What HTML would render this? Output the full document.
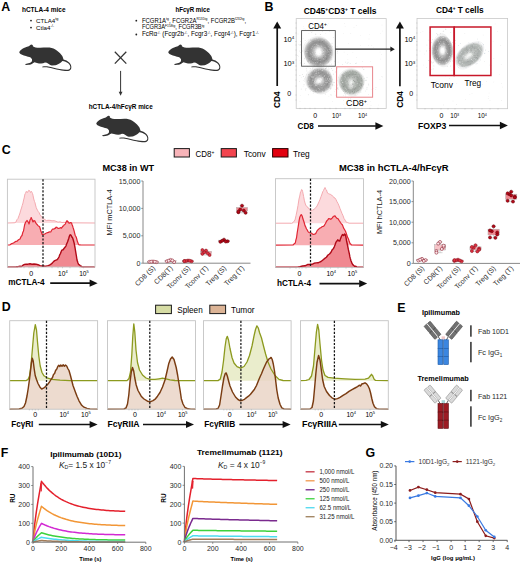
<!DOCTYPE html><html><head><meta charset="utf-8"><style>html,body{margin:0;padding:0;background:#fff;overflow:hidden;}svg{display:block;}text{font-family:"Liberation Sans",sans-serif;}</style></head><body>
<svg width="520" height="563" viewBox="0 0 520 563" font-family="Liberation Sans, sans-serif">
<rect width="520" height="563" fill="#ffffff"/>
<defs><path id="mouse" d="M19.3,52.1 C20.2,50.6 22,49 23.9,48.1 C25.6,47.3 27.2,46.8 28.8,46.3 L31.1,44.5 L32.7,44.9 L32.9,46.3 C34.5,47.5 37,47.9 40.1,47.8 C43,47.6 46.5,47.3 49.6,47.5 C52.3,47.8 54.8,49.1 57.1,50.7 C59.2,52.2 61.2,54.2 62.3,56.1 C62.9,57.2 63.2,58.4 63.5,59.6 C65.5,60 67.6,61.1 69.2,62.5 C70.8,63.9 71.6,65.8 71.3,68 C71,69.8 69.8,70.8 68,71 C65.8,71.2 62.5,70.8 59.4,70.1 C55.5,69.3 51.5,67.9 47.9,67.5 C46,67.3 44,67.3 42.5,67.6 L42.4,66.6 C44.5,66.3 46.5,66.3 48.2,66.5 C51.8,66.9 55.8,68.3 59.6,69.1 C62.6,69.7 65.6,70 67.8,69.8 C69.4,69.6 70.2,68.8 70.3,67.6 C70.4,65.8 69.6,64.3 68.2,63.2 C66.6,62 64.5,61.2 62.4,61 C61.4,62.2 60.4,63 59.4,63.6 C58.2,64.5 56.8,65.1 55.4,65.2 L51.9,65.5 C50.4,65.3 49.2,64.4 48.4,63.7 C47.4,63 46.2,62.6 45,62.5 C43.8,63 42.5,63.4 41.2,63.5 C39.6,63.5 38.2,63.2 37,62.9 L34.4,62.3 C33.6,62.7 32.9,63.2 32.6,63.4 C31.6,64.2 30.1,64.5 28.6,64.7 L26.1,65 C25.2,65 24.9,64.4 25.5,64.1 C26.6,63.7 28.2,63.4 29.4,63.1 C30.6,62.7 31.5,62.2 31.9,61.3 C32.1,60.6 32.1,60 32,59.3 C31.5,58.5 31,58 30.6,57.6 C29.8,57.1 29,56.9 28,56.7 C26.5,56.3 25.2,56 23.9,55.6 C22.6,55.2 21.4,54.7 20.5,54.1 C19.8,53.6 19.2,52.9 19.3,52.1 Z" fill="#333333"/>
<radialGradient id="cg" cx="50%" cy="50%" r="50%"><stop offset="0" stop-color="#ffffff"/><stop offset="0.15" stop-color="#f4f4f4"/><stop offset="0.3" stop-color="#d0d0d0"/><stop offset="0.5" stop-color="#a6a6a6"/><stop offset="0.68" stop-color="#969696"/><stop offset="0.82" stop-color="#b2b2b2"/><stop offset="0.93" stop-color="#d4d4d4"/><stop offset="1" stop-color="#ececec" stop-opacity="0.5"/></radialGradient>
<radialGradient id="cg2" cx="50%" cy="50%" r="50%"><stop offset="0" stop-color="#f8f8f8"/><stop offset="0.18" stop-color="#dcdcdc"/><stop offset="0.45" stop-color="#a8a8a8"/><stop offset="0.7" stop-color="#a0a0a0"/><stop offset="0.88" stop-color="#c4c4c4"/><stop offset="1" stop-color="#e8e8e8" stop-opacity="0.4"/></radialGradient>
<radialGradient id="cg3" cx="50%" cy="50%" r="50%"><stop offset="0" stop-color="#e8ece8"/><stop offset="0.3" stop-color="#c0c4c0"/><stop offset="0.6" stop-color="#a8aca8"/><stop offset="0.85" stop-color="#b8bcb8"/><stop offset="1" stop-color="#e0e0e0" stop-opacity="0.4"/></radialGradient>
<filter id="bl" x="-50%" y="-50%" width="200%" height="200%"><feGaussianBlur stdDeviation="1.2"/></filter>
</defs>
<text x="1.2" y="11.2" font-size="12.4" font-weight="bold" >A</text>
<text x="22" y="12.3" font-size="6.6" font-weight="bold" textLength="43.5" lengthAdjust="spacingAndGlyphs" >hCTLA-4 mice</text>
<circle cx="31" cy="20.6" r="0.9" fill="#222"/>
<circle cx="31" cy="27.6" r="0.9" fill="#222"/>
<text x="36" y="22.6" font-size="6.2">CTLA4<tspan font-size="3.8" dy="-2.4">tg</tspan></text>
<text x="36" y="29.6" font-size="6.2">Ctla4<tspan font-size="3.8" dy="-2.4">-/-</tspan></text>
<text x="175.4" y="11.9" font-size="6.6" font-weight="bold" textLength="34.4" lengthAdjust="spacingAndGlyphs" >hFcγR mice</text>
<circle cx="136.3" cy="20.7" r="0.9" fill="#222"/>
<circle cx="136.3" cy="34.5" r="0.9" fill="#222"/>
<text x="141.9" y="22.7" font-size="6.3" textLength="104.2" lengthAdjust="spacingAndGlyphs">FCGR1A<tspan font-size="3.6" dy="-2.4">tg</tspan><tspan dy="2.4">, FCGR2A</tspan><tspan font-size="3.6" dy="-2.4">R131tg</tspan><tspan dy="2.4">, FCGR2B</tspan><tspan font-size="3.6" dy="-2.4">I232tg</tspan><tspan dy="2.4">,</tspan></text>
<text x="141.9" y="29.4" font-size="6.3" textLength="62.5" lengthAdjust="spacingAndGlyphs">FCGR3A<tspan font-size="3.6" dy="-2.4">F158tg</tspan><tspan dy="2.4">, FCGR3B</tspan><tspan font-size="3.6" dy="-2.4">tg</tspan></text>
<text x="141.9" y="36.3" font-size="6.3" textLength="117" lengthAdjust="spacingAndGlyphs">FcRα<tspan font-size="3.6" dy="-2.4">-/-</tspan><tspan dy="2.4"> (Fcgr2b</tspan><tspan font-size="3.6" dy="-2.4">-/-</tspan><tspan dy="2.4">, Fcgr3</tspan><tspan font-size="3.6" dy="-2.4">-/-</tspan><tspan dy="2.4">, Fcgr4</tspan><tspan font-size="3.6" dy="-2.4">-/-</tspan><tspan dy="2.4">), Fcgr1</tspan><tspan font-size="3.6" dy="-2.4">-/-</tspan></text>
<use href="#mouse" x="0" y="0"/>
<use href="#mouse" x="149" y="0"/>
<use href="#mouse" x="77" y="71.2"/>
<line x1="114.8" y1="51.8" x2="126.3" y2="63.6" stroke="#333" stroke-width="1.25" />
<line x1="126.3" y1="51.8" x2="114.8" y2="63.6" stroke="#333" stroke-width="1.25" />
<line x1="120.6" y1="70.9" x2="120.6" y2="92.5" stroke="#333" stroke-width="1.0" />
<polygon points="120.6,95.8 118.7,91.7 122.5,91.7" fill="#333"/>
<text x="88.7" y="109.4" font-size="6.6" font-weight="bold" textLength="64" lengthAdjust="spacingAndGlyphs" >hCTLA-4/hFcγR mice</text>
<text x="264.6" y="11.0" font-size="12.4" font-weight="bold" >B</text>
<text x="303.7" y="13.5" font-size="8.7" font-weight="bold" textLength="72.8" lengthAdjust="spacingAndGlyphs">CD45<tspan font-size="5" dy="-3">+</tspan><tspan dy="3">CD3</tspan><tspan font-size="5" dy="-3">+</tspan><tspan dy="3"> T cells</tspan></text>
<text x="436" y="12.9" font-size="8.7" font-weight="bold" textLength="47.6" lengthAdjust="spacingAndGlyphs">CD4<tspan font-size="5" dy="-3">+</tspan><tspan dy="3"> T cells</tspan></text>
<rect x="296.2" y="18.6" width="90.0" height="89.8" fill="none" stroke="#c8c8c8" stroke-width="0.8" />
<line x1="295.4" y1="23" x2="296.6" y2="23" stroke="#aaa" stroke-width="0.4" />
<line x1="295.4" y1="28" x2="296.6" y2="28" stroke="#aaa" stroke-width="0.4" />
<line x1="295.4" y1="33" x2="296.6" y2="33" stroke="#aaa" stroke-width="0.4" />
<line x1="295.4" y1="41.5" x2="296.6" y2="41.5" stroke="#aaa" stroke-width="0.4" />
<line x1="295.4" y1="45" x2="296.6" y2="45" stroke="#aaa" stroke-width="0.4" />
<line x1="295.4" y1="50" x2="296.6" y2="50" stroke="#aaa" stroke-width="0.4" />
<line x1="295.4" y1="55" x2="296.6" y2="55" stroke="#aaa" stroke-width="0.4" />
<line x1="295.4" y1="60" x2="296.6" y2="60" stroke="#aaa" stroke-width="0.4" />
<line x1="295.4" y1="66" x2="296.6" y2="66" stroke="#aaa" stroke-width="0.4" />
<line x1="295.4" y1="70" x2="296.6" y2="70" stroke="#aaa" stroke-width="0.4" />
<line x1="295.4" y1="75" x2="296.6" y2="75" stroke="#aaa" stroke-width="0.4" />
<line x1="295.4" y1="80" x2="296.6" y2="80" stroke="#aaa" stroke-width="0.4" />
<line x1="295.4" y1="86" x2="296.6" y2="86" stroke="#aaa" stroke-width="0.4" />
<line x1="295.4" y1="95" x2="296.6" y2="95" stroke="#aaa" stroke-width="0.4" />
<line x1="295.4" y1="100" x2="296.6" y2="100" stroke="#aaa" stroke-width="0.4" />
<line x1="300" y1="107.8" x2="300" y2="109.2" stroke="#aaa" stroke-width="0.4" />
<line x1="305" y1="107.8" x2="305" y2="109.2" stroke="#aaa" stroke-width="0.4" />
<line x1="310" y1="107.8" x2="310" y2="109.2" stroke="#aaa" stroke-width="0.4" />
<line x1="315" y1="107.8" x2="315" y2="109.2" stroke="#aaa" stroke-width="0.4" />
<line x1="325" y1="107.8" x2="325" y2="109.2" stroke="#aaa" stroke-width="0.4" />
<line x1="330" y1="107.8" x2="330" y2="109.2" stroke="#aaa" stroke-width="0.4" />
<line x1="336" y1="107.8" x2="336" y2="109.2" stroke="#aaa" stroke-width="0.4" />
<line x1="345" y1="107.8" x2="345" y2="109.2" stroke="#aaa" stroke-width="0.4" />
<line x1="350" y1="107.8" x2="350" y2="109.2" stroke="#aaa" stroke-width="0.4" />
<line x1="355" y1="107.8" x2="355" y2="109.2" stroke="#aaa" stroke-width="0.4" />
<line x1="362" y1="107.8" x2="362" y2="109.2" stroke="#aaa" stroke-width="0.4" />
<line x1="370" y1="107.8" x2="370" y2="109.2" stroke="#aaa" stroke-width="0.4" />
<line x1="378" y1="107.8" x2="378" y2="109.2" stroke="#aaa" stroke-width="0.4" />
<circle cx="325.8" cy="33.8" r="0.3" fill="#bbb" opacity="0.6"/>
<circle cx="354.0" cy="27.2" r="0.3" fill="#bbb" opacity="0.6"/>
<circle cx="344.1" cy="52.1" r="0.3" fill="#bbb" opacity="0.6"/>
<circle cx="303.0" cy="64.1" r="0.3" fill="#bbb" opacity="0.6"/>
<circle cx="301.2" cy="57.9" r="0.3" fill="#bbb" opacity="0.6"/>
<circle cx="304.0" cy="28.7" r="0.3" fill="#bbb" opacity="0.6"/>
<circle cx="334.5" cy="91.3" r="0.3" fill="#bbb" opacity="0.6"/>
<circle cx="308.6" cy="40.0" r="0.3" fill="#bbb" opacity="0.6"/>
<circle cx="352.0" cy="101.6" r="0.3" fill="#bbb" opacity="0.6"/>
<circle cx="347.6" cy="54.7" r="0.3" fill="#bbb" opacity="0.6"/>
<circle cx="382.0" cy="25.0" r="0.3" fill="#bbb" opacity="0.6"/>
<circle cx="371.8" cy="45.6" r="0.3" fill="#bbb" opacity="0.6"/>
<circle cx="310.4" cy="31.0" r="0.3" fill="#bbb" opacity="0.6"/>
<circle cx="324.5" cy="90.4" r="0.3" fill="#bbb" opacity="0.6"/>
<circle cx="313.5" cy="70.4" r="0.3" fill="#bbb" opacity="0.6"/>
<circle cx="352.9" cy="52.7" r="0.3" fill="#bbb" opacity="0.6"/>
<circle cx="345.1" cy="26.3" r="0.3" fill="#bbb" opacity="0.6"/>
<circle cx="303.1" cy="38.5" r="0.3" fill="#bbb" opacity="0.6"/>
<circle cx="356.5" cy="57.3" r="0.3" fill="#bbb" opacity="0.6"/>
<circle cx="325.0" cy="70.8" r="0.3" fill="#bbb" opacity="0.6"/>
<circle cx="337.0" cy="46.5" r="0.3" fill="#bbb" opacity="0.6"/>
<circle cx="366.3" cy="80.4" r="0.3" fill="#bbb" opacity="0.6"/>
<circle cx="319.0" cy="69.8" r="0.3" fill="#bbb" opacity="0.6"/>
<circle cx="343.2" cy="95.4" r="0.3" fill="#bbb" opacity="0.6"/>
<circle cx="360.7" cy="45.5" r="0.3" fill="#bbb" opacity="0.6"/>
<circle cx="382.3" cy="31.0" r="0.3" fill="#bbb" opacity="0.6"/>
<circle cx="334.0" cy="85.4" r="0.3" fill="#bbb" opacity="0.6"/>
<circle cx="311.1" cy="62.6" r="0.3" fill="#bbb" opacity="0.6"/>
<circle cx="301.4" cy="77.8" r="0.3" fill="#bbb" opacity="0.6"/>
<circle cx="363.8" cy="69.7" r="0.3" fill="#bbb" opacity="0.6"/>
<circle cx="373.3" cy="47.7" r="0.3" fill="#bbb" opacity="0.6"/>
<circle cx="357.8" cy="71.5" r="0.3" fill="#bbb" opacity="0.6"/>
<circle cx="347.9" cy="59.8" r="0.3" fill="#bbb" opacity="0.6"/>
<circle cx="370.2" cy="101.3" r="0.3" fill="#bbb" opacity="0.6"/>
<circle cx="338.8" cy="77.5" r="0.3" fill="#bbb" opacity="0.6"/>
<circle cx="303.2" cy="80.6" r="0.3" fill="#bbb" opacity="0.6"/>
<circle cx="353.7" cy="105.4" r="0.3" fill="#bbb" opacity="0.6"/>
<circle cx="368.7" cy="45.2" r="0.3" fill="#bbb" opacity="0.6"/>
<circle cx="331.2" cy="77.8" r="0.3" fill="#bbb" opacity="0.6"/>
<circle cx="299.9" cy="60.2" r="0.3" fill="#bbb" opacity="0.6"/>
<circle cx="312.5" cy="31.0" r="0.3" fill="#bbb" opacity="0.6"/>
<circle cx="303.1" cy="86.3" r="0.3" fill="#bbb" opacity="0.6"/>
<circle cx="309.1" cy="42.0" r="0.3" fill="#bbb" opacity="0.6"/>
<circle cx="331.6" cy="95.1" r="0.3" fill="#bbb" opacity="0.6"/>
<circle cx="304.9" cy="59.2" r="0.3" fill="#bbb" opacity="0.6"/>
<circle cx="345.3" cy="96.1" r="0.3" fill="#bbb" opacity="0.6"/>
<circle cx="368.5" cy="94.4" r="0.3" fill="#bbb" opacity="0.6"/>
<circle cx="321.9" cy="56.3" r="0.3" fill="#bbb" opacity="0.6"/>
<circle cx="328.9" cy="96.2" r="0.3" fill="#bbb" opacity="0.6"/>
<circle cx="380.4" cy="33.8" r="0.3" fill="#bbb" opacity="0.6"/>
<circle cx="313.2" cy="40.7" r="0.3" fill="#bbb" opacity="0.6"/>
<circle cx="318.1" cy="62.2" r="0.3" fill="#bbb" opacity="0.6"/>
<circle cx="348.7" cy="43.3" r="0.3" fill="#bbb" opacity="0.6"/>
<circle cx="298.4" cy="56.6" r="0.3" fill="#bbb" opacity="0.6"/>
<circle cx="329.8" cy="69.1" r="0.3" fill="#bbb" opacity="0.6"/>
<circle cx="380.0" cy="79.7" r="0.3" fill="#bbb" opacity="0.6"/>
<circle cx="342.3" cy="73.5" r="0.3" fill="#bbb" opacity="0.6"/>
<circle cx="356.2" cy="25.6" r="0.3" fill="#bbb" opacity="0.6"/>
<circle cx="375.4" cy="87.3" r="0.3" fill="#bbb" opacity="0.6"/>
<circle cx="373.2" cy="88.8" r="0.3" fill="#bbb" opacity="0.6"/>
<circle cx="331.7" cy="54.9" r="0.3" fill="#bbb" opacity="0.6"/>
<circle cx="306.9" cy="74.9" r="0.3" fill="#bbb" opacity="0.6"/>
<circle cx="303.4" cy="26.7" r="0.3" fill="#bbb" opacity="0.6"/>
<circle cx="316.0" cy="34.8" r="0.3" fill="#bbb" opacity="0.6"/>
<circle cx="327.2" cy="25.5" r="0.3" fill="#bbb" opacity="0.6"/>
<circle cx="298.0" cy="33.9" r="0.3" fill="#bbb" opacity="0.6"/>
<circle cx="306.7" cy="51.9" r="0.3" fill="#bbb" opacity="0.6"/>
<circle cx="300.2" cy="95.3" r="0.3" fill="#bbb" opacity="0.6"/>
<circle cx="350.8" cy="33.6" r="0.3" fill="#bbb" opacity="0.6"/>
<circle cx="319.7" cy="50.5" r="0.3" fill="#bbb" opacity="0.6"/>
<circle cx="329.3" cy="31.4" r="0.3" fill="#bbb" opacity="0.6"/>
<circle cx="371.0" cy="105.4" r="0.3" fill="#bbb" opacity="0.6"/>
<circle cx="338.1" cy="62.1" r="0.3" fill="#bbb" opacity="0.6"/>
<circle cx="305.4" cy="29.7" r="0.3" fill="#bbb" opacity="0.6"/>
<circle cx="327.5" cy="43.5" r="0.3" fill="#bbb" opacity="0.6"/>
<circle cx="369.3" cy="34.7" r="0.3" fill="#bbb" opacity="0.6"/>
<circle cx="300.0" cy="101.8" r="0.3" fill="#bbb" opacity="0.6"/>
<circle cx="343.4" cy="33.5" r="0.3" fill="#bbb" opacity="0.6"/>
<circle cx="344.7" cy="23.3" r="0.3" fill="#bbb" opacity="0.6"/>
<circle cx="343.4" cy="104.2" r="0.3" fill="#bbb" opacity="0.6"/>
<circle cx="372.2" cy="80.2" r="0.3" fill="#bbb" opacity="0.6"/>
<circle cx="320.5" cy="52.2" r="0.3" fill="#bbb" opacity="0.6"/>
<circle cx="312.4" cy="86.6" r="0.3" fill="#bbb" opacity="0.6"/>
<circle cx="343.8" cy="87.2" r="0.3" fill="#bbb" opacity="0.6"/>
<circle cx="326.4" cy="40.0" r="0.3" fill="#bbb" opacity="0.6"/>
<circle cx="367.8" cy="104.7" r="0.3" fill="#bbb" opacity="0.6"/>
<circle cx="371.3" cy="89.5" r="0.3" fill="#bbb" opacity="0.6"/>
<circle cx="368.4" cy="83.9" r="0.3" fill="#bbb" opacity="0.6"/>
<circle cx="317.5" cy="65.0" r="0.3" fill="#bbb" opacity="0.6"/>
<circle cx="328.6" cy="23.5" r="0.3" fill="#bbb" opacity="0.6"/>
<circle cx="300.4" cy="44.8" r="0.3" fill="#bbb" opacity="0.6"/>
<circle cx="320.3" cy="79.9" r="0.3" fill="#bbb" opacity="0.6"/>
<circle cx="380.3" cy="59.0" r="0.3" fill="#bbb" opacity="0.6"/>
<circle cx="378.6" cy="105.0" r="0.3" fill="#bbb" opacity="0.6"/>
<circle cx="380.1" cy="52.0" r="0.3" fill="#bbb" opacity="0.6"/>
<circle cx="317.0" cy="40.3" r="0.3" fill="#bbb" opacity="0.6"/>
<circle cx="314.9" cy="38.4" r="0.3" fill="#bbb" opacity="0.6"/>
<circle cx="351.7" cy="97.5" r="0.3" fill="#bbb" opacity="0.6"/>
<circle cx="370.3" cy="61.8" r="0.3" fill="#bbb" opacity="0.6"/>
<circle cx="354.2" cy="89.0" r="0.3" fill="#bbb" opacity="0.6"/>
<circle cx="305.3" cy="77.1" r="0.3" fill="#bbb" opacity="0.6"/>
<circle cx="376.2" cy="87.5" r="0.3" fill="#bbb" opacity="0.6"/>
<circle cx="362.5" cy="61.6" r="0.3" fill="#bbb" opacity="0.6"/>
<circle cx="313.4" cy="88.1" r="0.3" fill="#bbb" opacity="0.6"/>
<circle cx="326.6" cy="89.1" r="0.3" fill="#bbb" opacity="0.6"/>
<circle cx="381.6" cy="54.6" r="0.3" fill="#bbb" opacity="0.6"/>
<circle cx="332.5" cy="101.5" r="0.3" fill="#bbb" opacity="0.6"/>
<circle cx="360.3" cy="35.5" r="0.3" fill="#bbb" opacity="0.6"/>
<circle cx="308.9" cy="33.8" r="0.3" fill="#bbb" opacity="0.6"/>
<circle cx="375.8" cy="89.6" r="0.3" fill="#bbb" opacity="0.6"/>
<circle cx="310.6" cy="91.3" r="0.3" fill="#bbb" opacity="0.6"/>
<circle cx="382.3" cy="76.9" r="0.3" fill="#bbb" opacity="0.6"/>
<circle cx="328.1" cy="67.6" r="0.3" fill="#bbb" opacity="0.6"/>
<circle cx="309.3" cy="22.2" r="0.3" fill="#bbb" opacity="0.6"/>
<circle cx="381.5" cy="76.2" r="0.3" fill="#bbb" opacity="0.6"/>
<circle cx="343.3" cy="100.4" r="0.3" fill="#bbb" opacity="0.6"/>
<circle cx="335.3" cy="95.1" r="0.3" fill="#bbb" opacity="0.6"/>
<circle cx="369.0" cy="38.9" r="0.3" fill="#bbb" opacity="0.6"/>
<circle cx="319.7" cy="45.9" r="0.3" fill="#bbb" opacity="0.6"/>
<circle cx="318.7" cy="70.8" r="0.3" fill="#bbb" opacity="0.6"/>
<circle cx="317.0" cy="70.0" r="0.35" fill="#999" opacity="0.7"/>
<circle cx="331.7" cy="68.4" r="0.35" fill="#999" opacity="0.7"/>
<circle cx="307.9" cy="66.7" r="0.35" fill="#999" opacity="0.7"/>
<circle cx="300.6" cy="41.7" r="0.35" fill="#999" opacity="0.7"/>
<circle cx="300.3" cy="62.9" r="0.35" fill="#999" opacity="0.7"/>
<circle cx="300.9" cy="52.3" r="0.35" fill="#999" opacity="0.7"/>
<circle cx="305.0" cy="50.4" r="0.35" fill="#999" opacity="0.7"/>
<circle cx="304.6" cy="58.2" r="0.35" fill="#999" opacity="0.7"/>
<circle cx="337.2" cy="53.0" r="0.35" fill="#999" opacity="0.7"/>
<circle cx="325.8" cy="68.4" r="0.35" fill="#999" opacity="0.7"/>
<circle cx="315.3" cy="34.1" r="0.35" fill="#999" opacity="0.7"/>
<circle cx="310.2" cy="68.8" r="0.35" fill="#999" opacity="0.7"/>
<circle cx="300.0" cy="45.5" r="0.35" fill="#999" opacity="0.7"/>
<circle cx="331.7" cy="64.1" r="0.35" fill="#999" opacity="0.7"/>
<circle cx="318.1" cy="68.8" r="0.35" fill="#999" opacity="0.7"/>
<circle cx="320.4" cy="34.4" r="0.35" fill="#999" opacity="0.7"/>
<circle cx="300.5" cy="44.8" r="0.35" fill="#999" opacity="0.7"/>
<circle cx="332.0" cy="43.2" r="0.35" fill="#999" opacity="0.7"/>
<circle cx="305.1" cy="40.6" r="0.35" fill="#999" opacity="0.7"/>
<circle cx="299.7" cy="51.0" r="0.35" fill="#999" opacity="0.7"/>
<circle cx="301.6" cy="58.0" r="0.35" fill="#999" opacity="0.7"/>
<circle cx="297.8" cy="55.5" r="0.35" fill="#999" opacity="0.7"/>
<circle cx="311.8" cy="32.2" r="0.35" fill="#999" opacity="0.7"/>
<circle cx="332.0" cy="46.7" r="0.35" fill="#999" opacity="0.7"/>
<circle cx="299.0" cy="44.5" r="0.35" fill="#999" opacity="0.7"/>
<circle cx="325.5" cy="39.7" r="0.35" fill="#999" opacity="0.7"/>
<circle cx="329.9" cy="64.8" r="0.35" fill="#999" opacity="0.7"/>
<circle cx="331.4" cy="59.6" r="0.35" fill="#999" opacity="0.7"/>
<circle cx="334.3" cy="61.2" r="0.35" fill="#999" opacity="0.7"/>
<circle cx="322.2" cy="31.5" r="0.35" fill="#999" opacity="0.7"/>
<circle cx="328.5" cy="69.0" r="0.35" fill="#999" opacity="0.7"/>
<circle cx="310.5" cy="39.7" r="0.35" fill="#999" opacity="0.7"/>
<circle cx="333.2" cy="37.6" r="0.35" fill="#999" opacity="0.7"/>
<circle cx="321.9" cy="74.1" r="0.35" fill="#999" opacity="0.7"/>
<circle cx="304.5" cy="63.3" r="0.35" fill="#999" opacity="0.7"/>
<circle cx="337.5" cy="51.2" r="0.35" fill="#999" opacity="0.7"/>
<circle cx="326.6" cy="67.5" r="0.35" fill="#999" opacity="0.7"/>
<circle cx="302.4" cy="50.9" r="0.35" fill="#999" opacity="0.7"/>
<circle cx="323.2" cy="68.2" r="0.35" fill="#999" opacity="0.7"/>
<circle cx="315.7" cy="38.6" r="0.35" fill="#999" opacity="0.7"/>
<circle cx="303.5" cy="76.4" r="0.35" fill="#999" opacity="0.7"/>
<circle cx="334.5" cy="82.5" r="0.35" fill="#999" opacity="0.7"/>
<circle cx="306.9" cy="70.9" r="0.35" fill="#999" opacity="0.7"/>
<circle cx="338.0" cy="87.9" r="0.35" fill="#999" opacity="0.7"/>
<circle cx="323.9" cy="64.1" r="0.35" fill="#999" opacity="0.7"/>
<circle cx="330.9" cy="88.8" r="0.35" fill="#999" opacity="0.7"/>
<circle cx="337.5" cy="85.0" r="0.35" fill="#999" opacity="0.7"/>
<circle cx="317.2" cy="92.8" r="0.35" fill="#999" opacity="0.7"/>
<circle cx="301.2" cy="89.0" r="0.35" fill="#999" opacity="0.7"/>
<circle cx="325.3" cy="69.5" r="0.35" fill="#999" opacity="0.7"/>
<circle cx="330.9" cy="94.8" r="0.35" fill="#999" opacity="0.7"/>
<circle cx="302.3" cy="74.3" r="0.35" fill="#999" opacity="0.7"/>
<circle cx="330.4" cy="87.1" r="0.35" fill="#999" opacity="0.7"/>
<circle cx="312.8" cy="68.2" r="0.35" fill="#999" opacity="0.7"/>
<circle cx="337.3" cy="88.6" r="0.35" fill="#999" opacity="0.7"/>
<circle cx="306.2" cy="68.8" r="0.35" fill="#999" opacity="0.7"/>
<circle cx="336.0" cy="89.4" r="0.35" fill="#999" opacity="0.7"/>
<circle cx="337.0" cy="87.8" r="0.35" fill="#999" opacity="0.7"/>
<circle cx="304.0" cy="84.8" r="0.35" fill="#999" opacity="0.7"/>
<circle cx="299.9" cy="75.4" r="0.35" fill="#999" opacity="0.7"/>
<circle cx="317.4" cy="92.8" r="0.35" fill="#999" opacity="0.7"/>
<circle cx="304.4" cy="78.9" r="0.35" fill="#999" opacity="0.7"/>
<circle cx="330.0" cy="88.7" r="0.35" fill="#999" opacity="0.7"/>
<circle cx="332.8" cy="84.8" r="0.35" fill="#999" opacity="0.7"/>
<circle cx="313.2" cy="93.0" r="0.35" fill="#999" opacity="0.7"/>
<circle cx="319.9" cy="68.1" r="0.35" fill="#999" opacity="0.7"/>
<circle cx="304.6" cy="81.0" r="0.35" fill="#999" opacity="0.7"/>
<circle cx="311.5" cy="90.1" r="0.35" fill="#999" opacity="0.7"/>
<circle cx="319.0" cy="92.1" r="0.35" fill="#999" opacity="0.7"/>
<circle cx="317.2" cy="66.4" r="0.35" fill="#999" opacity="0.7"/>
<circle cx="325.2" cy="94.1" r="0.35" fill="#999" opacity="0.7"/>
<circle cx="331.7" cy="76.3" r="0.35" fill="#999" opacity="0.7"/>
<circle cx="325.9" cy="68.4" r="0.35" fill="#999" opacity="0.7"/>
<circle cx="299.5" cy="81.5" r="0.35" fill="#999" opacity="0.7"/>
<circle cx="305.7" cy="89.9" r="0.35" fill="#999" opacity="0.7"/>
<circle cx="311.1" cy="64.8" r="0.35" fill="#999" opacity="0.7"/>
<circle cx="308.3" cy="94.8" r="0.35" fill="#999" opacity="0.7"/>
<circle cx="314.2" cy="66.4" r="0.35" fill="#999" opacity="0.7"/>
<circle cx="306.0" cy="88.5" r="0.35" fill="#999" opacity="0.7"/>
<circle cx="332.2" cy="85.0" r="0.35" fill="#999" opacity="0.7"/>
<circle cx="367.0" cy="87.5" r="0.35" fill="#9aa" opacity="0.7"/>
<circle cx="349.5" cy="93.2" r="0.35" fill="#9aa" opacity="0.7"/>
<circle cx="366.9" cy="89.1" r="0.35" fill="#9aa" opacity="0.7"/>
<circle cx="362.5" cy="67.8" r="0.35" fill="#9aa" opacity="0.7"/>
<circle cx="347.0" cy="93.5" r="0.35" fill="#9aa" opacity="0.7"/>
<circle cx="345.6" cy="94.8" r="0.35" fill="#9aa" opacity="0.7"/>
<circle cx="359.0" cy="92.7" r="0.35" fill="#9aa" opacity="0.7"/>
<circle cx="348.3" cy="98.9" r="0.35" fill="#9aa" opacity="0.7"/>
<circle cx="367.0" cy="77.3" r="0.35" fill="#9aa" opacity="0.7"/>
<circle cx="350.7" cy="98.9" r="0.35" fill="#9aa" opacity="0.7"/>
<circle cx="344.2" cy="93.6" r="0.35" fill="#9aa" opacity="0.7"/>
<circle cx="366.0" cy="80.1" r="0.35" fill="#9aa" opacity="0.7"/>
<circle cx="333.3" cy="82.5" r="0.35" fill="#9aa" opacity="0.7"/>
<circle cx="355.1" cy="94.9" r="0.35" fill="#9aa" opacity="0.7"/>
<circle cx="365.1" cy="80.4" r="0.35" fill="#9aa" opacity="0.7"/>
<circle cx="363.6" cy="88.0" r="0.35" fill="#9aa" opacity="0.7"/>
<circle cx="362.7" cy="83.1" r="0.35" fill="#9aa" opacity="0.7"/>
<circle cx="345.0" cy="92.9" r="0.35" fill="#9aa" opacity="0.7"/>
<circle cx="335.3" cy="71.9" r="0.35" fill="#9aa" opacity="0.7"/>
<circle cx="350.1" cy="63.3" r="0.35" fill="#9aa" opacity="0.7"/>
<circle cx="345.8" cy="62.1" r="0.35" fill="#9aa" opacity="0.7"/>
<circle cx="338.1" cy="89.2" r="0.35" fill="#9aa" opacity="0.7"/>
<circle cx="364.1" cy="78.7" r="0.35" fill="#9aa" opacity="0.7"/>
<circle cx="347.1" cy="63.6" r="0.35" fill="#9aa" opacity="0.7"/>
<circle cx="368.8" cy="84.9" r="0.35" fill="#9aa" opacity="0.7"/>
<circle cx="363.9" cy="69.6" r="0.35" fill="#9aa" opacity="0.7"/>
<circle cx="348.0" cy="62.2" r="0.35" fill="#9aa" opacity="0.7"/>
<circle cx="360.9" cy="92.1" r="0.35" fill="#9aa" opacity="0.7"/>
<circle cx="330.5" cy="79.5" r="0.35" fill="#9aa" opacity="0.7"/>
<circle cx="356.5" cy="63.1" r="0.35" fill="#9aa" opacity="0.7"/>
<circle cx="332.8" cy="70.7" r="0.35" fill="#9aa" opacity="0.7"/>
<circle cx="342.5" cy="64.5" r="0.35" fill="#9aa" opacity="0.7"/>
<circle cx="351.7" cy="92.1" r="0.35" fill="#9aa" opacity="0.7"/>
<circle cx="360.6" cy="90.8" r="0.35" fill="#9aa" opacity="0.7"/>
<circle cx="365.4" cy="91.0" r="0.35" fill="#9aa" opacity="0.7"/>
<circle cx="333.3" cy="74.1" r="0.35" fill="#9aa" opacity="0.7"/>
<circle cx="337.2" cy="68.0" r="0.35" fill="#9aa" opacity="0.7"/>
<circle cx="337.0" cy="80.8" r="0.35" fill="#9aa" opacity="0.7"/>
<circle cx="355.6" cy="63.4" r="0.35" fill="#9aa" opacity="0.7"/>
<circle cx="332.8" cy="79.7" r="0.35" fill="#9aa" opacity="0.7"/>
<ellipse cx="318.6" cy="52.2" rx="14.8" ry="15.2" fill="url(#cg)"/>
<path d="M321.76,52.20 L321.75,52.63 L321.68,53.05 L321.57,53.46 L321.40,53.86 L321.19,54.24 L320.92,54.58 L320.60,54.88 L320.24,55.12 L319.85,55.30 L319.44,55.41 L319.02,55.46 L318.60,55.47 L318.18,55.46 L317.76,55.42 L317.33,55.35 L316.90,55.22 L316.49,55.02 L316.13,54.74 L315.84,54.38 L315.64,53.95 L315.54,53.50 L315.52,53.05 L315.54,52.61 L315.58,52.20 L315.63,51.80 L315.68,51.40 L315.75,50.99 L315.87,50.58 L316.04,50.18 L316.28,49.82 L316.59,49.51 L316.95,49.26 L317.33,49.06 L317.74,48.92 L318.17,48.82 L318.60,48.77 L319.04,48.77 L319.48,48.84 L319.90,48.99 L320.28,49.20 L320.63,49.48 L320.92,49.81 L321.17,50.17 L321.37,50.56 L321.53,50.95 L321.65,51.36 L321.73,51.78 Z" fill="none" stroke="#6a6a6a" stroke-width="0.35" stroke-opacity="0.28"/>
<path d="M322.81,52.20 L322.80,52.77 L322.71,53.33 L322.56,53.89 L322.34,54.42 L322.05,54.92 L321.69,55.38 L321.27,55.77 L320.78,56.09 L320.26,56.31 L319.71,56.46 L319.16,56.54 L318.60,56.57 L318.04,56.56 L317.47,56.51 L316.90,56.42 L316.33,56.24 L315.79,55.97 L315.32,55.57 L314.95,55.08 L314.70,54.51 L314.58,53.91 L314.55,53.31 L314.57,52.74 L314.61,52.20 L314.65,51.67 L314.70,51.13 L314.79,50.58 L314.93,50.03 L315.17,49.49 L315.50,49.01 L315.91,48.60 L316.39,48.27 L316.91,48.01 L317.46,47.82 L318.02,47.69 L318.60,47.63 L319.19,47.64 L319.76,47.74 L320.32,47.93 L320.83,48.23 L321.29,48.61 L321.67,49.04 L322.00,49.52 L322.27,50.03 L322.48,50.55 L322.65,51.09 L322.76,51.64 Z" fill="none" stroke="#6a6a6a" stroke-width="0.35" stroke-opacity="0.28"/>
<path d="M323.86,52.20 L323.85,52.91 L323.75,53.62 L323.56,54.31 L323.29,54.98 L322.92,55.61 L322.47,56.17 L321.93,56.66 L321.33,57.05 L320.67,57.33 L319.99,57.52 L319.29,57.62 L318.60,57.67 L317.90,57.67 L317.19,57.62 L316.46,57.50 L315.75,57.27 L315.08,56.91 L314.51,56.40 L314.08,55.77 L313.79,55.05 L313.65,54.31 L313.60,53.57 L313.62,52.87 L313.64,52.20 L313.67,51.53 L313.71,50.85 L313.80,50.16 L313.98,49.46 L314.28,48.80 L314.70,48.20 L315.23,47.69 L315.83,47.28 L316.49,46.96 L317.17,46.72 L317.88,46.56 L318.60,46.48 L319.33,46.50 L320.05,46.63 L320.74,46.89 L321.37,47.27 L321.93,47.74 L322.41,48.29 L322.82,48.88 L323.15,49.50 L323.43,50.15 L323.65,50.81 L323.79,51.50 Z" fill="none" stroke="#6a6a6a" stroke-width="0.35" stroke-opacity="0.28"/>
<path d="M324.92,52.20 L324.91,53.05 L324.80,53.91 L324.57,54.74 L324.24,55.54 L323.80,56.30 L323.25,56.97 L322.60,57.55 L321.87,58.01 L321.08,58.35 L320.26,58.57 L319.43,58.71 L318.60,58.78 L317.76,58.79 L316.89,58.74 L316.02,58.59 L315.17,58.30 L314.39,57.84 L313.72,57.21 L313.22,56.44 L312.90,55.58 L312.74,54.69 L312.68,53.83 L312.67,53.00 L312.67,52.20 L312.66,51.40 L312.69,50.57 L312.79,49.73 L313.01,48.89 L313.38,48.09 L313.90,47.37 L314.54,46.77 L315.27,46.28 L316.06,45.90 L316.88,45.62 L317.73,45.43 L318.60,45.33 L319.48,45.37 L320.34,45.54 L321.16,45.86 L321.91,46.32 L322.57,46.89 L323.14,47.54 L323.63,48.24 L324.04,48.98 L324.38,49.74 L324.65,50.54 L324.83,51.36 Z" fill="none" stroke="#6a6a6a" stroke-width="0.35" stroke-opacity="0.28"/>
<path d="M325.99,52.20 L325.99,53.20 L325.85,54.20 L325.59,55.17 L325.20,56.11 L324.67,56.99 L324.02,57.77 L323.26,58.44 L322.41,58.97 L321.49,59.36 L320.54,59.63 L319.57,59.80 L318.60,59.89 L317.61,59.92 L316.60,59.86 L315.58,59.68 L314.60,59.32 L313.70,58.76 L312.95,58.00 L312.39,57.09 L312.04,56.09 L311.85,55.07 L311.77,54.08 L311.72,53.13 L311.68,52.20 L311.64,51.26 L311.65,50.29 L311.76,49.29 L312.02,48.30 L312.47,47.37 L313.09,46.54 L313.85,45.85 L314.71,45.29 L315.64,44.85 L316.60,44.52 L317.59,44.29 L318.60,44.19 L319.62,44.24 L320.62,44.45 L321.57,44.84 L322.43,45.38 L323.20,46.05 L323.86,46.80 L324.43,47.60 L324.92,48.45 L325.33,49.34 L325.65,50.26 L325.88,51.22 Z" fill="none" stroke="#6a6a6a" stroke-width="0.35" stroke-opacity="0.44"/>
<path d="M327.07,52.20 L327.07,53.34 L326.91,54.49 L326.61,55.61 L326.16,56.68 L325.55,57.68 L324.80,58.57 L323.92,59.33 L322.94,59.93 L321.90,60.37 L320.81,60.69 L319.71,60.89 L318.60,61.02 L317.46,61.06 L316.30,61.00 L315.14,60.78 L314.02,60.34 L313.02,59.67 L312.19,58.78 L311.59,57.73 L311.20,56.59 L310.98,55.44 L310.86,54.33 L310.77,53.26 L310.68,52.20 L310.60,51.12 L310.58,49.99 L310.70,48.84 L311.02,47.70 L311.55,46.64 L312.28,45.71 L313.17,44.93 L314.16,44.29 L315.21,43.80 L316.31,43.42 L317.44,43.17 L318.60,43.06 L319.76,43.12 L320.90,43.38 L321.97,43.83 L322.95,44.46 L323.82,45.22 L324.57,46.06 L325.23,46.97 L325.80,47.93 L326.28,48.93 L326.66,49.98 L326.93,51.07 Z" fill="none" stroke="#6a6a6a" stroke-width="0.35" stroke-opacity="0.44"/>
<path d="M328.16,52.20 L328.16,53.49 L327.99,54.78 L327.64,56.05 L327.12,57.25 L326.43,58.37 L325.58,59.37 L324.58,60.21 L323.48,60.88 L322.30,61.38 L321.09,61.75 L319.86,61.99 L318.60,62.15 L317.32,62.22 L316.01,62.14 L314.70,61.87 L313.46,61.35 L312.35,60.57 L311.45,59.54 L310.80,58.34 L310.38,57.07 L310.13,55.80 L309.96,54.58 L309.81,53.39 L309.66,52.20 L309.52,50.97 L309.49,49.69 L309.63,48.38 L310.00,47.10 L310.62,45.91 L311.47,44.87 L312.48,44.01 L313.60,43.30 L314.79,42.75 L316.02,42.32 L317.30,42.04 L318.60,41.93 L319.91,42.01 L321.18,42.32 L322.37,42.84 L323.46,43.55 L324.43,44.40 L325.28,45.34 L326.03,46.35 L326.68,47.41 L327.24,48.52 L327.69,49.70 L328.00,50.93 Z" fill="none" stroke="#6a6a6a" stroke-width="0.35" stroke-opacity="0.44"/>
<path d="M329.27,52.20 L329.26,53.64 L329.07,55.08 L328.67,56.49 L328.09,57.83 L327.31,59.06 L326.35,60.16 L325.24,61.09 L324.01,61.83 L322.71,62.39 L321.37,62.81 L320.00,63.10 L318.60,63.30 L317.17,63.37 L315.71,63.28 L314.26,62.96 L312.90,62.35 L311.70,61.44 L310.74,60.27 L310.04,58.94 L309.58,57.55 L309.28,56.16 L309.06,54.83 L308.83,53.52 L308.60,52.20 L308.42,50.82 L308.36,49.38 L308.53,47.92 L308.97,46.49 L309.69,45.18 L310.65,44.04 L311.79,43.09 L313.04,42.32 L314.37,41.70 L315.74,41.23 L317.15,40.93 L318.60,40.81 L320.05,40.92 L321.45,41.28 L322.77,41.87 L323.97,42.65 L325.04,43.59 L325.99,44.62 L326.83,45.72 L327.57,46.88 L328.21,48.11 L328.72,49.42 L329.08,50.78 Z" fill="none" stroke="#6a6a6a" stroke-width="0.35" stroke-opacity="0.44"/>
<path d="M330.38,52.20 L330.37,53.79 L330.15,55.38 L329.71,56.93 L329.06,58.40 L328.19,59.76 L327.13,60.96 L325.90,61.97 L324.55,62.78 L323.12,63.40 L321.65,63.87 L320.14,64.22 L318.60,64.45 L317.02,64.54 L315.41,64.43 L313.83,64.04 L312.35,63.33 L311.06,62.29 L310.04,60.99 L309.30,59.53 L308.80,58.01 L308.44,56.52 L308.14,55.08 L307.83,53.66 L307.52,52.20 L307.28,50.67 L307.21,49.07 L307.41,47.44 L307.93,45.87 L308.76,44.44 L309.84,43.21 L311.11,42.18 L312.49,41.34 L313.95,40.66 L315.46,40.15 L317.01,39.82 L318.60,39.70 L320.18,39.84 L321.72,40.25 L323.15,40.91 L324.46,41.77 L325.64,42.78 L326.69,43.89 L327.63,45.09 L328.47,46.35 L329.19,47.70 L329.77,49.13 L330.17,50.64 Z" fill="none" stroke="#6a6a6a" stroke-width="0.35" stroke-opacity="0.44"/>
<path d="M331.50,52.20 L331.49,53.94 L331.24,55.68 L330.75,57.37 L330.02,58.97 L329.06,60.45 L327.90,61.75 L326.55,62.84 L325.08,63.72 L323.53,64.41 L321.92,64.94 L320.28,65.34 L318.60,65.61 L316.87,65.71 L315.11,65.56 L313.40,65.10 L311.81,64.28 L310.44,63.12 L309.37,61.68 L308.58,60.10 L308.02,58.47 L307.59,56.88 L307.20,55.34 L306.80,53.80 L306.40,52.20 L306.11,50.51 L306.04,48.74 L306.28,46.96 L306.89,45.25 L307.83,43.71 L309.04,42.38 L310.44,41.27 L311.95,40.37 L313.53,39.64 L315.18,39.08 L316.87,38.72 L318.60,38.61 L320.32,38.78 L321.98,39.24 L323.54,39.96 L324.96,40.89 L326.24,41.98 L327.39,43.17 L328.44,44.45 L329.37,45.81 L330.18,47.27 L330.83,48.84 L331.28,50.49 Z" fill="none" stroke="#6a6a6a" stroke-width="0.35" stroke-opacity="0.28"/>
<path d="M332.64,52.20 L332.62,54.10 L332.34,55.98 L331.79,57.81 L330.99,59.55 L329.94,61.13 L328.66,62.53 L327.20,63.71 L325.61,64.67 L323.93,65.42 L322.20,66.02 L320.43,66.47 L318.60,66.77 L316.72,66.87 L314.82,66.69 L312.97,66.15 L311.28,65.22 L309.84,63.92 L308.71,62.36 L307.87,60.66 L307.25,58.93 L306.74,57.25 L306.24,55.60 L305.73,53.94 L305.25,52.20 L304.91,50.35 L304.84,48.41 L305.14,46.47 L305.84,44.64 L306.90,42.98 L308.25,41.57 L309.77,40.38 L311.41,39.41 L313.12,38.62 L314.90,38.01 L316.73,37.64 L318.60,37.53 L320.46,37.73 L322.24,38.24 L323.91,39.02 L325.44,40.03 L326.83,41.18 L328.10,42.44 L329.25,43.81 L330.29,45.27 L331.19,46.85 L331.90,48.54 L332.39,50.34 Z" fill="none" stroke="#6a6a6a" stroke-width="0.35" stroke-opacity="0.28"/>
<path d="M333.78,52.20 L333.76,54.25 L333.44,56.28 L332.84,58.26 L331.95,60.12 L330.80,61.82 L329.42,63.31 L327.85,64.57 L326.14,65.61 L324.34,66.44 L322.49,67.09 L320.57,67.60 L318.60,67.94 L316.57,68.04 L314.53,67.81 L312.56,67.18 L310.77,66.13 L309.26,64.71 L308.07,63.02 L307.17,61.21 L306.47,59.39 L305.86,57.62 L305.25,55.87 L304.62,54.09 L304.06,52.20 L303.68,50.18 L303.63,48.08 L304.00,45.99 L304.80,44.02 L305.99,42.26 L307.46,40.76 L309.11,39.50 L310.88,38.46 L312.72,37.61 L314.62,36.96 L316.60,36.56 L318.60,36.46 L320.59,36.69 L322.50,37.25 L324.29,38.10 L325.93,39.16 L327.43,40.38 L328.81,41.71 L330.08,43.15 L331.22,44.72 L332.21,46.41 L332.99,48.24 L333.52,50.18 Z" fill="none" stroke="#6a6a6a" stroke-width="0.35" stroke-opacity="0.28"/>
<g><circle cx="317.7" cy="38.0" r="0.45" fill="#ffffff" opacity="0.45"/><circle cx="311.4" cy="58.9" r="0.4" fill="#555" opacity="0.35"/><circle cx="319.8" cy="40.9" r="0.4" fill="#555" opacity="0.35"/><circle cx="323.4" cy="54.8" r="0.45" fill="#ffffff" opacity="0.45"/><circle cx="318.3" cy="44.2" r="0.4" fill="#555" opacity="0.35"/><circle cx="322.1" cy="52.5" r="0.45" fill="#ffffff" opacity="0.45"/><circle cx="313.1" cy="41.6" r="0.4" fill="#555" opacity="0.35"/><circle cx="316.0" cy="62.2" r="0.45" fill="#ffffff" opacity="0.45"/><circle cx="313.9" cy="53.2" r="0.4" fill="#555" opacity="0.35"/><circle cx="323.0" cy="65.8" r="0.4" fill="#555" opacity="0.35"/><circle cx="328.1" cy="53.3" r="0.4" fill="#555" opacity="0.35"/><circle cx="327.8" cy="50.3" r="0.45" fill="#ffffff" opacity="0.45"/><circle cx="322.0" cy="65.8" r="0.45" fill="#ffffff" opacity="0.45"/><circle cx="314.0" cy="49.5" r="0.45" fill="#ffffff" opacity="0.45"/><circle cx="323.5" cy="50.7" r="0.4" fill="#555" opacity="0.35"/><circle cx="305.4" cy="51.5" r="0.4" fill="#555" opacity="0.35"/><circle cx="320.2" cy="65.8" r="0.45" fill="#ffffff" opacity="0.45"/><circle cx="319.4" cy="52.3" r="0.45" fill="#ffffff" opacity="0.45"/><circle cx="311.2" cy="54.6" r="0.45" fill="#ffffff" opacity="0.45"/><circle cx="314.2" cy="58.9" r="0.4" fill="#555" opacity="0.35"/><circle cx="330.8" cy="52.3" r="0.4" fill="#555" opacity="0.35"/><circle cx="328.5" cy="61.7" r="0.4" fill="#555" opacity="0.35"/><circle cx="324.8" cy="47.7" r="0.45" fill="#ffffff" opacity="0.45"/><circle cx="307.6" cy="61.2" r="0.4" fill="#555" opacity="0.35"/><circle cx="312.7" cy="59.5" r="0.45" fill="#ffffff" opacity="0.45"/><circle cx="322.9" cy="53.6" r="0.4" fill="#555" opacity="0.35"/><circle cx="315.6" cy="65.8" r="0.45" fill="#ffffff" opacity="0.45"/><circle cx="317.6" cy="62.5" r="0.45" fill="#ffffff" opacity="0.45"/><circle cx="309.0" cy="62.3" r="0.4" fill="#555" opacity="0.35"/><circle cx="322.8" cy="41.6" r="0.4" fill="#555" opacity="0.35"/><circle cx="328.3" cy="48.3" r="0.4" fill="#555" opacity="0.35"/><circle cx="330.1" cy="56.0" r="0.45" fill="#ffffff" opacity="0.45"/><circle cx="318.8" cy="40.6" r="0.45" fill="#ffffff" opacity="0.45"/><circle cx="331.5" cy="56.4" r="0.45" fill="#ffffff" opacity="0.45"/><circle cx="310.5" cy="53.7" r="0.45" fill="#ffffff" opacity="0.45"/><circle cx="317.6" cy="38.0" r="0.45" fill="#ffffff" opacity="0.45"/><circle cx="314.3" cy="45.6" r="0.4" fill="#555" opacity="0.35"/><circle cx="314.1" cy="55.8" r="0.45" fill="#ffffff" opacity="0.45"/><circle cx="322.1" cy="65.5" r="0.45" fill="#ffffff" opacity="0.45"/><circle cx="321.1" cy="65.7" r="0.4" fill="#555" opacity="0.35"/><circle cx="313.6" cy="53.9" r="0.45" fill="#ffffff" opacity="0.45"/><circle cx="325.5" cy="56.8" r="0.45" fill="#ffffff" opacity="0.45"/><circle cx="319.1" cy="59.5" r="0.4" fill="#555" opacity="0.35"/><circle cx="327.8" cy="44.1" r="0.45" fill="#ffffff" opacity="0.45"/><circle cx="309.9" cy="57.6" r="0.45" fill="#ffffff" opacity="0.45"/><circle cx="316.8" cy="55.3" r="0.45" fill="#ffffff" opacity="0.45"/><circle cx="323.5" cy="51.2" r="0.45" fill="#ffffff" opacity="0.45"/><circle cx="309.6" cy="42.4" r="0.45" fill="#ffffff" opacity="0.45"/><circle cx="317.7" cy="59.3" r="0.45" fill="#ffffff" opacity="0.45"/><circle cx="305.7" cy="56.9" r="0.4" fill="#555" opacity="0.35"/><circle cx="320.0" cy="50.7" r="0.45" fill="#ffffff" opacity="0.45"/><circle cx="315.3" cy="39.0" r="0.45" fill="#ffffff" opacity="0.45"/><circle cx="318.4" cy="52.1" r="0.45" fill="#ffffff" opacity="0.45"/><circle cx="330.0" cy="46.4" r="0.4" fill="#555" opacity="0.35"/><circle cx="325.5" cy="51.0" r="0.45" fill="#ffffff" opacity="0.45"/><circle cx="324.3" cy="60.8" r="0.4" fill="#555" opacity="0.35"/><circle cx="329.7" cy="47.8" r="0.4" fill="#555" opacity="0.35"/><circle cx="319.5" cy="42.5" r="0.4" fill="#555" opacity="0.35"/><circle cx="330.7" cy="55.3" r="0.45" fill="#ffffff" opacity="0.45"/><circle cx="328.5" cy="46.6" r="0.45" fill="#ffffff" opacity="0.45"/><circle cx="323.5" cy="57.4" r="0.4" fill="#555" opacity="0.35"/><circle cx="317.1" cy="47.6" r="0.45" fill="#ffffff" opacity="0.45"/><circle cx="308.0" cy="50.5" r="0.45" fill="#ffffff" opacity="0.45"/><circle cx="320.4" cy="63.2" r="0.45" fill="#ffffff" opacity="0.45"/><circle cx="315.6" cy="61.5" r="0.4" fill="#555" opacity="0.35"/><circle cx="310.5" cy="41.5" r="0.45" fill="#ffffff" opacity="0.45"/><circle cx="319.3" cy="59.3" r="0.4" fill="#555" opacity="0.35"/><circle cx="316.4" cy="44.5" r="0.45" fill="#ffffff" opacity="0.45"/><circle cx="307.1" cy="52.3" r="0.45" fill="#ffffff" opacity="0.45"/><circle cx="318.1" cy="64.0" r="0.4" fill="#555" opacity="0.35"/><circle cx="319.0" cy="54.8" r="0.45" fill="#ffffff" opacity="0.45"/><circle cx="308.4" cy="57.9" r="0.45" fill="#ffffff" opacity="0.45"/><circle cx="322.1" cy="40.3" r="0.45" fill="#ffffff" opacity="0.45"/><circle cx="322.4" cy="65.9" r="0.45" fill="#ffffff" opacity="0.45"/><circle cx="321.5" cy="45.9" r="0.45" fill="#ffffff" opacity="0.45"/><circle cx="319.1" cy="44.4" r="0.4" fill="#555" opacity="0.35"/><circle cx="312.5" cy="52.4" r="0.45" fill="#ffffff" opacity="0.45"/><circle cx="308.7" cy="58.1" r="0.4" fill="#555" opacity="0.35"/><circle cx="323.9" cy="59.4" r="0.45" fill="#ffffff" opacity="0.45"/><circle cx="323.8" cy="51.3" r="0.45" fill="#ffffff" opacity="0.45"/><circle cx="326.8" cy="55.5" r="0.4" fill="#555" opacity="0.35"/><circle cx="327.6" cy="43.9" r="0.4" fill="#555" opacity="0.35"/><circle cx="325.9" cy="48.7" r="0.45" fill="#ffffff" opacity="0.45"/><circle cx="329.8" cy="47.3" r="0.45" fill="#ffffff" opacity="0.45"/><circle cx="314.2" cy="44.6" r="0.45" fill="#ffffff" opacity="0.45"/><circle cx="315.8" cy="57.4" r="0.45" fill="#ffffff" opacity="0.45"/><circle cx="317.0" cy="60.6" r="0.4" fill="#555" opacity="0.35"/><circle cx="328.4" cy="62.1" r="0.45" fill="#ffffff" opacity="0.45"/><circle cx="310.7" cy="62.5" r="0.4" fill="#555" opacity="0.35"/><circle cx="315.8" cy="53.5" r="0.45" fill="#ffffff" opacity="0.45"/><circle cx="309.2" cy="62.1" r="0.45" fill="#ffffff" opacity="0.45"/><circle cx="309.8" cy="62.5" r="0.45" fill="#ffffff" opacity="0.45"/><circle cx="307.9" cy="59.1" r="0.4" fill="#555" opacity="0.35"/><circle cx="321.1" cy="52.9" r="0.45" fill="#ffffff" opacity="0.45"/><circle cx="324.8" cy="48.7" r="0.4" fill="#555" opacity="0.35"/><circle cx="325.2" cy="47.2" r="0.45" fill="#ffffff" opacity="0.45"/><circle cx="329.3" cy="49.2" r="0.45" fill="#ffffff" opacity="0.45"/><circle cx="317.0" cy="44.3" r="0.45" fill="#ffffff" opacity="0.45"/><circle cx="330.8" cy="52.5" r="0.4" fill="#555" opacity="0.35"/><circle cx="309.5" cy="41.7" r="0.45" fill="#ffffff" opacity="0.45"/><circle cx="319.6" cy="62.1" r="0.4" fill="#555" opacity="0.35"/><circle cx="327.0" cy="49.6" r="0.45" fill="#ffffff" opacity="0.45"/><circle cx="309.7" cy="56.5" r="0.4" fill="#555" opacity="0.35"/><circle cx="323.8" cy="64.0" r="0.4" fill="#555" opacity="0.35"/><circle cx="324.1" cy="40.8" r="0.4" fill="#555" opacity="0.35"/><circle cx="314.9" cy="59.4" r="0.45" fill="#ffffff" opacity="0.45"/><circle cx="319.4" cy="48.2" r="0.45" fill="#ffffff" opacity="0.45"/><circle cx="318.7" cy="45.0" r="0.45" fill="#ffffff" opacity="0.45"/><circle cx="328.8" cy="54.5" r="0.45" fill="#ffffff" opacity="0.45"/><circle cx="331.7" cy="50.5" r="0.4" fill="#555" opacity="0.35"/><circle cx="318.2" cy="56.4" r="0.45" fill="#ffffff" opacity="0.45"/><circle cx="306.8" cy="52.3" r="0.45" fill="#ffffff" opacity="0.45"/><circle cx="319.5" cy="61.5" r="0.4" fill="#555" opacity="0.35"/><circle cx="313.0" cy="41.1" r="0.4" fill="#555" opacity="0.35"/><circle cx="316.1" cy="47.9" r="0.4" fill="#555" opacity="0.35"/><circle cx="315.7" cy="62.7" r="0.45" fill="#ffffff" opacity="0.45"/><circle cx="318.1" cy="45.8" r="0.45" fill="#ffffff" opacity="0.45"/><circle cx="318.8" cy="57.9" r="0.4" fill="#555" opacity="0.35"/><circle cx="311.5" cy="48.3" r="0.45" fill="#ffffff" opacity="0.45"/><circle cx="328.6" cy="51.7" r="0.45" fill="#ffffff" opacity="0.45"/><circle cx="322.7" cy="41.3" r="0.4" fill="#555" opacity="0.35"/><circle cx="326.4" cy="58.2" r="0.4" fill="#555" opacity="0.35"/><circle cx="325.8" cy="40.6" r="0.45" fill="#ffffff" opacity="0.45"/><circle cx="317.3" cy="57.0" r="0.45" fill="#ffffff" opacity="0.45"/><circle cx="329.2" cy="50.3" r="0.4" fill="#555" opacity="0.35"/><circle cx="309.5" cy="61.9" r="0.45" fill="#ffffff" opacity="0.45"/><circle cx="317.8" cy="64.9" r="0.4" fill="#555" opacity="0.35"/><circle cx="327.1" cy="59.1" r="0.4" fill="#555" opacity="0.35"/><circle cx="320.3" cy="60.8" r="0.45" fill="#ffffff" opacity="0.45"/><circle cx="320.6" cy="59.2" r="0.4" fill="#555" opacity="0.35"/><circle cx="314.9" cy="46.9" r="0.45" fill="#ffffff" opacity="0.45"/><circle cx="313.2" cy="62.7" r="0.45" fill="#ffffff" opacity="0.45"/><circle cx="316.2" cy="58.2" r="0.4" fill="#555" opacity="0.35"/><circle cx="315.2" cy="51.1" r="0.45" fill="#ffffff" opacity="0.45"/><circle cx="310.3" cy="58.7" r="0.4" fill="#555" opacity="0.35"/><circle cx="323.4" cy="55.4" r="0.4" fill="#555" opacity="0.35"/><circle cx="312.3" cy="56.3" r="0.45" fill="#ffffff" opacity="0.45"/><circle cx="326.1" cy="49.9" r="0.4" fill="#555" opacity="0.35"/><circle cx="312.9" cy="59.5" r="0.4" fill="#555" opacity="0.35"/><circle cx="327.1" cy="52.0" r="0.45" fill="#ffffff" opacity="0.45"/><circle cx="317.7" cy="45.7" r="0.45" fill="#ffffff" opacity="0.45"/><circle cx="326.1" cy="46.8" r="0.4" fill="#555" opacity="0.35"/><circle cx="307.6" cy="59.7" r="0.45" fill="#ffffff" opacity="0.45"/><circle cx="319.5" cy="53.7" r="0.4" fill="#555" opacity="0.35"/><circle cx="310.1" cy="41.6" r="0.45" fill="#ffffff" opacity="0.45"/><circle cx="312.4" cy="46.1" r="0.45" fill="#ffffff" opacity="0.45"/><circle cx="323.2" cy="58.3" r="0.45" fill="#ffffff" opacity="0.45"/><circle cx="322.7" cy="50.1" r="0.45" fill="#ffffff" opacity="0.45"/><circle cx="323.3" cy="38.8" r="0.45" fill="#ffffff" opacity="0.45"/><circle cx="328.2" cy="62.2" r="0.4" fill="#555" opacity="0.35"/><circle cx="315.4" cy="52.6" r="0.4" fill="#555" opacity="0.35"/><circle cx="308.4" cy="61.1" r="0.4" fill="#555" opacity="0.35"/><circle cx="321.1" cy="47.0" r="0.4" fill="#555" opacity="0.35"/><circle cx="320.2" cy="61.2" r="0.4" fill="#555" opacity="0.35"/><circle cx="321.5" cy="46.8" r="0.45" fill="#ffffff" opacity="0.45"/><circle cx="310.4" cy="58.3" r="0.45" fill="#ffffff" opacity="0.45"/><circle cx="323.6" cy="57.2" r="0.4" fill="#555" opacity="0.35"/><circle cx="320.9" cy="50.4" r="0.4" fill="#555" opacity="0.35"/><circle cx="318.7" cy="49.4" r="0.4" fill="#555" opacity="0.35"/><circle cx="326.6" cy="59.7" r="0.4" fill="#555" opacity="0.35"/></g>
<ellipse cx="318.6" cy="51.8" rx="2.6" ry="4.2" fill="#ffffff" opacity="0.85" filter="url(#bl)"/>
<ellipse cx="319.4" cy="80.6" rx="13.5" ry="12.8" fill="url(#cg2)" transform="rotate(-20 319.4 80.6)"/>
<path d="M322.38,80.60 L322.27,80.96 L322.12,81.29 L321.96,81.61 L321.79,81.91 L321.60,82.20 L321.38,82.48 L321.13,82.74 L320.85,82.98 L320.53,83.18 L320.17,83.34 L319.80,83.45 L319.40,83.52 L318.99,83.54 L318.58,83.50 L318.18,83.39 L317.81,83.20 L317.49,82.96 L317.22,82.67 L317.00,82.34 L316.84,82.00 L316.71,81.66 L316.63,81.30 L316.58,80.95 L316.57,80.60 L316.60,80.25 L316.68,79.91 L316.80,79.58 L316.95,79.26 L317.14,78.95 L317.35,78.65 L317.59,78.37 L317.88,78.11 L318.21,77.89 L318.59,77.73 L318.99,77.66 L319.40,77.67 L319.80,77.75 L320.17,77.89 L320.52,78.05 L320.85,78.22 L321.18,78.40 L321.51,78.60 L321.82,78.84 L322.09,79.13 L322.29,79.47 L322.41,79.84 L322.43,80.22 Z" fill="none" stroke="#6a6a6a" stroke-width="0.35" stroke-opacity="0.28" transform="rotate(-20 319.4 80.6)"/>
<path d="M323.32,80.60 L323.18,81.07 L322.99,81.51 L322.79,81.93 L322.58,82.34 L322.34,82.74 L322.06,83.12 L321.73,83.48 L321.34,83.79 L320.91,84.06 L320.44,84.28 L319.93,84.43 L319.40,84.52 L318.85,84.53 L318.31,84.47 L317.78,84.30 L317.30,84.05 L316.88,83.72 L316.52,83.33 L316.24,82.90 L316.02,82.45 L315.85,81.99 L315.73,81.53 L315.66,81.07 L315.64,80.60 L315.68,80.14 L315.78,79.68 L315.93,79.24 L316.13,78.81 L316.37,78.39 L316.64,77.99 L316.97,77.60 L317.36,77.25 L317.81,76.97 L318.32,76.77 L318.86,76.69 L319.40,76.72 L319.92,76.83 L320.42,77.01 L320.88,77.21 L321.33,77.43 L321.78,77.66 L322.22,77.93 L322.63,78.25 L322.98,78.64 L323.24,79.09 L323.38,79.59 L323.40,80.10 Z" fill="none" stroke="#6a6a6a" stroke-width="0.35" stroke-opacity="0.28" transform="rotate(-20 319.4 80.6)"/>
<path d="M324.24,80.60 L324.07,81.18 L323.86,81.73 L323.63,82.26 L323.37,82.78 L323.09,83.28 L322.74,83.77 L322.33,84.22 L321.85,84.62 L321.31,84.96 L320.71,85.23 L320.07,85.42 L319.40,85.52 L318.72,85.53 L318.03,85.43 L317.38,85.21 L316.79,84.89 L316.27,84.46 L315.84,83.97 L315.50,83.44 L315.22,82.89 L315.01,82.33 L314.85,81.76 L314.75,81.18 L314.71,80.60 L314.75,80.02 L314.87,79.45 L315.05,78.89 L315.29,78.35 L315.58,77.82 L315.93,77.31 L316.34,76.82 L316.84,76.39 L317.41,76.04 L318.05,75.82 L318.72,75.73 L319.40,75.77 L320.05,75.92 L320.66,76.14 L321.24,76.38 L321.81,76.64 L322.38,76.92 L322.93,77.25 L323.44,77.66 L323.87,78.15 L324.17,78.73 L324.33,79.35 L324.34,79.98 Z" fill="none" stroke="#6a6a6a" stroke-width="0.35" stroke-opacity="0.28" transform="rotate(-20 319.4 80.6)"/>
<path d="M325.15,80.60 L324.95,81.29 L324.72,81.95 L324.46,82.59 L324.18,83.22 L323.85,83.84 L323.44,84.43 L322.95,84.98 L322.36,85.47 L321.70,85.87 L320.98,86.19 L320.21,86.41 L319.40,86.53 L318.58,86.53 L317.76,86.39 L316.99,86.11 L316.29,85.71 L315.68,85.19 L315.18,84.60 L314.77,83.97 L314.43,83.32 L314.17,82.65 L313.97,81.98 L313.84,81.29 L313.78,80.60 L313.82,79.90 L313.95,79.22 L314.16,78.54 L314.44,77.88 L314.78,77.24 L315.20,76.62 L315.70,76.03 L316.31,75.52 L317.01,75.12 L317.78,74.87 L318.59,74.78 L319.40,74.85 L320.17,75.03 L320.91,75.27 L321.61,75.55 L322.30,75.84 L322.98,76.17 L323.65,76.57 L324.26,77.07 L324.76,77.67 L325.10,78.36 L325.27,79.11 L325.27,79.87 Z" fill="none" stroke="#6a6a6a" stroke-width="0.35" stroke-opacity="0.28" transform="rotate(-20 319.4 80.6)"/>
<path d="M326.04,80.60 L325.83,81.40 L325.58,82.17 L325.31,82.92 L325.00,83.67 L324.63,84.40 L324.16,85.11 L323.58,85.76 L322.89,86.33 L322.11,86.80 L321.26,87.17 L320.35,87.42 L319.40,87.54 L318.44,87.52 L317.50,87.34 L316.61,87.00 L315.80,86.51 L315.11,85.90 L314.53,85.22 L314.05,84.49 L313.66,83.74 L313.34,82.98 L313.09,82.20 L312.92,81.41 L312.85,80.60 L312.88,79.79 L313.02,78.98 L313.25,78.19 L313.57,77.41 L313.97,76.65 L314.46,75.91 L315.05,75.23 L315.77,74.64 L316.60,74.19 L317.51,73.92 L318.46,73.84 L319.40,73.93 L320.30,74.14 L321.15,74.41 L321.97,74.72 L322.78,75.04 L323.59,75.42 L324.37,75.89 L325.07,76.47 L325.64,77.19 L326.01,78.00 L326.18,78.88 L326.18,79.75 Z" fill="none" stroke="#6a6a6a" stroke-width="0.35" stroke-opacity="0.44" transform="rotate(-20 319.4 80.6)"/>
<path d="M326.92,80.60 L326.70,81.51 L326.45,82.39 L326.17,83.26 L325.84,84.13 L325.42,84.98 L324.89,85.80 L324.22,86.55 L323.42,87.20 L322.52,87.74 L321.53,88.15 L320.49,88.42 L319.40,88.54 L318.30,88.50 L317.23,88.27 L316.23,87.86 L315.33,87.29 L314.55,86.60 L313.89,85.82 L313.35,85.00 L312.89,84.16 L312.51,83.31 L312.21,82.43 L312.00,81.52 L311.90,80.60 L311.93,79.67 L312.08,78.74 L312.33,77.82 L312.69,76.92 L313.14,76.04 L313.70,75.20 L314.40,74.42 L315.24,73.76 L316.20,73.27 L317.25,72.99 L318.33,72.92 L319.40,73.03 L320.42,73.26 L321.39,73.56 L322.33,73.88 L323.27,74.24 L324.21,74.66 L325.10,75.20 L325.89,75.88 L326.51,76.71 L326.91,77.65 L327.08,78.65 L327.06,79.64 Z" fill="none" stroke="#6a6a6a" stroke-width="0.35" stroke-opacity="0.44" transform="rotate(-20 319.4 80.6)"/>
<path d="M327.79,80.60 L327.57,81.62 L327.33,82.61 L327.05,83.60 L326.70,84.60 L326.24,85.58 L325.63,86.51 L324.87,87.36 L323.96,88.09 L322.93,88.68 L321.81,89.13 L320.63,89.43 L319.40,89.54 L318.17,89.47 L316.97,89.19 L315.86,88.71 L314.86,88.05 L314.00,87.27 L313.27,86.41 L312.65,85.51 L312.13,84.58 L311.68,83.63 L311.32,82.65 L311.07,81.64 L310.95,80.60 L310.96,79.55 L311.12,78.50 L311.39,77.46 L311.79,76.43 L312.30,75.43 L312.94,74.48 L313.74,73.61 L314.70,72.89 L315.80,72.36 L316.99,72.08 L318.21,72.02 L319.40,72.15 L320.54,72.40 L321.63,72.71 L322.70,73.05 L323.77,73.43 L324.82,73.90 L325.82,74.51 L326.70,75.29 L327.36,76.24 L327.78,77.31 L327.96,78.43 L327.94,79.53 Z" fill="none" stroke="#6a6a6a" stroke-width="0.35" stroke-opacity="0.44" transform="rotate(-20 319.4 80.6)"/>
<path d="M328.65,80.60 L328.45,81.73 L328.23,82.84 L327.95,83.96 L327.58,85.08 L327.08,86.18 L326.39,87.23 L325.53,88.17 L324.50,88.98 L323.35,89.63 L322.09,90.12 L320.76,90.42 L319.40,90.53 L318.04,90.42 L316.72,90.08 L315.50,89.53 L314.41,88.80 L313.46,87.93 L312.66,86.99 L311.96,86.01 L311.36,85.00 L310.84,83.96 L310.42,82.88 L310.12,81.76 L309.97,80.60 L309.98,79.42 L310.14,78.25 L310.44,77.08 L310.87,75.93 L311.44,74.81 L312.17,73.75 L313.08,72.79 L314.17,72.01 L315.41,71.47 L316.74,71.18 L318.09,71.13 L319.40,71.28 L320.66,71.54 L321.87,71.86 L323.07,72.20 L324.27,72.61 L325.45,73.13 L326.55,73.82 L327.50,74.71 L328.21,75.78 L328.65,76.97 L328.82,78.21 L328.80,79.43 Z" fill="none" stroke="#6a6a6a" stroke-width="0.35" stroke-opacity="0.44" transform="rotate(-20 319.4 80.6)"/>
<path d="M329.52,80.60 L329.35,81.84 L329.14,83.08 L328.87,84.32 L328.49,85.58 L327.93,86.81 L327.16,87.96 L326.20,89.00 L325.05,89.88 L323.76,90.58 L322.37,91.10 L320.90,91.41 L319.40,91.50 L317.91,91.35 L316.47,90.95 L315.15,90.33 L313.97,89.52 L312.94,88.58 L312.05,87.57 L311.28,86.51 L310.59,85.42 L310.00,84.29 L309.51,83.11 L309.16,81.88 L308.98,80.60 L308.98,79.30 L309.14,77.99 L309.47,76.70 L309.94,75.42 L310.58,74.18 L311.40,73.02 L312.43,71.98 L313.65,71.15 L315.02,70.58 L316.49,70.30 L317.97,70.27 L319.40,70.42 L320.78,70.69 L322.11,71.00 L323.44,71.36 L324.77,71.78 L326.07,72.36 L327.28,73.13 L328.29,74.13 L329.04,75.32 L329.49,76.64 L329.67,77.99 L329.65,79.32 Z" fill="none" stroke="#6a6a6a" stroke-width="0.35" stroke-opacity="0.44" transform="rotate(-20 319.4 80.6)"/>
<path d="M330.40,80.60 L330.26,81.96 L330.08,83.31 L329.82,84.69 L329.42,86.08 L328.80,87.44 L327.95,88.71 L326.87,89.83 L325.60,90.78 L324.17,91.53 L322.64,92.07 L321.04,92.38 L319.40,92.45 L317.78,92.26 L316.23,91.80 L314.81,91.11 L313.54,90.23 L312.43,89.22 L311.45,88.13 L310.59,87.01 L309.82,85.85 L309.14,84.63 L308.58,83.35 L308.18,82.00 L307.97,80.60 L307.95,79.17 L308.13,77.74 L308.48,76.31 L309.00,74.91 L309.71,73.55 L310.63,72.28 L311.77,71.17 L313.13,70.30 L314.65,69.72 L316.25,69.44 L317.85,69.42 L319.40,69.58 L320.89,69.84 L322.35,70.14 L323.81,70.50 L325.27,70.95 L326.70,71.58 L328.00,72.45 L329.08,73.56 L329.86,74.88 L330.32,76.31 L330.50,77.78 L330.50,79.21 Z" fill="none" stroke="#6a6a6a" stroke-width="0.35" stroke-opacity="0.28" transform="rotate(-20 319.4 80.6)"/>
<path d="M331.29,80.60 L331.20,82.07 L331.05,83.56 L330.80,85.08 L330.37,86.60 L329.69,88.08 L328.74,89.46 L327.55,90.67 L326.14,91.68 L324.58,92.47 L322.91,93.03 L321.17,93.34 L319.40,93.38 L317.66,93.14 L316.00,92.63 L314.48,91.86 L313.12,90.92 L311.92,89.84 L310.86,88.70 L309.90,87.51 L309.03,86.28 L308.27,84.97 L307.64,83.59 L307.18,82.12 L306.94,80.60 L306.91,79.04 L307.10,77.47 L307.47,75.92 L308.05,74.38 L308.83,72.91 L309.86,71.55 L311.13,70.38 L312.62,69.47 L314.28,68.88 L316.01,68.60 L317.73,68.58 L319.40,68.74 L321.01,68.99 L322.60,69.28 L324.19,69.63 L325.79,70.11 L327.33,70.81 L328.72,71.77 L329.85,73.00 L330.66,74.44 L331.13,75.99 L331.33,77.57 L331.35,79.11 Z" fill="none" stroke="#6a6a6a" stroke-width="0.35" stroke-opacity="0.28" transform="rotate(-20 319.4 80.6)"/>
<path d="M332.20,80.60 L332.16,82.19 L332.05,83.81 L331.80,85.47 L331.34,87.13 L330.59,88.74 L329.54,90.21 L328.22,91.50 L326.69,92.57 L324.99,93.39 L323.18,93.97 L321.30,94.27 L319.40,94.29 L317.54,94.00 L315.78,93.43 L314.16,92.60 L312.71,91.59 L311.42,90.47 L310.26,89.27 L309.20,88.02 L308.23,86.72 L307.37,85.32 L306.67,83.83 L306.16,82.25 L305.89,80.60 L305.86,78.91 L306.05,77.21 L306.46,75.52 L307.09,73.86 L307.96,72.27 L309.09,70.82 L310.49,69.59 L312.13,68.65 L313.92,68.05 L315.78,67.78 L317.62,67.76 L319.40,67.91 L321.13,68.14 L322.85,68.41 L324.57,68.76 L326.30,69.27 L327.95,70.03 L329.43,71.09 L330.61,72.45 L331.44,74.01 L331.93,75.68 L332.15,77.36 L332.21,79.00 Z" fill="none" stroke="#6a6a6a" stroke-width="0.35" stroke-opacity="0.28" transform="rotate(-20 319.4 80.6)"/>
<g transform="rotate(-20 319.4 80.6)"><circle cx="329.4" cy="82.0" r="0.45" fill="#ffffff" opacity="0.45"/><circle cx="320.4" cy="91.2" r="0.4" fill="#555" opacity="0.35"/><circle cx="314.2" cy="81.9" r="0.45" fill="#ffffff" opacity="0.45"/><circle cx="323.0" cy="83.3" r="0.45" fill="#ffffff" opacity="0.45"/><circle cx="326.5" cy="85.0" r="0.45" fill="#ffffff" opacity="0.45"/><circle cx="329.3" cy="83.1" r="0.45" fill="#ffffff" opacity="0.45"/><circle cx="318.2" cy="69.9" r="0.45" fill="#ffffff" opacity="0.45"/><circle cx="328.0" cy="83.5" r="0.45" fill="#ffffff" opacity="0.45"/><circle cx="323.9" cy="79.2" r="0.4" fill="#555" opacity="0.35"/><circle cx="330.4" cy="80.3" r="0.4" fill="#555" opacity="0.35"/><circle cx="323.8" cy="91.9" r="0.45" fill="#ffffff" opacity="0.45"/><circle cx="331.2" cy="77.5" r="0.45" fill="#ffffff" opacity="0.45"/><circle cx="322.4" cy="69.2" r="0.45" fill="#ffffff" opacity="0.45"/><circle cx="312.8" cy="89.1" r="0.45" fill="#ffffff" opacity="0.45"/><circle cx="324.8" cy="76.7" r="0.4" fill="#555" opacity="0.35"/><circle cx="325.0" cy="87.4" r="0.4" fill="#555" opacity="0.35"/><circle cx="321.1" cy="86.6" r="0.45" fill="#ffffff" opacity="0.45"/><circle cx="318.4" cy="82.7" r="0.45" fill="#ffffff" opacity="0.45"/><circle cx="326.0" cy="90.6" r="0.4" fill="#555" opacity="0.35"/><circle cx="323.6" cy="77.5" r="0.4" fill="#555" opacity="0.35"/><circle cx="326.4" cy="86.5" r="0.4" fill="#555" opacity="0.35"/><circle cx="311.8" cy="89.4" r="0.4" fill="#555" opacity="0.35"/><circle cx="308.8" cy="75.1" r="0.45" fill="#ffffff" opacity="0.45"/><circle cx="329.6" cy="80.2" r="0.45" fill="#ffffff" opacity="0.45"/><circle cx="321.3" cy="74.6" r="0.4" fill="#555" opacity="0.35"/><circle cx="312.6" cy="77.2" r="0.4" fill="#555" opacity="0.35"/><circle cx="314.4" cy="82.4" r="0.4" fill="#555" opacity="0.35"/><circle cx="330.5" cy="83.9" r="0.45" fill="#ffffff" opacity="0.45"/><circle cx="311.2" cy="71.3" r="0.4" fill="#555" opacity="0.35"/><circle cx="315.7" cy="74.8" r="0.45" fill="#ffffff" opacity="0.45"/><circle cx="324.2" cy="81.6" r="0.4" fill="#555" opacity="0.35"/><circle cx="311.0" cy="84.2" r="0.4" fill="#555" opacity="0.35"/><circle cx="323.5" cy="84.9" r="0.4" fill="#555" opacity="0.35"/><circle cx="320.0" cy="80.7" r="0.45" fill="#ffffff" opacity="0.45"/><circle cx="325.4" cy="85.1" r="0.45" fill="#ffffff" opacity="0.45"/><circle cx="310.9" cy="75.9" r="0.45" fill="#ffffff" opacity="0.45"/><circle cx="313.1" cy="74.7" r="0.45" fill="#ffffff" opacity="0.45"/><circle cx="325.2" cy="78.3" r="0.45" fill="#ffffff" opacity="0.45"/><circle cx="327.8" cy="86.1" r="0.4" fill="#555" opacity="0.35"/><circle cx="321.0" cy="73.0" r="0.45" fill="#ffffff" opacity="0.45"/><circle cx="329.7" cy="81.3" r="0.4" fill="#555" opacity="0.35"/><circle cx="313.3" cy="88.5" r="0.45" fill="#ffffff" opacity="0.45"/><circle cx="329.5" cy="76.6" r="0.45" fill="#ffffff" opacity="0.45"/><circle cx="321.6" cy="79.1" r="0.45" fill="#ffffff" opacity="0.45"/><circle cx="314.2" cy="83.9" r="0.45" fill="#ffffff" opacity="0.45"/><circle cx="319.7" cy="79.3" r="0.4" fill="#555" opacity="0.35"/><circle cx="323.9" cy="78.9" r="0.45" fill="#ffffff" opacity="0.45"/><circle cx="312.3" cy="75.2" r="0.4" fill="#555" opacity="0.35"/><circle cx="321.5" cy="75.9" r="0.45" fill="#ffffff" opacity="0.45"/><circle cx="318.5" cy="83.1" r="0.4" fill="#555" opacity="0.35"/><circle cx="321.6" cy="70.5" r="0.45" fill="#ffffff" opacity="0.45"/><circle cx="325.6" cy="71.9" r="0.45" fill="#ffffff" opacity="0.45"/><circle cx="319.0" cy="72.4" r="0.45" fill="#ffffff" opacity="0.45"/><circle cx="324.3" cy="84.2" r="0.45" fill="#ffffff" opacity="0.45"/><circle cx="313.7" cy="89.6" r="0.4" fill="#555" opacity="0.35"/><circle cx="325.5" cy="72.1" r="0.45" fill="#ffffff" opacity="0.45"/><circle cx="311.4" cy="77.9" r="0.4" fill="#555" opacity="0.35"/><circle cx="312.9" cy="79.7" r="0.4" fill="#555" opacity="0.35"/><circle cx="325.2" cy="79.4" r="0.4" fill="#555" opacity="0.35"/><circle cx="325.9" cy="81.2" r="0.45" fill="#ffffff" opacity="0.45"/><circle cx="318.9" cy="68.8" r="0.4" fill="#555" opacity="0.35"/><circle cx="313.8" cy="90.7" r="0.45" fill="#ffffff" opacity="0.45"/><circle cx="320.2" cy="92.2" r="0.4" fill="#555" opacity="0.35"/><circle cx="315.7" cy="71.3" r="0.4" fill="#555" opacity="0.35"/><circle cx="307.9" cy="82.7" r="0.4" fill="#555" opacity="0.35"/><circle cx="324.7" cy="74.3" r="0.4" fill="#555" opacity="0.35"/><circle cx="313.0" cy="77.7" r="0.45" fill="#ffffff" opacity="0.45"/><circle cx="316.8" cy="78.2" r="0.4" fill="#555" opacity="0.35"/><circle cx="320.7" cy="82.2" r="0.45" fill="#ffffff" opacity="0.45"/><circle cx="326.2" cy="77.5" r="0.45" fill="#ffffff" opacity="0.45"/><circle cx="322.0" cy="81.0" r="0.4" fill="#555" opacity="0.35"/><circle cx="312.3" cy="73.0" r="0.4" fill="#555" opacity="0.35"/><circle cx="328.4" cy="84.4" r="0.45" fill="#ffffff" opacity="0.45"/><circle cx="324.2" cy="70.6" r="0.4" fill="#555" opacity="0.35"/><circle cx="330.3" cy="85.2" r="0.4" fill="#555" opacity="0.35"/><circle cx="323.3" cy="79.2" r="0.45" fill="#ffffff" opacity="0.45"/><circle cx="321.2" cy="82.1" r="0.4" fill="#555" opacity="0.35"/><circle cx="323.3" cy="71.6" r="0.4" fill="#555" opacity="0.35"/><circle cx="314.7" cy="75.8" r="0.45" fill="#ffffff" opacity="0.45"/><circle cx="328.5" cy="86.7" r="0.45" fill="#ffffff" opacity="0.45"/><circle cx="315.9" cy="87.8" r="0.45" fill="#ffffff" opacity="0.45"/><circle cx="319.1" cy="87.1" r="0.4" fill="#555" opacity="0.35"/><circle cx="314.5" cy="85.7" r="0.4" fill="#555" opacity="0.35"/><circle cx="307.6" cy="80.3" r="0.4" fill="#555" opacity="0.35"/><circle cx="327.5" cy="82.1" r="0.45" fill="#ffffff" opacity="0.45"/><circle cx="320.5" cy="73.5" r="0.4" fill="#555" opacity="0.35"/><circle cx="313.6" cy="79.3" r="0.4" fill="#555" opacity="0.35"/><circle cx="329.2" cy="86.6" r="0.45" fill="#ffffff" opacity="0.45"/><circle cx="325.2" cy="80.6" r="0.4" fill="#555" opacity="0.35"/><circle cx="320.2" cy="80.5" r="0.45" fill="#ffffff" opacity="0.45"/><circle cx="308.0" cy="81.2" r="0.45" fill="#ffffff" opacity="0.45"/><circle cx="311.8" cy="80.8" r="0.4" fill="#555" opacity="0.35"/><circle cx="318.6" cy="92.4" r="0.45" fill="#ffffff" opacity="0.45"/><circle cx="321.8" cy="90.5" r="0.45" fill="#ffffff" opacity="0.45"/><circle cx="327.3" cy="86.8" r="0.45" fill="#ffffff" opacity="0.45"/><circle cx="321.9" cy="70.7" r="0.4" fill="#555" opacity="0.35"/><circle cx="314.1" cy="75.4" r="0.45" fill="#ffffff" opacity="0.45"/><circle cx="309.9" cy="87.7" r="0.45" fill="#ffffff" opacity="0.45"/><circle cx="321.0" cy="79.4" r="0.45" fill="#ffffff" opacity="0.45"/><circle cx="318.4" cy="92.1" r="0.45" fill="#ffffff" opacity="0.45"/><circle cx="310.6" cy="88.5" r="0.45" fill="#ffffff" opacity="0.45"/><circle cx="310.3" cy="82.8" r="0.4" fill="#555" opacity="0.35"/><circle cx="319.6" cy="70.8" r="0.45" fill="#ffffff" opacity="0.45"/><circle cx="317.1" cy="84.8" r="0.4" fill="#555" opacity="0.35"/><circle cx="313.6" cy="71.7" r="0.45" fill="#ffffff" opacity="0.45"/><circle cx="308.9" cy="84.6" r="0.4" fill="#555" opacity="0.35"/><circle cx="325.5" cy="86.5" r="0.4" fill="#555" opacity="0.35"/><circle cx="319.8" cy="85.9" r="0.45" fill="#ffffff" opacity="0.45"/><circle cx="316.0" cy="69.9" r="0.45" fill="#ffffff" opacity="0.45"/><circle cx="323.0" cy="85.6" r="0.45" fill="#ffffff" opacity="0.45"/><circle cx="314.3" cy="79.9" r="0.45" fill="#ffffff" opacity="0.45"/><circle cx="324.1" cy="91.7" r="0.4" fill="#555" opacity="0.35"/><circle cx="329.5" cy="87.7" r="0.45" fill="#ffffff" opacity="0.45"/><circle cx="309.9" cy="88.6" r="0.4" fill="#555" opacity="0.35"/><circle cx="318.5" cy="72.6" r="0.45" fill="#ffffff" opacity="0.45"/><circle cx="316.7" cy="77.6" r="0.45" fill="#ffffff" opacity="0.45"/><circle cx="317.6" cy="82.0" r="0.45" fill="#ffffff" opacity="0.45"/><circle cx="322.1" cy="70.8" r="0.45" fill="#ffffff" opacity="0.45"/><circle cx="313.5" cy="74.5" r="0.45" fill="#ffffff" opacity="0.45"/><circle cx="312.9" cy="75.9" r="0.4" fill="#555" opacity="0.35"/><circle cx="326.4" cy="76.2" r="0.4" fill="#555" opacity="0.35"/><circle cx="319.4" cy="72.7" r="0.45" fill="#ffffff" opacity="0.45"/><circle cx="317.3" cy="69.4" r="0.4" fill="#555" opacity="0.35"/><circle cx="315.7" cy="69.9" r="0.4" fill="#555" opacity="0.35"/><circle cx="314.0" cy="74.2" r="0.45" fill="#ffffff" opacity="0.45"/><circle cx="316.6" cy="77.9" r="0.45" fill="#ffffff" opacity="0.45"/><circle cx="321.6" cy="70.5" r="0.4" fill="#555" opacity="0.35"/><circle cx="319.4" cy="88.5" r="0.45" fill="#ffffff" opacity="0.45"/><circle cx="313.5" cy="75.2" r="0.4" fill="#555" opacity="0.35"/><circle cx="324.4" cy="78.4" r="0.4" fill="#555" opacity="0.35"/><circle cx="320.8" cy="73.1" r="0.45" fill="#ffffff" opacity="0.45"/><circle cx="321.9" cy="80.2" r="0.45" fill="#ffffff" opacity="0.45"/><circle cx="325.4" cy="89.7" r="0.4" fill="#555" opacity="0.35"/><circle cx="315.4" cy="80.1" r="0.4" fill="#555" opacity="0.35"/><circle cx="308.9" cy="78.0" r="0.45" fill="#ffffff" opacity="0.45"/><circle cx="311.9" cy="72.1" r="0.45" fill="#ffffff" opacity="0.45"/><circle cx="308.8" cy="86.9" r="0.45" fill="#ffffff" opacity="0.45"/><circle cx="316.2" cy="73.6" r="0.4" fill="#555" opacity="0.35"/><circle cx="328.5" cy="89.0" r="0.45" fill="#ffffff" opacity="0.45"/><circle cx="325.7" cy="82.8" r="0.45" fill="#ffffff" opacity="0.45"/><circle cx="327.7" cy="81.3" r="0.45" fill="#ffffff" opacity="0.45"/><circle cx="317.0" cy="73.8" r="0.45" fill="#ffffff" opacity="0.45"/><circle cx="321.2" cy="90.9" r="0.4" fill="#555" opacity="0.35"/><circle cx="313.5" cy="79.6" r="0.4" fill="#555" opacity="0.35"/><circle cx="314.8" cy="84.1" r="0.45" fill="#ffffff" opacity="0.45"/><circle cx="321.3" cy="69.8" r="0.4" fill="#555" opacity="0.35"/><circle cx="310.0" cy="82.4" r="0.45" fill="#ffffff" opacity="0.45"/><circle cx="326.8" cy="79.0" r="0.4" fill="#555" opacity="0.35"/><circle cx="324.3" cy="70.6" r="0.45" fill="#ffffff" opacity="0.45"/><circle cx="316.8" cy="89.3" r="0.45" fill="#ffffff" opacity="0.45"/><circle cx="323.2" cy="74.3" r="0.4" fill="#555" opacity="0.35"/><circle cx="318.5" cy="88.0" r="0.45" fill="#ffffff" opacity="0.45"/><circle cx="314.5" cy="82.9" r="0.45" fill="#ffffff" opacity="0.45"/><circle cx="318.2" cy="74.3" r="0.45" fill="#ffffff" opacity="0.45"/><circle cx="316.6" cy="88.6" r="0.45" fill="#ffffff" opacity="0.45"/><circle cx="312.6" cy="73.1" r="0.45" fill="#ffffff" opacity="0.45"/><circle cx="330.1" cy="75.7" r="0.45" fill="#ffffff" opacity="0.45"/><circle cx="325.1" cy="70.4" r="0.4" fill="#555" opacity="0.35"/><circle cx="326.8" cy="89.2" r="0.4" fill="#555" opacity="0.35"/><circle cx="320.8" cy="80.7" r="0.4" fill="#555" opacity="0.35"/></g>
<ellipse cx="318.5" cy="81.0" rx="4.5" ry="1.8" fill="#ffffff" opacity="0.8" filter="url(#bl)" transform="rotate(-25 318.5 81.0)"/>
<ellipse cx="351.5" cy="82.0" rx="12.8" ry="13.0" fill="url(#cg3)"/>
<path d="M354.38,82.00 L354.36,82.38 L354.26,82.75 L354.09,83.09 L353.86,83.39 L353.62,83.65 L353.36,83.89 L353.10,84.11 L352.83,84.34 L352.54,84.55 L352.23,84.75 L351.88,84.90 L351.50,85.00 L351.11,85.02 L350.72,84.96 L350.35,84.83 L350.00,84.64 L349.70,84.39 L349.44,84.10 L349.23,83.77 L349.07,83.43 L348.96,83.07 L348.90,82.71 L348.87,82.35 L348.87,82.00 L348.89,81.65 L348.93,81.30 L349.00,80.95 L349.12,80.60 L349.28,80.27 L349.50,79.97 L349.76,79.70 L350.07,79.48 L350.40,79.30 L350.75,79.17 L351.12,79.08 L351.50,79.04 L351.88,79.06 L352.25,79.14 L352.61,79.28 L352.93,79.49 L353.21,79.73 L353.46,80.01 L353.68,80.30 L353.88,80.61 L354.06,80.92 L354.21,81.26 L354.33,81.62 Z" fill="none" stroke="#6a7a6a" stroke-width="0.35" stroke-opacity="0.28"/>
<path d="M355.34,82.00 L355.30,82.51 L355.15,82.99 L354.92,83.44 L354.62,83.83 L354.30,84.18 L353.97,84.51 L353.63,84.82 L353.28,85.14 L352.90,85.44 L352.48,85.70 L352.01,85.90 L351.50,86.02 L350.98,86.04 L350.46,85.95 L349.97,85.76 L349.51,85.49 L349.12,85.16 L348.78,84.77 L348.50,84.34 L348.30,83.88 L348.15,83.41 L348.07,82.93 L348.02,82.47 L348.00,82.00 L348.02,81.53 L348.06,81.06 L348.15,80.59 L348.30,80.13 L348.53,79.68 L348.82,79.28 L349.18,78.93 L349.59,78.63 L350.03,78.40 L350.50,78.23 L351.00,78.11 L351.50,78.06 L352.01,78.09 L352.50,78.20 L352.97,78.40 L353.39,78.67 L353.77,79.00 L354.10,79.36 L354.39,79.75 L354.66,80.15 L354.91,80.57 L355.12,81.01 L355.27,81.50 Z" fill="none" stroke="#6a7a6a" stroke-width="0.35" stroke-opacity="0.28"/>
<path d="M356.28,82.00 L356.22,82.63 L356.03,83.23 L355.74,83.78 L355.38,84.27 L354.99,84.72 L354.59,85.14 L354.18,85.55 L353.75,85.95 L353.27,86.34 L352.73,86.67 L352.14,86.92 L351.50,87.05 L350.84,87.06 L350.20,86.93 L349.59,86.68 L349.04,86.34 L348.55,85.91 L348.13,85.42 L347.80,84.89 L347.54,84.32 L347.36,83.74 L347.24,83.16 L347.17,82.58 L347.13,82.00 L347.13,81.42 L347.18,80.82 L347.29,80.23 L347.48,79.64 L347.76,79.09 L348.13,78.58 L348.59,78.14 L349.10,77.78 L349.66,77.49 L350.25,77.28 L350.87,77.14 L351.50,77.09 L352.13,77.13 L352.75,77.28 L353.32,77.53 L353.85,77.87 L354.31,78.28 L354.73,78.72 L355.10,79.19 L355.45,79.68 L355.77,80.21 L356.03,80.77 L356.22,81.37 Z" fill="none" stroke="#6a7a6a" stroke-width="0.35" stroke-opacity="0.28"/>
<path d="M357.23,82.00 L357.14,82.75 L356.90,83.47 L356.55,84.12 L356.13,84.71 L355.68,85.25 L355.21,85.77 L354.74,86.28 L354.22,86.79 L353.65,87.26 L352.99,87.66 L352.27,87.95 L351.50,88.09 L350.71,88.07 L349.94,87.90 L349.22,87.59 L348.57,87.16 L347.99,86.65 L347.50,86.06 L347.11,85.42 L346.80,84.76 L346.58,84.07 L346.42,83.38 L346.32,82.69 L346.26,82.00 L346.24,81.30 L346.28,80.58 L346.41,79.86 L346.64,79.15 L346.99,78.48 L347.44,77.88 L347.99,77.36 L348.62,76.93 L349.29,76.59 L350.00,76.33 L350.74,76.17 L351.50,76.11 L352.26,76.17 L352.99,76.36 L353.68,76.67 L354.30,77.08 L354.86,77.56 L355.36,78.08 L355.82,78.64 L356.24,79.22 L356.63,79.84 L356.95,80.52 L357.16,81.24 Z" fill="none" stroke="#6a7a6a" stroke-width="0.35" stroke-opacity="0.28"/>
<path d="M358.17,82.00 L358.05,82.88 L357.76,83.70 L357.35,84.46 L356.87,85.15 L356.37,85.79 L355.85,86.42 L355.31,87.04 L354.71,87.65 L354.03,88.21 L353.26,88.67 L352.41,88.99 L351.50,89.13 L350.58,89.08 L349.69,88.86 L348.86,88.48 L348.11,87.97 L347.45,87.37 L346.89,86.69 L346.43,85.95 L346.07,85.18 L345.80,84.40 L345.60,83.61 L345.46,82.81 L345.36,82.00 L345.33,81.17 L345.37,80.33 L345.52,79.48 L345.79,78.65 L346.20,77.87 L346.75,77.17 L347.40,76.57 L348.13,76.07 L348.92,75.68 L349.76,75.39 L350.62,75.20 L351.50,75.14 L352.38,75.22 L353.23,75.45 L354.02,75.82 L354.74,76.29 L355.39,76.85 L355.98,77.45 L356.53,78.08 L357.04,78.75 L357.50,79.48 L357.87,80.27 L358.10,81.12 Z" fill="none" stroke="#6a7a6a" stroke-width="0.35" stroke-opacity="0.44"/>
<path d="M359.10,82.00 L358.95,83.00 L358.61,83.94 L358.15,84.80 L357.62,85.59 L357.07,86.34 L356.50,87.08 L355.89,87.81 L355.21,88.52 L354.42,89.17 L353.53,89.69 L352.54,90.04 L351.50,90.17 L350.45,90.08 L349.44,89.80 L348.50,89.35 L347.66,88.76 L346.92,88.07 L346.28,87.30 L345.76,86.47 L345.35,85.61 L345.02,84.72 L344.78,83.83 L344.59,82.92 L344.46,82.00 L344.40,81.05 L344.44,80.08 L344.61,79.10 L344.93,78.15 L345.41,77.26 L346.05,76.46 L346.80,75.78 L347.65,75.22 L348.55,74.78 L349.51,74.45 L350.49,74.24 L351.50,74.19 L352.50,74.29 L353.46,74.56 L354.36,74.98 L355.19,75.52 L355.93,76.14 L356.61,76.81 L357.25,77.52 L357.84,78.28 L358.37,79.11 L358.79,80.02 L359.05,80.99 Z" fill="none" stroke="#6a7a6a" stroke-width="0.35" stroke-opacity="0.44"/>
<path d="M360.03,82.00 L359.84,83.11 L359.46,84.17 L358.95,85.13 L358.38,86.03 L357.78,86.89 L357.16,87.75 L356.49,88.60 L355.72,89.42 L354.82,90.15 L353.80,90.72 L352.68,91.08 L351.50,91.19 L350.33,91.06 L349.20,90.72 L348.16,90.19 L347.22,89.53 L346.40,88.75 L345.69,87.90 L345.11,86.98 L344.63,86.03 L344.25,85.05 L343.94,84.06 L343.70,83.04 L343.53,82.00 L343.45,80.92 L343.49,79.82 L343.68,78.71 L344.06,77.64 L344.62,76.64 L345.35,75.75 L346.21,74.99 L347.16,74.37 L348.19,73.87 L349.26,73.51 L350.37,73.29 L351.50,73.24 L352.62,73.36 L353.70,73.67 L354.70,74.15 L355.62,74.75 L356.46,75.43 L357.24,76.17 L357.97,76.96 L358.65,77.81 L359.25,78.74 L359.72,79.76 L359.99,80.87 Z" fill="none" stroke="#6a7a6a" stroke-width="0.35" stroke-opacity="0.44"/>
<path d="M360.94,82.00 L360.72,83.23 L360.29,84.39 L359.75,85.47 L359.14,86.48 L358.51,87.46 L357.84,88.44 L357.10,89.41 L356.24,90.33 L355.23,91.14 L354.07,91.76 L352.81,92.12 L351.50,92.20 L350.20,92.02 L348.96,91.61 L347.82,91.02 L346.79,90.28 L345.89,89.42 L345.11,88.49 L344.45,87.49 L343.91,86.45 L343.47,85.38 L343.10,84.29 L342.80,83.16 L342.59,82.00 L342.48,80.79 L342.52,79.55 L342.74,78.32 L343.18,77.12 L343.82,76.02 L344.65,75.04 L345.61,74.21 L346.68,73.52 L347.82,72.98 L349.02,72.58 L350.25,72.35 L351.50,72.30 L352.74,72.45 L353.93,72.80 L355.04,73.33 L356.06,73.99 L356.99,74.73 L357.87,75.53 L358.70,76.39 L359.47,77.33 L360.14,78.37 L360.64,79.51 L360.92,80.74 Z" fill="none" stroke="#6a7a6a" stroke-width="0.35" stroke-opacity="0.44"/>
<path d="M361.85,82.00 L361.59,83.35 L361.13,84.62 L360.55,85.81 L359.91,86.93 L359.25,88.04 L358.53,89.14 L357.72,90.24 L356.77,91.26 L355.64,92.14 L354.35,92.79 L352.94,93.14 L351.50,93.20 L350.08,92.96 L348.73,92.49 L347.50,91.82 L346.38,91.01 L345.39,90.08 L344.54,89.07 L343.81,88.00 L343.19,86.87 L342.67,85.71 L342.24,84.52 L341.88,83.29 L341.62,82.00 L341.48,80.66 L341.53,79.29 L341.79,77.92 L342.29,76.60 L343.03,75.40 L343.95,74.33 L345.02,73.43 L346.20,72.68 L347.46,72.09 L348.77,71.66 L350.13,71.42 L351.50,71.37 L352.85,71.55 L354.15,71.94 L355.37,72.52 L356.49,73.23 L357.53,74.02 L358.51,74.88 L359.44,75.81 L360.30,76.84 L361.03,77.99 L361.57,79.26 L361.85,80.62 Z" fill="none" stroke="#6a7a6a" stroke-width="0.35" stroke-opacity="0.44"/>
<path d="M362.75,82.00 L362.46,83.47 L361.96,84.85 L361.36,86.15 L360.70,87.39 L360.01,88.63 L359.25,89.87 L358.36,91.08 L357.30,92.21 L356.04,93.14 L354.62,93.81 L353.08,94.15 L351.50,94.16 L349.96,93.87 L348.51,93.33 L347.18,92.60 L345.97,91.72 L344.90,90.73 L343.97,89.65 L343.16,88.50 L342.46,87.30 L341.86,86.05 L341.35,84.76 L340.93,83.41 L340.62,82.00 L340.47,80.53 L340.53,79.01 L340.83,77.51 L341.41,76.08 L342.23,74.78 L343.26,73.63 L344.44,72.66 L345.73,71.85 L347.10,71.22 L348.53,70.76 L350.01,70.50 L351.50,70.46 L352.97,70.67 L354.38,71.10 L355.70,71.71 L356.92,72.47 L358.06,73.31 L359.15,74.23 L360.18,75.23 L361.13,76.35 L361.93,77.61 L362.50,79.01 L362.78,80.49 Z" fill="none" stroke="#6a7a6a" stroke-width="0.35" stroke-opacity="0.28"/>
<path d="M363.65,82.00 L363.32,83.58 L362.80,85.07 L362.17,86.49 L361.50,87.86 L360.78,89.23 L359.97,90.61 L359.01,91.94 L357.84,93.16 L356.45,94.15 L354.88,94.82 L353.20,95.14 L351.50,95.10 L349.85,94.75 L348.29,94.15 L346.87,93.36 L345.58,92.42 L344.42,91.37 L343.40,90.23 L342.50,89.01 L341.72,87.73 L341.04,86.40 L340.45,85.01 L339.96,83.54 L339.60,82.00 L339.44,80.39 L339.51,78.74 L339.87,77.11 L340.52,75.56 L341.44,74.16 L342.57,72.93 L343.86,71.89 L345.26,71.03 L346.75,70.35 L348.30,69.86 L349.89,69.59 L351.50,69.56 L353.08,69.79 L354.60,70.26 L356.02,70.91 L357.35,71.71 L358.61,72.60 L359.80,73.57 L360.94,74.65 L361.97,75.86 L362.82,77.24 L363.42,78.76 L363.70,80.37 Z" fill="none" stroke="#6a7a6a" stroke-width="0.35" stroke-opacity="0.28"/>
<path d="M364.53,82.00 L364.18,83.70 L363.64,85.30 L363.00,86.84 L362.32,88.35 L361.58,89.85 L360.72,91.36 L359.67,92.81 L358.38,94.11 L356.86,95.14 L355.14,95.82 L353.33,96.10 L351.50,96.01 L349.74,95.60 L348.08,94.95 L346.57,94.10 L345.18,93.11 L343.94,92.01 L342.83,90.81 L341.84,89.53 L340.97,88.18 L340.19,86.76 L339.52,85.26 L338.96,83.68 L338.56,82.00 L338.39,80.25 L338.49,78.46 L338.91,76.70 L339.64,75.05 L340.66,73.55 L341.90,72.25 L343.29,71.14 L344.80,70.22 L346.40,69.49 L348.06,68.97 L349.77,68.69 L351.50,68.67 L353.20,68.92 L354.82,69.42 L356.35,70.11 L357.79,70.94 L359.15,71.87 L360.46,72.90 L361.70,74.05 L362.82,75.36 L363.72,76.86 L364.34,78.51 L364.61,80.25 Z" fill="none" stroke="#6a7a6a" stroke-width="0.35" stroke-opacity="0.28"/>
<g><circle cx="360.4" cy="75.8" r="0.45" fill="#ffffff" opacity="0.45"/><circle cx="358.9" cy="75.9" r="0.4" fill="#555" opacity="0.35"/><circle cx="345.9" cy="71.8" r="0.4" fill="#555" opacity="0.35"/><circle cx="354.4" cy="77.3" r="0.4" fill="#555" opacity="0.35"/><circle cx="341.2" cy="80.0" r="0.45" fill="#ffffff" opacity="0.45"/><circle cx="358.2" cy="75.8" r="0.45" fill="#ffffff" opacity="0.45"/><circle cx="352.0" cy="86.6" r="0.45" fill="#ffffff" opacity="0.45"/><circle cx="359.3" cy="85.0" r="0.45" fill="#ffffff" opacity="0.45"/><circle cx="342.9" cy="82.5" r="0.45" fill="#ffffff" opacity="0.45"/><circle cx="352.1" cy="81.2" r="0.4" fill="#555" opacity="0.35"/><circle cx="342.6" cy="83.9" r="0.4" fill="#555" opacity="0.35"/><circle cx="355.5" cy="75.6" r="0.45" fill="#ffffff" opacity="0.45"/><circle cx="354.7" cy="81.2" r="0.4" fill="#555" opacity="0.35"/><circle cx="350.2" cy="80.4" r="0.4" fill="#555" opacity="0.35"/><circle cx="346.7" cy="71.1" r="0.45" fill="#ffffff" opacity="0.45"/><circle cx="360.1" cy="81.0" r="0.45" fill="#ffffff" opacity="0.45"/><circle cx="353.3" cy="80.6" r="0.4" fill="#555" opacity="0.35"/><circle cx="346.5" cy="76.9" r="0.4" fill="#555" opacity="0.35"/><circle cx="345.9" cy="88.3" r="0.45" fill="#ffffff" opacity="0.45"/><circle cx="352.2" cy="76.4" r="0.45" fill="#ffffff" opacity="0.45"/><circle cx="343.5" cy="86.3" r="0.4" fill="#555" opacity="0.35"/><circle cx="348.6" cy="92.8" r="0.45" fill="#ffffff" opacity="0.45"/><circle cx="345.2" cy="81.8" r="0.45" fill="#ffffff" opacity="0.45"/><circle cx="361.2" cy="80.4" r="0.4" fill="#555" opacity="0.35"/><circle cx="348.2" cy="88.1" r="0.45" fill="#ffffff" opacity="0.45"/><circle cx="343.2" cy="76.9" r="0.4" fill="#555" opacity="0.35"/><circle cx="361.5" cy="84.6" r="0.4" fill="#555" opacity="0.35"/><circle cx="348.9" cy="81.2" r="0.45" fill="#ffffff" opacity="0.45"/><circle cx="356.8" cy="82.2" r="0.4" fill="#555" opacity="0.35"/><circle cx="343.8" cy="75.7" r="0.4" fill="#555" opacity="0.35"/><circle cx="359.5" cy="76.8" r="0.4" fill="#555" opacity="0.35"/><circle cx="344.4" cy="74.6" r="0.4" fill="#555" opacity="0.35"/><circle cx="349.1" cy="76.8" r="0.4" fill="#555" opacity="0.35"/><circle cx="341.3" cy="84.8" r="0.45" fill="#ffffff" opacity="0.45"/><circle cx="352.5" cy="84.2" r="0.4" fill="#555" opacity="0.35"/><circle cx="359.9" cy="76.9" r="0.45" fill="#ffffff" opacity="0.45"/><circle cx="356.3" cy="72.2" r="0.4" fill="#555" opacity="0.35"/><circle cx="351.2" cy="88.8" r="0.45" fill="#ffffff" opacity="0.45"/><circle cx="348.2" cy="89.4" r="0.4" fill="#555" opacity="0.35"/><circle cx="354.1" cy="80.8" r="0.4" fill="#555" opacity="0.35"/><circle cx="355.6" cy="83.0" r="0.4" fill="#555" opacity="0.35"/><circle cx="341.1" cy="76.6" r="0.45" fill="#ffffff" opacity="0.45"/><circle cx="359.0" cy="82.7" r="0.4" fill="#555" opacity="0.35"/><circle cx="362.6" cy="77.3" r="0.45" fill="#ffffff" opacity="0.45"/><circle cx="348.2" cy="84.1" r="0.4" fill="#555" opacity="0.35"/><circle cx="352.6" cy="86.7" r="0.45" fill="#ffffff" opacity="0.45"/><circle cx="361.6" cy="82.3" r="0.45" fill="#ffffff" opacity="0.45"/><circle cx="355.0" cy="81.2" r="0.4" fill="#555" opacity="0.35"/><circle cx="352.6" cy="83.2" r="0.4" fill="#555" opacity="0.35"/><circle cx="352.0" cy="92.6" r="0.45" fill="#ffffff" opacity="0.45"/><circle cx="361.7" cy="85.4" r="0.4" fill="#555" opacity="0.35"/><circle cx="357.9" cy="73.7" r="0.45" fill="#ffffff" opacity="0.45"/><circle cx="344.4" cy="74.5" r="0.45" fill="#ffffff" opacity="0.45"/><circle cx="357.1" cy="79.4" r="0.4" fill="#555" opacity="0.35"/><circle cx="351.2" cy="80.7" r="0.45" fill="#ffffff" opacity="0.45"/><circle cx="345.1" cy="72.9" r="0.45" fill="#ffffff" opacity="0.45"/><circle cx="347.6" cy="91.8" r="0.45" fill="#ffffff" opacity="0.45"/><circle cx="356.9" cy="75.4" r="0.45" fill="#ffffff" opacity="0.45"/><circle cx="345.3" cy="88.9" r="0.45" fill="#ffffff" opacity="0.45"/><circle cx="349.4" cy="77.8" r="0.4" fill="#555" opacity="0.35"/><circle cx="345.1" cy="89.5" r="0.4" fill="#555" opacity="0.35"/><circle cx="344.9" cy="85.8" r="0.4" fill="#555" opacity="0.35"/><circle cx="361.6" cy="78.3" r="0.4" fill="#555" opacity="0.35"/><circle cx="350.7" cy="84.9" r="0.4" fill="#555" opacity="0.35"/><circle cx="348.3" cy="71.2" r="0.45" fill="#ffffff" opacity="0.45"/><circle cx="342.0" cy="74.5" r="0.4" fill="#555" opacity="0.35"/><circle cx="346.1" cy="77.9" r="0.45" fill="#ffffff" opacity="0.45"/><circle cx="357.2" cy="77.1" r="0.4" fill="#555" opacity="0.35"/><circle cx="342.3" cy="75.0" r="0.4" fill="#555" opacity="0.35"/><circle cx="351.4" cy="82.5" r="0.45" fill="#ffffff" opacity="0.45"/><circle cx="343.3" cy="86.4" r="0.4" fill="#555" opacity="0.35"/><circle cx="353.4" cy="80.3" r="0.4" fill="#555" opacity="0.35"/><circle cx="355.8" cy="71.4" r="0.4" fill="#555" opacity="0.35"/><circle cx="349.8" cy="93.3" r="0.4" fill="#555" opacity="0.35"/><circle cx="346.9" cy="71.2" r="0.45" fill="#ffffff" opacity="0.45"/><circle cx="359.3" cy="86.7" r="0.4" fill="#555" opacity="0.35"/><circle cx="354.7" cy="92.2" r="0.4" fill="#555" opacity="0.35"/><circle cx="352.4" cy="91.6" r="0.4" fill="#555" opacity="0.35"/><circle cx="346.1" cy="83.2" r="0.45" fill="#ffffff" opacity="0.45"/><circle cx="351.6" cy="71.0" r="0.45" fill="#ffffff" opacity="0.45"/><circle cx="360.8" cy="87.8" r="0.4" fill="#555" opacity="0.35"/><circle cx="352.5" cy="91.3" r="0.4" fill="#555" opacity="0.35"/><circle cx="358.1" cy="76.1" r="0.45" fill="#ffffff" opacity="0.45"/><circle cx="347.0" cy="79.1" r="0.45" fill="#ffffff" opacity="0.45"/><circle cx="355.8" cy="91.4" r="0.45" fill="#ffffff" opacity="0.45"/><circle cx="344.4" cy="78.9" r="0.45" fill="#ffffff" opacity="0.45"/><circle cx="353.0" cy="84.1" r="0.4" fill="#555" opacity="0.35"/><circle cx="348.7" cy="84.9" r="0.4" fill="#555" opacity="0.35"/><circle cx="352.6" cy="77.3" r="0.4" fill="#555" opacity="0.35"/><circle cx="346.6" cy="89.4" r="0.45" fill="#ffffff" opacity="0.45"/><circle cx="363.3" cy="84.6" r="0.4" fill="#555" opacity="0.35"/><circle cx="342.4" cy="82.8" r="0.45" fill="#ffffff" opacity="0.45"/><circle cx="352.9" cy="74.1" r="0.4" fill="#555" opacity="0.35"/><circle cx="352.7" cy="70.9" r="0.4" fill="#555" opacity="0.35"/><circle cx="351.4" cy="84.4" r="0.45" fill="#ffffff" opacity="0.45"/><circle cx="353.0" cy="85.2" r="0.45" fill="#ffffff" opacity="0.45"/><circle cx="340.9" cy="77.9" r="0.45" fill="#ffffff" opacity="0.45"/><circle cx="362.5" cy="78.2" r="0.45" fill="#ffffff" opacity="0.45"/><circle cx="345.2" cy="77.5" r="0.45" fill="#ffffff" opacity="0.45"/><circle cx="357.5" cy="80.4" r="0.4" fill="#555" opacity="0.35"/><circle cx="344.0" cy="72.7" r="0.4" fill="#555" opacity="0.35"/><circle cx="345.1" cy="87.1" r="0.45" fill="#ffffff" opacity="0.45"/><circle cx="363.3" cy="79.4" r="0.45" fill="#ffffff" opacity="0.45"/><circle cx="357.5" cy="83.5" r="0.45" fill="#ffffff" opacity="0.45"/><circle cx="361.0" cy="75.3" r="0.4" fill="#555" opacity="0.35"/><circle cx="361.8" cy="85.2" r="0.4" fill="#555" opacity="0.35"/><circle cx="344.2" cy="72.2" r="0.45" fill="#ffffff" opacity="0.45"/><circle cx="358.0" cy="90.5" r="0.4" fill="#555" opacity="0.35"/><circle cx="348.6" cy="75.9" r="0.4" fill="#555" opacity="0.35"/><circle cx="351.7" cy="78.0" r="0.45" fill="#ffffff" opacity="0.45"/><circle cx="351.3" cy="86.3" r="0.45" fill="#ffffff" opacity="0.45"/><circle cx="354.4" cy="87.3" r="0.45" fill="#ffffff" opacity="0.45"/><circle cx="350.9" cy="80.8" r="0.4" fill="#555" opacity="0.35"/><circle cx="352.3" cy="84.2" r="0.4" fill="#555" opacity="0.35"/><circle cx="353.7" cy="93.7" r="0.4" fill="#555" opacity="0.35"/><circle cx="355.0" cy="79.0" r="0.45" fill="#ffffff" opacity="0.45"/><circle cx="361.1" cy="88.8" r="0.4" fill="#555" opacity="0.35"/><circle cx="345.8" cy="76.0" r="0.45" fill="#ffffff" opacity="0.45"/><circle cx="355.2" cy="74.3" r="0.4" fill="#555" opacity="0.35"/><circle cx="355.1" cy="86.5" r="0.45" fill="#ffffff" opacity="0.45"/><circle cx="349.5" cy="73.1" r="0.45" fill="#ffffff" opacity="0.45"/><circle cx="355.8" cy="77.4" r="0.45" fill="#ffffff" opacity="0.45"/><circle cx="355.0" cy="87.3" r="0.4" fill="#555" opacity="0.35"/><circle cx="349.0" cy="86.4" r="0.45" fill="#ffffff" opacity="0.45"/><circle cx="346.7" cy="92.7" r="0.45" fill="#ffffff" opacity="0.45"/><circle cx="354.4" cy="81.6" r="0.4" fill="#555" opacity="0.35"/><circle cx="348.8" cy="77.1" r="0.45" fill="#ffffff" opacity="0.45"/><circle cx="350.1" cy="88.1" r="0.45" fill="#ffffff" opacity="0.45"/><circle cx="343.5" cy="91.3" r="0.4" fill="#555" opacity="0.35"/><circle cx="354.9" cy="80.3" r="0.45" fill="#ffffff" opacity="0.45"/><circle cx="353.8" cy="80.2" r="0.4" fill="#555" opacity="0.35"/><circle cx="348.3" cy="93.8" r="0.45" fill="#ffffff" opacity="0.45"/><circle cx="354.0" cy="75.2" r="0.45" fill="#ffffff" opacity="0.45"/><circle cx="362.6" cy="82.1" r="0.45" fill="#ffffff" opacity="0.45"/><circle cx="354.6" cy="89.5" r="0.4" fill="#555" opacity="0.35"/><circle cx="353.3" cy="91.2" r="0.45" fill="#ffffff" opacity="0.45"/><circle cx="356.0" cy="91.8" r="0.4" fill="#555" opacity="0.35"/><circle cx="352.6" cy="85.3" r="0.45" fill="#ffffff" opacity="0.45"/><circle cx="344.9" cy="76.5" r="0.45" fill="#ffffff" opacity="0.45"/><circle cx="354.1" cy="91.3" r="0.4" fill="#555" opacity="0.35"/><circle cx="355.0" cy="73.3" r="0.45" fill="#ffffff" opacity="0.45"/><circle cx="361.0" cy="86.2" r="0.45" fill="#ffffff" opacity="0.45"/><circle cx="351.0" cy="79.1" r="0.4" fill="#555" opacity="0.35"/><circle cx="345.8" cy="91.7" r="0.4" fill="#555" opacity="0.35"/><circle cx="350.0" cy="82.1" r="0.4" fill="#555" opacity="0.35"/><circle cx="340.3" cy="83.7" r="0.45" fill="#ffffff" opacity="0.45"/><circle cx="355.8" cy="92.4" r="0.45" fill="#ffffff" opacity="0.45"/><circle cx="355.3" cy="88.4" r="0.4" fill="#555" opacity="0.35"/><circle cx="360.3" cy="82.3" r="0.45" fill="#ffffff" opacity="0.45"/><circle cx="347.3" cy="81.6" r="0.4" fill="#555" opacity="0.35"/><circle cx="356.1" cy="71.5" r="0.45" fill="#ffffff" opacity="0.45"/><circle cx="349.7" cy="74.6" r="0.4" fill="#555" opacity="0.35"/><circle cx="362.0" cy="86.3" r="0.4" fill="#555" opacity="0.35"/><circle cx="342.8" cy="82.3" r="0.45" fill="#ffffff" opacity="0.45"/><circle cx="349.8" cy="81.6" r="0.4" fill="#555" opacity="0.35"/><circle cx="352.4" cy="87.2" r="0.45" fill="#ffffff" opacity="0.45"/><circle cx="351.5" cy="93.2" r="0.45" fill="#ffffff" opacity="0.45"/><circle cx="359.9" cy="87.9" r="0.45" fill="#ffffff" opacity="0.45"/><circle cx="360.9" cy="83.1" r="0.4" fill="#555" opacity="0.35"/><circle cx="341.4" cy="80.5" r="0.45" fill="#ffffff" opacity="0.45"/></g>
<ellipse cx="350.5" cy="84.0" rx="1.6" ry="5.5" fill="#ffffff" opacity="0.6" filter="url(#bl)"/>
<rect x="301.6" y="30.6" width="33.7" height="35.6" fill="none" stroke="#4a4a4a" stroke-width="0.85" />
<rect x="336.6" y="66.8" width="36.0" height="30.4" fill="none" stroke="#e8868c" stroke-width="1.0" />
<text x="308.2" y="28.9" font-size="8.2" textLength="18.6" lengthAdjust="spacingAndGlyphs" >CD4<tspan font-size="5" dy="-3">+</tspan></text>
<text x="346.0" y="106.4" font-size="8.2" textLength="21.0" lengthAdjust="spacingAndGlyphs" >CD8<tspan font-size="5" dy="-3">+</tspan></text>
<text x="283.4" y="42.0" font-size="7.0" textLength="10.8" lengthAdjust="spacingAndGlyphs" >10<tspan font-size="4.2" dy="-2.6">4</tspan></text>
<text x="283.4" y="66.3" font-size="7.0" textLength="10.8" lengthAdjust="spacingAndGlyphs" >10<tspan font-size="4.2" dy="-2.6">3</tspan></text>
<text x="287.2" y="95.5" font-size="7.0" >0</text>
<text x="313.2" y="118.2" font-size="7.0" >0</text>
<text x="332.0" y="118.2" font-size="7.0" textLength="9.0" lengthAdjust="spacingAndGlyphs" >10<tspan font-size="4.2" dy="-2.6">3</tspan></text>
<text x="358.0" y="118.2" font-size="7.0" textLength="9.0" lengthAdjust="spacingAndGlyphs" >10<tspan font-size="4.2" dy="-2.6">4</tspan></text>
<line x1="277.2" y1="86.0" x2="277.2" y2="27.9" stroke="#111" stroke-width="1.7" />
<polygon points="277.2,21.4 273.2,28.4 281.2,28.4" fill="#111"/>
<text x="280.4" y="99.6" font-size="8.4" font-weight="bold" text-anchor="middle" transform="rotate(-90 280.4 99.6)" >CD4</text>
<text x="297.6" y="128.6" font-size="8.4" font-weight="bold" textLength="16.2" lengthAdjust="spacingAndGlyphs" >CD8</text>
<line x1="318.0" y1="126.0" x2="375.9" y2="126.0" stroke="#111" stroke-width="1.7" />
<polygon points="383.4,126.0 375.4,122.2 375.4,129.8" fill="#111"/>
<line x1="335.3" y1="49.2" x2="391.5" y2="49.2" stroke="#222" stroke-width="1.25" />
<polygon points="394.8,49.2 390.4,46.6 390.4,51.8" fill="#222"/>
<rect x="417.0" y="18.4" width="90.6" height="90.3" fill="none" stroke="#c8c8c8" stroke-width="0.8" />
<line x1="416.2" y1="23" x2="417.4" y2="23" stroke="#aaa" stroke-width="0.4" />
<line x1="416.2" y1="28" x2="417.4" y2="28" stroke="#aaa" stroke-width="0.4" />
<line x1="416.2" y1="33" x2="417.4" y2="33" stroke="#aaa" stroke-width="0.4" />
<line x1="416.2" y1="41.5" x2="417.4" y2="41.5" stroke="#aaa" stroke-width="0.4" />
<line x1="416.2" y1="45" x2="417.4" y2="45" stroke="#aaa" stroke-width="0.4" />
<line x1="416.2" y1="50" x2="417.4" y2="50" stroke="#aaa" stroke-width="0.4" />
<line x1="416.2" y1="55" x2="417.4" y2="55" stroke="#aaa" stroke-width="0.4" />
<line x1="416.2" y1="60" x2="417.4" y2="60" stroke="#aaa" stroke-width="0.4" />
<line x1="416.2" y1="66" x2="417.4" y2="66" stroke="#aaa" stroke-width="0.4" />
<line x1="416.2" y1="70" x2="417.4" y2="70" stroke="#aaa" stroke-width="0.4" />
<line x1="416.2" y1="75" x2="417.4" y2="75" stroke="#aaa" stroke-width="0.4" />
<line x1="416.2" y1="80" x2="417.4" y2="80" stroke="#aaa" stroke-width="0.4" />
<line x1="416.2" y1="86" x2="417.4" y2="86" stroke="#aaa" stroke-width="0.4" />
<line x1="416.2" y1="95" x2="417.4" y2="95" stroke="#aaa" stroke-width="0.4" />
<line x1="416.2" y1="100" x2="417.4" y2="100" stroke="#aaa" stroke-width="0.4" />
<line x1="425" y1="108.1" x2="425" y2="109.5" stroke="#aaa" stroke-width="0.4" />
<line x1="432" y1="108.1" x2="432" y2="109.5" stroke="#aaa" stroke-width="0.4" />
<line x1="441" y1="108.1" x2="441" y2="109.5" stroke="#aaa" stroke-width="0.4" />
<line x1="448" y1="108.1" x2="448" y2="109.5" stroke="#aaa" stroke-width="0.4" />
<line x1="455" y1="108.1" x2="455" y2="109.5" stroke="#aaa" stroke-width="0.4" />
<line x1="465" y1="108.1" x2="465" y2="109.5" stroke="#aaa" stroke-width="0.4" />
<line x1="472" y1="108.1" x2="472" y2="109.5" stroke="#aaa" stroke-width="0.4" />
<line x1="482" y1="108.1" x2="482" y2="109.5" stroke="#aaa" stroke-width="0.4" />
<line x1="490" y1="108.1" x2="490" y2="109.5" stroke="#aaa" stroke-width="0.4" />
<line x1="498" y1="108.1" x2="498" y2="109.5" stroke="#aaa" stroke-width="0.4" />
<circle cx="493.8" cy="82.0" r="0.3" fill="#bbb" opacity="0.6"/>
<circle cx="422.9" cy="31.5" r="0.3" fill="#bbb" opacity="0.6"/>
<circle cx="461.4" cy="63.6" r="0.3" fill="#bbb" opacity="0.6"/>
<circle cx="443.0" cy="31.4" r="0.3" fill="#bbb" opacity="0.6"/>
<circle cx="453.9" cy="32.6" r="0.3" fill="#bbb" opacity="0.6"/>
<circle cx="469.9" cy="94.2" r="0.3" fill="#bbb" opacity="0.6"/>
<circle cx="431.7" cy="69.7" r="0.3" fill="#bbb" opacity="0.6"/>
<circle cx="483.2" cy="35.0" r="0.3" fill="#bbb" opacity="0.6"/>
<circle cx="490.0" cy="100.7" r="0.3" fill="#bbb" opacity="0.6"/>
<circle cx="452.4" cy="56.7" r="0.3" fill="#bbb" opacity="0.6"/>
<circle cx="491.2" cy="65.7" r="0.3" fill="#bbb" opacity="0.6"/>
<circle cx="453.0" cy="101.0" r="0.3" fill="#bbb" opacity="0.6"/>
<circle cx="485.8" cy="49.8" r="0.3" fill="#bbb" opacity="0.6"/>
<circle cx="439.7" cy="49.5" r="0.3" fill="#bbb" opacity="0.6"/>
<circle cx="456.5" cy="104.4" r="0.3" fill="#bbb" opacity="0.6"/>
<circle cx="488.2" cy="98.6" r="0.3" fill="#bbb" opacity="0.6"/>
<circle cx="489.1" cy="93.0" r="0.3" fill="#bbb" opacity="0.6"/>
<circle cx="423.6" cy="65.0" r="0.3" fill="#bbb" opacity="0.6"/>
<circle cx="501.4" cy="100.4" r="0.3" fill="#bbb" opacity="0.6"/>
<circle cx="440.4" cy="56.9" r="0.3" fill="#bbb" opacity="0.6"/>
<circle cx="473.4" cy="52.0" r="0.3" fill="#bbb" opacity="0.6"/>
<circle cx="464.6" cy="26.9" r="0.3" fill="#bbb" opacity="0.6"/>
<circle cx="456.2" cy="63.9" r="0.3" fill="#bbb" opacity="0.6"/>
<circle cx="420.8" cy="32.8" r="0.3" fill="#bbb" opacity="0.6"/>
<circle cx="502.4" cy="87.0" r="0.3" fill="#bbb" opacity="0.6"/>
<circle cx="499.6" cy="74.8" r="0.3" fill="#bbb" opacity="0.6"/>
<circle cx="488.6" cy="96.2" r="0.3" fill="#bbb" opacity="0.6"/>
<circle cx="495.1" cy="23.9" r="0.3" fill="#bbb" opacity="0.6"/>
<circle cx="474.2" cy="43.6" r="0.3" fill="#bbb" opacity="0.6"/>
<circle cx="477.3" cy="44.2" r="0.3" fill="#bbb" opacity="0.6"/>
<circle cx="465.6" cy="99.6" r="0.3" fill="#bbb" opacity="0.6"/>
<circle cx="472.4" cy="42.3" r="0.3" fill="#bbb" opacity="0.6"/>
<circle cx="463.7" cy="57.9" r="0.3" fill="#bbb" opacity="0.6"/>
<circle cx="500.8" cy="45.4" r="0.3" fill="#bbb" opacity="0.6"/>
<circle cx="445.3" cy="76.0" r="0.3" fill="#bbb" opacity="0.6"/>
<circle cx="429.4" cy="71.5" r="0.3" fill="#bbb" opacity="0.6"/>
<circle cx="501.2" cy="64.7" r="0.3" fill="#bbb" opacity="0.6"/>
<circle cx="442.1" cy="60.6" r="0.3" fill="#bbb" opacity="0.6"/>
<circle cx="464.9" cy="33.6" r="0.3" fill="#bbb" opacity="0.6"/>
<circle cx="429.7" cy="32.2" r="0.3" fill="#bbb" opacity="0.6"/>
<circle cx="444.2" cy="55.6" r="0.3" fill="#bbb" opacity="0.6"/>
<circle cx="443.8" cy="41.7" r="0.3" fill="#bbb" opacity="0.6"/>
<circle cx="426.6" cy="67.4" r="0.3" fill="#bbb" opacity="0.6"/>
<circle cx="491.2" cy="72.8" r="0.3" fill="#bbb" opacity="0.6"/>
<circle cx="468.0" cy="76.3" r="0.3" fill="#bbb" opacity="0.6"/>
<circle cx="436.3" cy="81.4" r="0.3" fill="#bbb" opacity="0.6"/>
<circle cx="458.6" cy="67.6" r="0.3" fill="#bbb" opacity="0.6"/>
<circle cx="471.7" cy="60.9" r="0.3" fill="#bbb" opacity="0.6"/>
<circle cx="445.7" cy="41.6" r="0.3" fill="#bbb" opacity="0.6"/>
<circle cx="438.1" cy="64.6" r="0.3" fill="#bbb" opacity="0.6"/>
<circle cx="452.0" cy="70.8" r="0.3" fill="#bbb" opacity="0.6"/>
<circle cx="420.0" cy="51.0" r="0.3" fill="#bbb" opacity="0.6"/>
<circle cx="493.1" cy="41.3" r="0.3" fill="#bbb" opacity="0.6"/>
<circle cx="466.9" cy="62.8" r="0.3" fill="#bbb" opacity="0.6"/>
<circle cx="443.5" cy="104.9" r="0.3" fill="#bbb" opacity="0.6"/>
<circle cx="444.4" cy="86.6" r="0.3" fill="#bbb" opacity="0.6"/>
<circle cx="432.6" cy="26.7" r="0.3" fill="#bbb" opacity="0.6"/>
<circle cx="493.9" cy="58.4" r="0.3" fill="#bbb" opacity="0.6"/>
<circle cx="424.3" cy="54.0" r="0.3" fill="#bbb" opacity="0.6"/>
<circle cx="456.8" cy="83.5" r="0.3" fill="#bbb" opacity="0.6"/>
<circle cx="428.4" cy="40.1" r="0.3" fill="#bbb" opacity="0.6"/>
<circle cx="501.5" cy="83.8" r="0.3" fill="#bbb" opacity="0.6"/>
<circle cx="432.3" cy="49.6" r="0.3" fill="#bbb" opacity="0.6"/>
<circle cx="449.3" cy="78.4" r="0.3" fill="#bbb" opacity="0.6"/>
<circle cx="472.0" cy="93.2" r="0.3" fill="#bbb" opacity="0.6"/>
<circle cx="489.6" cy="65.0" r="0.3" fill="#bbb" opacity="0.6"/>
<circle cx="482.5" cy="84.2" r="0.3" fill="#bbb" opacity="0.6"/>
<circle cx="484.3" cy="61.4" r="0.3" fill="#bbb" opacity="0.6"/>
<circle cx="486.5" cy="81.2" r="0.3" fill="#bbb" opacity="0.6"/>
<circle cx="497.7" cy="31.8" r="0.3" fill="#bbb" opacity="0.6"/>
<circle cx="449.3" cy="40.1" r="0.35" fill="#999" opacity="0.7"/>
<circle cx="443.7" cy="31.1" r="0.35" fill="#999" opacity="0.7"/>
<circle cx="426.6" cy="50.9" r="0.35" fill="#999" opacity="0.7"/>
<circle cx="431.1" cy="42.7" r="0.35" fill="#999" opacity="0.7"/>
<circle cx="445.6" cy="29.0" r="0.35" fill="#999" opacity="0.7"/>
<circle cx="432.8" cy="39.5" r="0.35" fill="#999" opacity="0.7"/>
<circle cx="430.2" cy="56.1" r="0.35" fill="#999" opacity="0.7"/>
<circle cx="440.4" cy="33.8" r="0.35" fill="#999" opacity="0.7"/>
<circle cx="432.1" cy="62.9" r="0.35" fill="#999" opacity="0.7"/>
<circle cx="433.5" cy="62.1" r="0.35" fill="#999" opacity="0.7"/>
<circle cx="445.9" cy="29.3" r="0.35" fill="#999" opacity="0.7"/>
<circle cx="429.7" cy="50.7" r="0.35" fill="#999" opacity="0.7"/>
<circle cx="447.2" cy="66.3" r="0.35" fill="#999" opacity="0.7"/>
<circle cx="450.6" cy="66.0" r="0.35" fill="#999" opacity="0.7"/>
<circle cx="433.2" cy="43.1" r="0.35" fill="#999" opacity="0.7"/>
<circle cx="452.9" cy="42.3" r="0.35" fill="#999" opacity="0.7"/>
<circle cx="450.7" cy="32.5" r="0.35" fill="#999" opacity="0.7"/>
<circle cx="453.3" cy="46.4" r="0.35" fill="#999" opacity="0.7"/>
<circle cx="428.6" cy="60.6" r="0.35" fill="#999" opacity="0.7"/>
<circle cx="452.7" cy="51.6" r="0.35" fill="#999" opacity="0.7"/>
<circle cx="430.5" cy="43.1" r="0.35" fill="#999" opacity="0.7"/>
<circle cx="455.2" cy="40.4" r="0.35" fill="#999" opacity="0.7"/>
<circle cx="426.9" cy="45.0" r="0.35" fill="#999" opacity="0.7"/>
<circle cx="429.4" cy="48.5" r="0.35" fill="#999" opacity="0.7"/>
<circle cx="437.5" cy="34.2" r="0.35" fill="#999" opacity="0.7"/>
<circle cx="433.9" cy="65.9" r="0.35" fill="#999" opacity="0.7"/>
<circle cx="433.1" cy="68.9" r="0.35" fill="#999" opacity="0.7"/>
<circle cx="436.5" cy="33.5" r="0.35" fill="#999" opacity="0.7"/>
<circle cx="452.4" cy="60.9" r="0.35" fill="#999" opacity="0.7"/>
<circle cx="431.5" cy="61.9" r="0.35" fill="#999" opacity="0.7"/>
<circle cx="448.9" cy="46.5" r="0.35" fill="#9ab" opacity="0.7"/>
<circle cx="485.6" cy="50.5" r="0.35" fill="#9ab" opacity="0.7"/>
<circle cx="450.1" cy="58.4" r="0.35" fill="#9ab" opacity="0.7"/>
<circle cx="484.9" cy="53.1" r="0.35" fill="#9ab" opacity="0.7"/>
<circle cx="447.5" cy="50.6" r="0.35" fill="#9ab" opacity="0.7"/>
<circle cx="476.0" cy="63.9" r="0.35" fill="#9ab" opacity="0.7"/>
<circle cx="488.7" cy="51.4" r="0.35" fill="#9ab" opacity="0.7"/>
<circle cx="453.1" cy="52.6" r="0.35" fill="#9ab" opacity="0.7"/>
<circle cx="483.6" cy="44.7" r="0.35" fill="#9ab" opacity="0.7"/>
<circle cx="477.6" cy="39.0" r="0.35" fill="#9ab" opacity="0.7"/>
<circle cx="481.4" cy="45.3" r="0.35" fill="#9ab" opacity="0.7"/>
<circle cx="477.1" cy="63.2" r="0.35" fill="#9ab" opacity="0.7"/>
<circle cx="449.8" cy="52.5" r="0.35" fill="#9ab" opacity="0.7"/>
<circle cx="473.9" cy="63.7" r="0.35" fill="#9ab" opacity="0.7"/>
<circle cx="455.0" cy="43.5" r="0.35" fill="#9ab" opacity="0.7"/>
<circle cx="454.5" cy="66.1" r="0.35" fill="#9ab" opacity="0.7"/>
<circle cx="458.6" cy="45.6" r="0.35" fill="#9ab" opacity="0.7"/>
<circle cx="450.5" cy="61.2" r="0.35" fill="#9ab" opacity="0.7"/>
<circle cx="461.1" cy="66.7" r="0.35" fill="#9ab" opacity="0.7"/>
<circle cx="484.6" cy="53.7" r="0.35" fill="#9ab" opacity="0.7"/>
<circle cx="478.4" cy="42.1" r="0.35" fill="#9ab" opacity="0.7"/>
<circle cx="460.3" cy="43.7" r="0.35" fill="#9ab" opacity="0.7"/>
<circle cx="449.4" cy="53.6" r="0.35" fill="#9ab" opacity="0.7"/>
<circle cx="466.0" cy="67.2" r="0.35" fill="#9ab" opacity="0.7"/>
<circle cx="446.1" cy="50.3" r="0.35" fill="#9ab" opacity="0.7"/>
<circle cx="452.4" cy="47.8" r="0.35" fill="#9ab" opacity="0.7"/>
<circle cx="479.1" cy="61.0" r="0.35" fill="#9ab" opacity="0.7"/>
<circle cx="468.9" cy="42.8" r="0.35" fill="#9ab" opacity="0.7"/>
<circle cx="480.5" cy="59.9" r="0.35" fill="#9ab" opacity="0.7"/>
<circle cx="447.3" cy="51.3" r="0.35" fill="#9ab" opacity="0.7"/>
<ellipse cx="442.4" cy="50.6" rx="10.8" ry="15.2" fill="url(#cg)"/>
<path d="M444.66,50.60 L444.67,51.02 L444.64,51.44 L444.55,51.85 L444.41,52.23 L444.23,52.58 L444.02,52.88 L443.79,53.16 L443.55,53.41 L443.30,53.65 L443.02,53.86 L442.72,54.02 L442.40,54.10 L442.07,54.10 L441.75,54.00 L441.45,53.82 L441.18,53.58 L440.93,53.30 L440.70,52.99 L440.50,52.65 L440.32,52.29 L440.18,51.90 L440.08,51.48 L440.03,51.04 L440.03,50.60 L440.08,50.17 L440.17,49.76 L440.30,49.37 L440.45,49.02 L440.63,48.69 L440.83,48.39 L441.04,48.11 L441.28,47.86 L441.53,47.64 L441.80,47.44 L442.09,47.26 L442.40,47.12 L442.73,47.05 L443.07,47.06 L443.41,47.18 L443.71,47.40 L443.97,47.72 L444.17,48.11 L444.31,48.54 L444.41,48.97 L444.49,49.38 L444.55,49.79 L444.61,50.19 Z" fill="none" stroke="#6a6a6a" stroke-width="0.35" stroke-opacity="0.28"/>
<path d="M445.41,50.60 L445.43,51.16 L445.39,51.73 L445.27,52.27 L445.08,52.78 L444.84,53.23 L444.56,53.64 L444.26,54.02 L443.95,54.37 L443.61,54.70 L443.23,54.98 L442.83,55.19 L442.40,55.29 L441.96,55.26 L441.54,55.12 L441.14,54.87 L440.78,54.55 L440.45,54.18 L440.15,53.77 L439.88,53.33 L439.64,52.84 L439.45,52.32 L439.32,51.76 L439.26,51.18 L439.26,50.60 L439.33,50.03 L439.45,49.49 L439.61,48.98 L439.81,48.50 L440.04,48.05 L440.30,47.65 L440.59,47.27 L440.89,46.93 L441.23,46.62 L441.59,46.34 L441.98,46.10 L442.40,45.92 L442.85,45.83 L443.30,45.87 L443.74,46.05 L444.14,46.37 L444.46,46.81 L444.72,47.34 L444.90,47.90 L445.04,48.46 L445.15,49.00 L445.25,49.53 L445.34,50.05 Z" fill="none" stroke="#6a6a6a" stroke-width="0.35" stroke-opacity="0.28"/>
<path d="M446.17,50.60 L446.20,51.30 L446.14,52.01 L445.99,52.69 L445.75,53.32 L445.45,53.89 L445.11,54.41 L444.74,54.89 L444.35,55.35 L443.92,55.76 L443.45,56.11 L442.94,56.36 L442.40,56.47 L441.86,56.42 L441.33,56.23 L440.84,55.91 L440.38,55.51 L439.97,55.05 L439.60,54.54 L439.26,53.99 L438.97,53.39 L438.73,52.74 L438.57,52.04 L438.50,51.32 L438.51,50.60 L438.59,49.89 L438.74,49.22 L438.93,48.58 L439.18,47.98 L439.45,47.42 L439.77,46.90 L440.12,46.42 L440.50,45.98 L440.92,45.57 L441.37,45.21 L441.87,44.91 L442.40,44.69 L442.96,44.60 L443.53,44.67 L444.07,44.93 L444.55,45.36 L444.95,45.93 L445.25,46.59 L445.48,47.28 L445.65,47.96 L445.80,48.62 L445.94,49.26 L446.07,49.92 Z" fill="none" stroke="#6a6a6a" stroke-width="0.35" stroke-opacity="0.28"/>
<path d="M446.93,50.60 L446.97,51.45 L446.90,52.30 L446.71,53.11 L446.42,53.87 L446.06,54.56 L445.66,55.19 L445.22,55.78 L444.75,56.34 L444.24,56.84 L443.67,57.26 L443.05,57.55 L442.40,57.66 L441.75,57.58 L441.12,57.33 L440.53,56.94 L440.00,56.46 L439.50,55.91 L439.05,55.31 L438.65,54.65 L438.29,53.94 L438.02,53.16 L437.83,52.32 L437.75,51.46 L437.76,50.60 L437.86,49.76 L438.03,48.95 L438.26,48.18 L438.53,47.46 L438.86,46.78 L439.23,46.14 L439.64,45.55 L440.10,45.00 L440.60,44.50 L441.15,44.06 L441.75,43.69 L442.40,43.45 L443.08,43.36 L443.75,43.49 L444.39,43.83 L444.95,44.37 L445.41,45.07 L445.77,45.86 L446.04,46.67 L446.25,47.47 L446.45,48.24 L446.64,49.00 L446.81,49.78 Z" fill="none" stroke="#6a6a6a" stroke-width="0.35" stroke-opacity="0.28"/>
<path d="M447.71,50.60 L447.75,51.59 L447.66,52.58 L447.44,53.54 L447.10,54.42 L446.68,55.23 L446.22,55.97 L445.71,56.68 L445.17,57.34 L444.56,57.94 L443.89,58.42 L443.16,58.73 L442.40,58.84 L441.64,58.72 L440.91,58.41 L440.24,57.95 L439.61,57.39 L439.04,56.76 L438.51,56.07 L438.04,55.31 L437.63,54.48 L437.31,53.57 L437.10,52.60 L437.00,51.60 L437.02,50.60 L437.13,49.62 L437.32,48.68 L437.57,47.79 L437.89,46.93 L438.26,46.13 L438.68,45.37 L439.16,44.66 L439.69,44.00 L440.28,43.40 L440.93,42.88 L441.64,42.46 L442.40,42.19 L443.19,42.13 L443.98,42.31 L444.71,42.75 L445.35,43.42 L445.86,44.25 L446.26,45.16 L446.58,46.09 L446.85,46.99 L447.10,47.86 L447.34,48.74 L447.56,49.64 Z" fill="none" stroke="#6a6a6a" stroke-width="0.35" stroke-opacity="0.44"/>
<path d="M448.50,50.60 L448.54,51.74 L448.43,52.87 L448.17,53.96 L447.78,54.97 L447.31,55.90 L446.78,56.77 L446.21,57.59 L445.58,58.36 L444.89,59.05 L444.11,59.59 L443.27,59.92 L442.40,60.01 L441.53,59.85 L440.71,59.48 L439.94,58.95 L439.23,58.32 L438.58,57.61 L437.98,56.83 L437.43,55.97 L436.96,55.02 L436.60,53.98 L436.37,52.88 L436.26,51.74 L436.28,50.60 L436.40,49.49 L436.61,48.42 L436.89,47.39 L437.23,46.40 L437.64,45.46 L438.12,44.58 L438.66,43.74 L439.27,42.98 L439.95,42.28 L440.70,41.68 L441.52,41.21 L442.40,40.94 L443.31,40.91 L444.20,41.17 L445.02,41.71 L445.72,42.50 L446.30,43.46 L446.75,44.48 L447.11,45.51 L447.43,46.51 L447.75,47.48 L448.05,48.47 L448.32,49.50 Z" fill="none" stroke="#6a6a6a" stroke-width="0.35" stroke-opacity="0.44"/>
<path d="M449.30,50.60 L449.35,51.89 L449.21,53.17 L448.91,54.39 L448.47,55.53 L447.94,56.59 L447.36,57.58 L446.72,58.52 L446.01,59.40 L445.21,60.16 L444.33,60.75 L443.38,61.10 L442.40,61.16 L441.43,60.96 L440.51,60.53 L439.65,59.93 L438.86,59.23 L438.12,58.44 L437.44,57.58 L436.83,56.62 L436.30,55.55 L435.90,54.39 L435.64,53.15 L435.53,51.87 L435.54,50.60 L435.67,49.35 L435.89,48.15 L436.19,46.98 L436.57,45.86 L437.02,44.79 L437.55,43.77 L438.15,42.81 L438.84,41.93 L439.61,41.14 L440.47,40.46 L441.40,39.96 L442.40,39.69 L443.42,39.70 L444.41,40.05 L445.31,40.71 L446.08,41.62 L446.71,42.69 L447.21,43.83 L447.63,44.95 L448.02,46.03 L448.40,47.10 L448.77,48.20 L449.09,49.36 Z" fill="none" stroke="#6a6a6a" stroke-width="0.35" stroke-opacity="0.44"/>
<path d="M450.11,50.60 L450.16,52.04 L450.00,53.46 L449.65,54.83 L449.16,56.09 L448.58,57.28 L447.94,58.39 L447.23,59.46 L446.44,60.44 L445.55,61.29 L444.56,61.92 L443.49,62.27 L442.40,62.30 L441.33,62.05 L440.31,61.55 L439.37,60.89 L438.49,60.13 L437.67,59.27 L436.91,58.33 L436.23,57.27 L435.65,56.09 L435.21,54.79 L434.92,53.42 L434.79,52.01 L434.81,50.60 L434.94,49.22 L435.17,47.87 L435.49,46.57 L435.89,45.31 L436.38,44.10 L436.96,42.94 L437.64,41.86 L438.41,40.86 L439.27,39.98 L440.24,39.24 L441.29,38.70 L442.40,38.45 L443.53,38.53 L444.62,38.96 L445.60,39.74 L446.43,40.77 L447.11,41.96 L447.67,43.19 L448.15,44.39 L448.61,45.55 L449.07,46.71 L449.51,47.92 L449.88,49.21 Z" fill="none" stroke="#6a6a6a" stroke-width="0.35" stroke-opacity="0.44"/>
<path d="M450.94,50.60 L450.98,52.19 L450.79,53.76 L450.40,55.26 L449.86,56.66 L449.23,57.97 L448.53,59.22 L447.75,60.41 L446.87,61.49 L445.88,62.41 L444.78,63.08 L443.60,63.42 L442.40,63.42 L441.23,63.11 L440.12,62.56 L439.09,61.84 L438.13,61.02 L437.22,60.10 L436.38,59.07 L435.63,57.91 L434.99,56.62 L434.51,55.20 L434.20,53.69 L434.06,52.14 L434.07,50.60 L434.20,49.08 L434.44,47.60 L434.77,46.15 L435.20,44.75 L435.73,43.39 L436.36,42.10 L437.11,40.89 L437.96,39.78 L438.93,38.80 L440.00,38.01 L441.17,37.46 L442.40,37.23 L443.64,37.38 L444.81,37.92 L445.87,38.82 L446.76,39.96 L447.50,41.25 L448.12,42.56 L448.67,43.83 L449.21,45.06 L449.76,46.31 L450.27,47.63 L450.69,49.06 Z" fill="none" stroke="#6a6a6a" stroke-width="0.35" stroke-opacity="0.44"/>
<path d="M451.79,50.60 L451.81,52.34 L451.58,54.06 L451.15,55.70 L450.56,57.23 L449.88,58.68 L449.12,60.06 L448.27,61.36 L447.30,62.55 L446.21,63.54 L444.99,64.22 L443.71,64.55 L442.40,64.51 L441.13,64.15 L439.94,63.54 L438.82,62.78 L437.76,61.90 L436.77,60.92 L435.85,59.81 L435.03,58.56 L434.34,57.15 L433.82,55.60 L433.49,53.96 L433.33,52.28 L433.33,50.60 L433.46,48.94 L433.70,47.32 L434.04,45.73 L434.49,44.17 L435.06,42.67 L435.75,41.24 L436.57,39.90 L437.51,38.68 L438.58,37.63 L439.77,36.78 L441.06,36.23 L442.40,36.04 L443.74,36.27 L445.00,36.92 L446.13,37.93 L447.08,39.19 L447.88,40.56 L448.56,41.93 L449.19,43.26 L449.83,44.57 L450.46,45.90 L451.05,47.34 L451.52,48.91 Z" fill="none" stroke="#6a6a6a" stroke-width="0.35" stroke-opacity="0.28"/>
<path d="M452.64,50.60 L452.65,52.50 L452.38,54.37 L451.90,56.14 L451.27,57.81 L450.54,59.39 L449.72,60.90 L448.79,62.33 L447.74,63.61 L446.53,64.65 L445.21,65.35 L443.81,65.66 L442.40,65.58 L441.04,65.16 L439.75,64.51 L438.54,63.70 L437.40,62.78 L436.33,61.74 L435.32,60.56 L434.43,59.21 L433.69,57.68 L433.13,56.00 L432.77,54.23 L432.60,52.42 L432.58,50.60 L432.70,48.80 L432.94,47.03 L433.29,45.29 L433.77,43.59 L434.38,41.94 L435.13,40.36 L436.02,38.90 L437.06,37.58 L438.23,36.44 L439.54,35.56 L440.94,35.02 L442.40,34.89 L443.84,35.21 L445.19,35.97 L446.38,37.09 L447.39,38.44 L448.24,39.88 L449.00,41.31 L449.73,42.69 L450.46,44.05 L451.18,45.48 L451.85,47.04 L452.36,48.75 Z" fill="none" stroke="#6a6a6a" stroke-width="0.35" stroke-opacity="0.28"/>
<path d="M453.51,50.60 L453.49,52.66 L453.19,54.67 L452.66,56.58 L451.99,58.39 L451.20,60.11 L450.32,61.75 L449.32,63.29 L448.17,64.66 L446.86,65.75 L445.42,66.46 L443.91,66.74 L442.40,66.62 L440.94,66.16 L439.57,65.46 L438.28,64.61 L437.05,63.65 L435.88,62.56 L434.79,61.30 L433.83,59.86 L433.03,58.21 L432.44,56.41 L432.05,54.50 L431.86,52.55 L431.83,50.60 L431.94,48.66 L432.17,46.74 L432.53,44.85 L433.03,42.99 L433.68,41.19 L434.50,39.48 L435.47,37.89 L436.60,36.47 L437.89,35.27 L439.31,34.36 L440.83,33.84 L442.40,33.77 L443.94,34.19 L445.36,35.06 L446.61,36.28 L447.69,37.72 L448.61,39.21 L449.45,40.68 L450.27,42.10 L451.11,43.52 L451.93,45.04 L452.67,46.73 L453.23,48.59 Z" fill="none" stroke="#6a6a6a" stroke-width="0.35" stroke-opacity="0.28"/>
<g><circle cx="445.0" cy="57.1" r="0.45" fill="#ffffff" opacity="0.45"/><circle cx="448.8" cy="44.3" r="0.45" fill="#ffffff" opacity="0.45"/><circle cx="436.3" cy="53.4" r="0.45" fill="#ffffff" opacity="0.45"/><circle cx="448.5" cy="43.6" r="0.4" fill="#555" opacity="0.35"/><circle cx="434.9" cy="54.8" r="0.45" fill="#ffffff" opacity="0.45"/><circle cx="451.9" cy="54.4" r="0.4" fill="#555" opacity="0.35"/><circle cx="438.5" cy="63.2" r="0.4" fill="#555" opacity="0.35"/><circle cx="439.8" cy="61.2" r="0.4" fill="#555" opacity="0.35"/><circle cx="432.4" cy="51.0" r="0.45" fill="#ffffff" opacity="0.45"/><circle cx="435.7" cy="58.4" r="0.45" fill="#ffffff" opacity="0.45"/><circle cx="438.9" cy="63.2" r="0.45" fill="#ffffff" opacity="0.45"/><circle cx="443.7" cy="43.7" r="0.45" fill="#ffffff" opacity="0.45"/><circle cx="439.6" cy="55.4" r="0.4" fill="#555" opacity="0.35"/><circle cx="440.5" cy="61.1" r="0.45" fill="#ffffff" opacity="0.45"/><circle cx="436.2" cy="48.7" r="0.45" fill="#ffffff" opacity="0.45"/><circle cx="445.7" cy="52.6" r="0.4" fill="#555" opacity="0.35"/><circle cx="439.4" cy="56.3" r="0.45" fill="#ffffff" opacity="0.45"/><circle cx="441.4" cy="57.5" r="0.45" fill="#ffffff" opacity="0.45"/><circle cx="439.3" cy="43.4" r="0.45" fill="#ffffff" opacity="0.45"/><circle cx="441.5" cy="46.4" r="0.45" fill="#ffffff" opacity="0.45"/><circle cx="444.3" cy="46.2" r="0.45" fill="#ffffff" opacity="0.45"/><circle cx="447.2" cy="39.5" r="0.45" fill="#ffffff" opacity="0.45"/><circle cx="437.1" cy="60.4" r="0.45" fill="#ffffff" opacity="0.45"/><circle cx="446.9" cy="48.9" r="0.4" fill="#555" opacity="0.35"/><circle cx="437.5" cy="50.4" r="0.45" fill="#ffffff" opacity="0.45"/><circle cx="448.3" cy="59.5" r="0.45" fill="#ffffff" opacity="0.45"/><circle cx="448.8" cy="44.1" r="0.45" fill="#ffffff" opacity="0.45"/><circle cx="442.6" cy="61.9" r="0.45" fill="#ffffff" opacity="0.45"/><circle cx="444.9" cy="47.0" r="0.45" fill="#ffffff" opacity="0.45"/><circle cx="437.3" cy="48.6" r="0.4" fill="#555" opacity="0.35"/><circle cx="436.2" cy="58.4" r="0.4" fill="#555" opacity="0.35"/><circle cx="440.0" cy="59.0" r="0.45" fill="#ffffff" opacity="0.45"/><circle cx="446.6" cy="62.5" r="0.45" fill="#ffffff" opacity="0.45"/><circle cx="440.6" cy="46.5" r="0.4" fill="#555" opacity="0.35"/><circle cx="437.7" cy="58.4" r="0.45" fill="#ffffff" opacity="0.45"/><circle cx="447.6" cy="53.8" r="0.45" fill="#ffffff" opacity="0.45"/><circle cx="448.5" cy="59.3" r="0.45" fill="#ffffff" opacity="0.45"/><circle cx="434.4" cy="58.5" r="0.4" fill="#555" opacity="0.35"/><circle cx="449.5" cy="41.6" r="0.45" fill="#ffffff" opacity="0.45"/><circle cx="442.1" cy="53.0" r="0.4" fill="#555" opacity="0.35"/><circle cx="439.3" cy="43.3" r="0.45" fill="#ffffff" opacity="0.45"/><circle cx="437.8" cy="40.4" r="0.45" fill="#ffffff" opacity="0.45"/><circle cx="445.9" cy="43.6" r="0.4" fill="#555" opacity="0.35"/><circle cx="443.9" cy="55.1" r="0.4" fill="#555" opacity="0.35"/><circle cx="441.5" cy="38.5" r="0.45" fill="#ffffff" opacity="0.45"/><circle cx="446.4" cy="52.0" r="0.45" fill="#ffffff" opacity="0.45"/><circle cx="440.3" cy="59.0" r="0.45" fill="#ffffff" opacity="0.45"/><circle cx="439.3" cy="61.3" r="0.45" fill="#ffffff" opacity="0.45"/><circle cx="446.5" cy="41.4" r="0.4" fill="#555" opacity="0.35"/><circle cx="442.2" cy="60.1" r="0.4" fill="#555" opacity="0.35"/><circle cx="442.2" cy="51.0" r="0.4" fill="#555" opacity="0.35"/><circle cx="443.3" cy="43.0" r="0.45" fill="#ffffff" opacity="0.45"/><circle cx="447.3" cy="41.7" r="0.45" fill="#ffffff" opacity="0.45"/><circle cx="442.5" cy="55.4" r="0.4" fill="#555" opacity="0.35"/><circle cx="444.8" cy="64.0" r="0.4" fill="#555" opacity="0.35"/><circle cx="449.7" cy="56.8" r="0.45" fill="#ffffff" opacity="0.45"/><circle cx="442.3" cy="37.5" r="0.45" fill="#ffffff" opacity="0.45"/><circle cx="450.8" cy="58.1" r="0.45" fill="#ffffff" opacity="0.45"/><circle cx="450.1" cy="45.5" r="0.4" fill="#555" opacity="0.35"/><circle cx="446.3" cy="40.6" r="0.45" fill="#ffffff" opacity="0.45"/><circle cx="450.5" cy="54.6" r="0.45" fill="#ffffff" opacity="0.45"/><circle cx="432.5" cy="49.6" r="0.45" fill="#ffffff" opacity="0.45"/><circle cx="442.6" cy="47.6" r="0.4" fill="#555" opacity="0.35"/><circle cx="444.2" cy="43.7" r="0.45" fill="#ffffff" opacity="0.45"/><circle cx="450.4" cy="48.4" r="0.45" fill="#ffffff" opacity="0.45"/><circle cx="442.4" cy="54.1" r="0.45" fill="#ffffff" opacity="0.45"/><circle cx="438.5" cy="54.0" r="0.45" fill="#ffffff" opacity="0.45"/><circle cx="448.0" cy="59.8" r="0.4" fill="#555" opacity="0.35"/><circle cx="442.8" cy="57.7" r="0.45" fill="#ffffff" opacity="0.45"/><circle cx="433.1" cy="55.3" r="0.45" fill="#ffffff" opacity="0.45"/><circle cx="439.5" cy="63.5" r="0.45" fill="#ffffff" opacity="0.45"/><circle cx="436.9" cy="47.4" r="0.4" fill="#555" opacity="0.35"/><circle cx="433.9" cy="46.8" r="0.45" fill="#ffffff" opacity="0.45"/><circle cx="438.4" cy="40.9" r="0.45" fill="#ffffff" opacity="0.45"/><circle cx="443.3" cy="37.5" r="0.45" fill="#ffffff" opacity="0.45"/><circle cx="440.9" cy="59.0" r="0.45" fill="#ffffff" opacity="0.45"/><circle cx="447.5" cy="53.4" r="0.45" fill="#ffffff" opacity="0.45"/><circle cx="440.3" cy="41.4" r="0.45" fill="#ffffff" opacity="0.45"/><circle cx="439.2" cy="59.4" r="0.45" fill="#ffffff" opacity="0.45"/><circle cx="443.8" cy="54.0" r="0.45" fill="#ffffff" opacity="0.45"/><circle cx="451.3" cy="50.0" r="0.45" fill="#ffffff" opacity="0.45"/><circle cx="440.3" cy="36.6" r="0.4" fill="#555" opacity="0.35"/><circle cx="448.0" cy="57.0" r="0.45" fill="#ffffff" opacity="0.45"/><circle cx="445.2" cy="60.5" r="0.45" fill="#ffffff" opacity="0.45"/><circle cx="449.6" cy="45.0" r="0.4" fill="#555" opacity="0.35"/><circle cx="450.0" cy="46.0" r="0.45" fill="#ffffff" opacity="0.45"/><circle cx="442.5" cy="56.0" r="0.45" fill="#ffffff" opacity="0.45"/><circle cx="443.8" cy="37.5" r="0.45" fill="#ffffff" opacity="0.45"/><circle cx="445.6" cy="61.2" r="0.4" fill="#555" opacity="0.35"/><circle cx="446.2" cy="48.0" r="0.4" fill="#555" opacity="0.35"/><circle cx="446.7" cy="39.7" r="0.45" fill="#ffffff" opacity="0.45"/><circle cx="446.1" cy="62.6" r="0.45" fill="#ffffff" opacity="0.45"/><circle cx="437.2" cy="58.5" r="0.45" fill="#ffffff" opacity="0.45"/><circle cx="444.9" cy="44.4" r="0.45" fill="#ffffff" opacity="0.45"/><circle cx="435.0" cy="45.9" r="0.4" fill="#555" opacity="0.35"/><circle cx="439.7" cy="37.4" r="0.4" fill="#555" opacity="0.35"/><circle cx="435.2" cy="51.0" r="0.45" fill="#ffffff" opacity="0.45"/><circle cx="440.0" cy="61.1" r="0.45" fill="#ffffff" opacity="0.45"/><circle cx="440.8" cy="45.2" r="0.45" fill="#ffffff" opacity="0.45"/><circle cx="445.4" cy="49.8" r="0.45" fill="#ffffff" opacity="0.45"/><circle cx="438.2" cy="52.9" r="0.4" fill="#555" opacity="0.35"/><circle cx="451.8" cy="50.8" r="0.4" fill="#555" opacity="0.35"/><circle cx="443.9" cy="41.4" r="0.45" fill="#ffffff" opacity="0.45"/><circle cx="438.5" cy="41.8" r="0.45" fill="#ffffff" opacity="0.45"/><circle cx="438.8" cy="58.7" r="0.4" fill="#555" opacity="0.35"/><circle cx="446.9" cy="38.4" r="0.45" fill="#ffffff" opacity="0.45"/><circle cx="440.5" cy="59.8" r="0.4" fill="#555" opacity="0.35"/><circle cx="439.8" cy="55.8" r="0.45" fill="#ffffff" opacity="0.45"/><circle cx="439.3" cy="59.4" r="0.4" fill="#555" opacity="0.35"/><circle cx="450.4" cy="43.3" r="0.4" fill="#555" opacity="0.35"/><circle cx="450.2" cy="47.9" r="0.4" fill="#555" opacity="0.35"/><circle cx="450.2" cy="55.0" r="0.4" fill="#555" opacity="0.35"/><circle cx="440.1" cy="61.0" r="0.4" fill="#555" opacity="0.35"/><circle cx="434.2" cy="52.0" r="0.45" fill="#ffffff" opacity="0.45"/><circle cx="437.1" cy="61.9" r="0.45" fill="#ffffff" opacity="0.45"/><circle cx="445.6" cy="61.6" r="0.45" fill="#ffffff" opacity="0.45"/><circle cx="449.6" cy="56.6" r="0.45" fill="#ffffff" opacity="0.45"/><circle cx="436.6" cy="46.1" r="0.45" fill="#ffffff" opacity="0.45"/><circle cx="436.5" cy="47.0" r="0.45" fill="#ffffff" opacity="0.45"/><circle cx="446.5" cy="62.9" r="0.45" fill="#ffffff" opacity="0.45"/></g>
<ellipse cx="442.6" cy="50.4" rx="2.2" ry="3.8" fill="#ffffff" opacity="0.85" filter="url(#bl)"/>
<g opacity="0.85">
<ellipse cx="469.5" cy="55.0" rx="16.0" ry="10.2" fill="url(#cg3)" transform="rotate(-38 469.5 55.0)"/>
<path d="M473.16,55.00 L473.19,55.31 L473.12,55.62 L472.95,55.91 L472.70,56.18 L472.39,56.42 L472.05,56.63 L471.68,56.81 L471.29,56.98 L470.87,57.11 L470.43,57.20 L469.96,57.24 L469.50,57.21 L469.06,57.14 L468.65,57.03 L468.26,56.90 L467.90,56.77 L467.53,56.63 L467.16,56.49 L466.79,56.33 L466.44,56.13 L466.14,55.89 L465.92,55.61 L465.79,55.31 L465.77,55.00 L465.83,54.69 L465.96,54.40 L466.15,54.12 L466.39,53.86 L466.67,53.62 L467.00,53.40 L467.36,53.22 L467.75,53.07 L468.17,52.95 L468.60,52.86 L469.05,52.80 L469.50,52.77 L469.96,52.78 L470.41,52.84 L470.83,52.95 L471.22,53.10 L471.57,53.28 L471.87,53.49 L472.13,53.71 L472.38,53.94 L472.62,54.18 L472.84,54.43 L473.03,54.70 Z" fill="none" stroke="#707880" stroke-width="0.35" stroke-opacity="0.28" transform="rotate(-38 469.5 55.0)"/>
<path d="M474.41,55.00 L474.44,55.41 L474.33,55.82 L474.09,56.21 L473.74,56.56 L473.33,56.87 L472.88,57.15 L472.39,57.40 L471.87,57.62 L471.32,57.80 L470.72,57.91 L470.11,57.95 L469.50,57.92 L468.92,57.82 L468.37,57.68 L467.86,57.52 L467.36,57.36 L466.86,57.19 L466.35,57.01 L465.84,56.79 L465.37,56.52 L464.98,56.19 L464.70,55.82 L464.55,55.42 L464.53,55.00 L464.63,54.59 L464.81,54.20 L465.07,53.83 L465.38,53.48 L465.76,53.17 L466.18,52.89 L466.66,52.64 L467.18,52.44 L467.73,52.28 L468.30,52.16 L468.90,52.07 L469.50,52.04 L470.11,52.05 L470.70,52.13 L471.27,52.28 L471.78,52.48 L472.24,52.72 L472.64,53.00 L473.01,53.28 L473.36,53.58 L473.69,53.89 L474.00,54.23 L474.25,54.60 Z" fill="none" stroke="#707880" stroke-width="0.35" stroke-opacity="0.28" transform="rotate(-38 469.5 55.0)"/>
<path d="M475.68,55.00 L475.69,55.52 L475.53,56.03 L475.21,56.51 L474.77,56.94 L474.26,57.33 L473.70,57.67 L473.09,57.99 L472.45,58.26 L471.76,58.47 L471.02,58.61 L470.25,58.66 L469.50,58.61 L468.78,58.49 L468.10,58.33 L467.46,58.15 L466.82,57.96 L466.17,57.76 L465.52,57.54 L464.87,57.27 L464.28,56.92 L463.80,56.50 L463.48,56.03 L463.31,55.52 L463.31,55.00 L463.44,54.49 L463.67,54.00 L463.99,53.55 L464.38,53.12 L464.85,52.72 L465.38,52.37 L465.97,52.07 L466.61,51.81 L467.30,51.61 L468.01,51.45 L468.75,51.35 L469.50,51.30 L470.26,51.33 L471.00,51.43 L471.70,51.61 L472.34,51.86 L472.91,52.16 L473.43,52.50 L473.90,52.85 L474.35,53.22 L474.78,53.60 L475.18,54.03 L475.49,54.50 Z" fill="none" stroke="#707880" stroke-width="0.35" stroke-opacity="0.28" transform="rotate(-38 469.5 55.0)"/>
<path d="M476.95,55.00 L476.94,55.62 L476.72,56.23 L476.32,56.80 L475.79,57.31 L475.17,57.77 L474.50,58.19 L473.79,58.56 L473.02,58.89 L472.19,59.14 L471.31,59.30 L470.40,59.35 L469.50,59.29 L468.64,59.16 L467.83,58.98 L467.05,58.78 L466.27,58.57 L465.47,58.35 L464.66,58.09 L463.87,57.75 L463.17,57.33 L462.62,56.82 L462.25,56.24 L462.08,55.62 L462.09,55.00 L462.26,54.39 L462.55,53.81 L462.93,53.26 L463.40,52.75 L463.95,52.28 L464.58,51.86 L465.29,51.50 L466.05,51.19 L466.86,50.94 L467.72,50.75 L468.60,50.63 L469.50,50.57 L470.41,50.60 L471.30,50.73 L472.13,50.95 L472.90,51.25 L473.59,51.60 L474.21,52.00 L474.80,52.41 L475.36,52.84 L475.90,53.31 L476.38,53.82 L476.75,54.39 Z" fill="none" stroke="#707880" stroke-width="0.35" stroke-opacity="0.28" transform="rotate(-38 469.5 55.0)"/>
<path d="M478.23,55.00 L478.19,55.73 L477.90,56.44 L477.41,57.09 L476.78,57.68 L476.07,58.21 L475.30,58.70 L474.48,59.13 L473.58,59.51 L472.62,59.80 L471.59,59.98 L470.54,60.03 L469.50,59.97 L468.50,59.82 L467.55,59.63 L466.63,59.42 L465.70,59.20 L464.74,58.95 L463.78,58.65 L462.85,58.25 L462.04,57.74 L461.42,57.13 L461.02,56.45 L460.85,55.73 L460.90,55.00 L461.10,54.30 L461.44,53.62 L461.88,52.99 L462.42,52.39 L463.06,51.85 L463.79,51.36 L464.60,50.93 L465.49,50.57 L466.43,50.28 L467.42,50.05 L468.45,49.90 L469.50,49.84 L470.56,49.88 L471.59,50.03 L472.56,50.28 L473.46,50.63 L474.27,51.04 L475.01,51.49 L475.71,51.96 L476.40,52.46 L477.04,53.01 L477.61,53.62 L478.03,54.28 Z" fill="none" stroke="#707880" stroke-width="0.35" stroke-opacity="0.44" transform="rotate(-38 469.5 55.0)"/>
<path d="M479.51,55.00 L479.42,55.83 L479.06,56.63 L478.48,57.37 L477.76,58.04 L476.96,58.65 L476.09,59.20 L475.15,59.70 L474.14,60.13 L473.04,60.45 L471.87,60.65 L470.68,60.71 L469.50,60.64 L468.37,60.49 L467.28,60.29 L466.20,60.07 L465.11,59.85 L463.99,59.58 L462.87,59.23 L461.81,58.76 L460.91,58.16 L460.22,57.45 L459.80,56.66 L459.65,55.83 L459.72,55.00 L459.96,54.20 L460.35,53.44 L460.85,52.71 L461.45,52.04 L462.17,51.42 L463.00,50.86 L463.92,50.37 L464.93,49.95 L466.00,49.61 L467.13,49.35 L468.30,49.18 L469.50,49.11 L470.71,49.15 L471.88,49.33 L472.99,49.62 L474.02,50.01 L474.95,50.47 L475.82,50.97 L476.65,51.50 L477.45,52.07 L478.21,52.70 L478.85,53.40 L479.31,54.18 Z" fill="none" stroke="#707880" stroke-width="0.35" stroke-opacity="0.44" transform="rotate(-38 469.5 55.0)"/>
<path d="M480.78,55.00 L480.64,55.93 L480.20,56.83 L479.53,57.65 L478.72,58.39 L477.83,59.07 L476.87,59.70 L475.83,60.26 L474.69,60.74 L473.46,61.10 L472.15,61.31 L470.82,61.38 L469.50,61.31 L468.23,61.15 L467.00,60.96 L465.77,60.75 L464.51,60.51 L463.22,60.22 L461.94,59.82 L460.76,59.28 L459.76,58.59 L459.03,57.76 L458.60,56.86 L458.46,55.93 L458.56,55.00 L458.85,54.11 L459.28,53.25 L459.83,52.45 L460.50,51.69 L461.29,50.99 L462.21,50.36 L463.24,49.80 L464.37,49.33 L465.57,48.95 L466.83,48.65 L468.15,48.45 L469.50,48.37 L470.86,48.43 L472.18,48.63 L473.42,48.96 L474.58,49.39 L475.64,49.90 L476.64,50.45 L477.60,51.04 L478.53,51.68 L479.39,52.39 L480.11,53.19 L480.60,54.07 Z" fill="none" stroke="#707880" stroke-width="0.35" stroke-opacity="0.44" transform="rotate(-38 469.5 55.0)"/>
<path d="M482.04,55.00 L481.83,56.03 L481.31,57.02 L480.56,57.92 L479.66,58.74 L478.69,59.49 L477.63,60.19 L476.50,60.81 L475.24,61.34 L473.88,61.74 L472.43,61.97 L470.95,62.04 L469.50,61.98 L468.09,61.83 L466.71,61.65 L465.31,61.44 L463.88,61.20 L462.42,60.88 L460.99,60.42 L459.69,59.80 L458.61,59.01 L457.85,58.08 L457.42,57.06 L457.30,56.02 L457.43,55.00 L457.75,54.01 L458.22,53.07 L458.82,52.18 L459.55,51.34 L460.42,50.56 L461.43,49.86 L462.57,49.24 L463.81,48.71 L465.13,48.28 L466.53,47.94 L468.00,47.72 L469.50,47.64 L471.01,47.70 L472.47,47.93 L473.86,48.30 L475.14,48.77 L476.34,49.32 L477.47,49.92 L478.57,50.56 L479.63,51.27 L480.59,52.07 L481.38,52.97 L481.88,53.96 Z" fill="none" stroke="#707880" stroke-width="0.35" stroke-opacity="0.44" transform="rotate(-38 469.5 55.0)"/>
<path d="M483.27,55.00 L483.00,56.13 L482.39,57.20 L481.56,58.18 L480.59,59.08 L479.53,59.91 L478.40,60.67 L477.16,61.36 L475.79,61.94 L474.29,62.37 L472.71,62.63 L471.09,62.71 L469.50,62.66 L467.95,62.52 L466.41,62.35 L464.85,62.16 L463.24,61.91 L461.61,61.55 L460.03,61.04 L458.61,60.33 L457.47,59.43 L456.68,58.38 L456.26,57.26 L456.17,56.12 L456.33,55.00 L456.68,53.92 L457.18,52.90 L457.82,51.92 L458.61,50.99 L459.55,50.13 L460.65,49.36 L461.89,48.68 L463.24,48.09 L464.70,47.61 L466.24,47.23 L467.85,46.99 L469.50,46.90 L471.16,46.98 L472.77,47.23 L474.29,47.63 L475.71,48.14 L477.05,48.73 L478.32,49.38 L479.56,50.08 L480.75,50.86 L481.81,51.75 L482.65,52.75 L483.16,53.85 Z" fill="none" stroke="#707880" stroke-width="0.35" stroke-opacity="0.44" transform="rotate(-38 469.5 55.0)"/>
<path d="M484.48,55.00 L484.13,56.23 L483.45,57.38 L482.54,58.44 L481.50,59.41 L480.37,60.32 L479.16,61.16 L477.82,61.91 L476.33,62.54 L474.70,63.01 L472.98,63.28 L471.23,63.38 L469.50,63.34 L467.80,63.23 L466.10,63.08 L464.37,62.90 L462.58,62.64 L460.78,62.25 L459.06,61.66 L457.54,60.85 L456.35,59.84 L455.54,58.69 L455.13,57.45 L455.06,56.21 L455.25,55.00 L455.62,53.84 L456.15,52.72 L456.83,51.65 L457.67,50.65 L458.68,49.71 L459.87,48.86 L461.21,48.11 L462.68,47.46 L464.26,46.93 L465.94,46.52 L467.69,46.25 L469.50,46.16 L471.31,46.25 L473.06,46.52 L474.73,46.96 L476.29,47.51 L477.77,48.13 L479.19,48.82 L480.57,49.58 L481.88,50.44 L483.03,51.43 L483.91,52.54 L484.41,53.75 Z" fill="none" stroke="#707880" stroke-width="0.35" stroke-opacity="0.28" transform="rotate(-38 469.5 55.0)"/>
<path d="M485.66,55.00 L485.23,56.32 L484.47,57.56 L483.49,58.69 L482.39,59.74 L481.20,60.72 L479.91,61.64 L478.48,62.46 L476.88,63.14 L475.12,63.64 L473.26,63.94 L471.37,64.06 L469.50,64.04 L467.65,63.96 L465.79,63.83 L463.87,63.66 L461.90,63.39 L459.93,62.95 L458.08,62.28 L456.47,61.37 L455.24,60.25 L454.43,58.98 L454.04,57.64 L453.99,56.30 L454.20,55.00 L454.59,53.75 L455.14,52.55 L455.84,51.39 L456.73,50.30 L457.81,49.28 L459.08,48.36 L460.52,47.54 L462.10,46.83 L463.81,46.25 L465.63,45.80 L467.54,45.51 L469.50,45.42 L471.46,45.52 L473.36,45.82 L475.17,46.28 L476.87,46.86 L478.50,47.53 L480.07,48.26 L481.60,49.08 L483.03,50.02 L484.26,51.10 L485.17,52.32 L485.65,53.64 Z" fill="none" stroke="#707880" stroke-width="0.35" stroke-opacity="0.28" transform="rotate(-38 469.5 55.0)"/>
<path d="M486.80,55.00 L486.30,56.41 L485.46,57.73 L484.43,58.94 L483.27,60.07 L482.03,61.13 L480.67,62.12 L479.14,63.01 L477.42,63.74 L475.53,64.28 L473.54,64.61 L471.51,64.75 L469.50,64.76 L467.50,64.70 L465.46,64.60 L463.37,64.44 L461.21,64.15 L459.08,63.66 L457.10,62.91 L455.42,61.89 L454.15,60.65 L453.35,59.26 L452.98,57.82 L452.95,56.39 L453.17,55.00 L453.57,53.66 L454.13,52.37 L454.86,51.13 L455.79,49.96 L456.94,48.86 L458.29,47.86 L459.83,46.97 L461.53,46.20 L463.37,45.56 L465.33,45.08 L467.39,44.77 L469.50,44.67 L471.61,44.79 L473.66,45.11 L475.61,45.60 L477.46,46.21 L479.24,46.91 L480.97,47.69 L482.64,48.57 L484.18,49.60 L485.49,50.78 L486.41,52.11 L486.86,53.54 Z" fill="none" stroke="#707880" stroke-width="0.35" stroke-opacity="0.28" transform="rotate(-38 469.5 55.0)"/>
<g transform="rotate(-38 469.5 55.0)"><circle cx="471.2" cy="62.3" r="0.45" fill="#ffffff" opacity="0.45"/><circle cx="457.9" cy="54.4" r="0.45" fill="#ffffff" opacity="0.45"/><circle cx="466.0" cy="56.4" r="0.45" fill="#ffffff" opacity="0.45"/><circle cx="476.9" cy="49.6" r="0.4" fill="#555" opacity="0.35"/><circle cx="469.7" cy="51.7" r="0.4" fill="#555" opacity="0.35"/><circle cx="468.6" cy="52.0" r="0.4" fill="#555" opacity="0.35"/><circle cx="464.6" cy="57.5" r="0.4" fill="#555" opacity="0.35"/><circle cx="457.2" cy="51.7" r="0.45" fill="#ffffff" opacity="0.45"/><circle cx="470.1" cy="52.7" r="0.45" fill="#ffffff" opacity="0.45"/><circle cx="468.2" cy="55.9" r="0.4" fill="#555" opacity="0.35"/><circle cx="471.4" cy="60.2" r="0.4" fill="#555" opacity="0.35"/><circle cx="456.7" cy="59.1" r="0.4" fill="#555" opacity="0.35"/><circle cx="477.4" cy="49.8" r="0.4" fill="#555" opacity="0.35"/><circle cx="473.8" cy="52.1" r="0.4" fill="#555" opacity="0.35"/><circle cx="462.3" cy="62.1" r="0.4" fill="#555" opacity="0.35"/><circle cx="471.9" cy="52.0" r="0.45" fill="#ffffff" opacity="0.45"/><circle cx="468.3" cy="45.6" r="0.4" fill="#555" opacity="0.35"/><circle cx="480.9" cy="57.0" r="0.45" fill="#ffffff" opacity="0.45"/><circle cx="456.5" cy="52.4" r="0.45" fill="#ffffff" opacity="0.45"/><circle cx="480.6" cy="51.4" r="0.45" fill="#ffffff" opacity="0.45"/><circle cx="473.1" cy="61.1" r="0.4" fill="#555" opacity="0.35"/><circle cx="465.0" cy="53.4" r="0.45" fill="#ffffff" opacity="0.45"/><circle cx="480.0" cy="60.5" r="0.45" fill="#ffffff" opacity="0.45"/><circle cx="461.8" cy="53.3" r="0.4" fill="#555" opacity="0.35"/><circle cx="465.3" cy="57.5" r="0.4" fill="#555" opacity="0.35"/><circle cx="457.2" cy="53.1" r="0.4" fill="#555" opacity="0.35"/><circle cx="471.2" cy="54.6" r="0.45" fill="#ffffff" opacity="0.45"/><circle cx="475.8" cy="60.6" r="0.4" fill="#555" opacity="0.35"/><circle cx="470.4" cy="53.3" r="0.45" fill="#ffffff" opacity="0.45"/><circle cx="474.7" cy="47.7" r="0.45" fill="#ffffff" opacity="0.45"/><circle cx="463.5" cy="55.6" r="0.4" fill="#555" opacity="0.35"/><circle cx="458.4" cy="60.6" r="0.4" fill="#555" opacity="0.35"/><circle cx="477.2" cy="57.6" r="0.45" fill="#ffffff" opacity="0.45"/><circle cx="478.7" cy="50.4" r="0.45" fill="#ffffff" opacity="0.45"/><circle cx="473.9" cy="60.1" r="0.45" fill="#ffffff" opacity="0.45"/><circle cx="461.1" cy="52.2" r="0.45" fill="#ffffff" opacity="0.45"/><circle cx="481.1" cy="55.3" r="0.45" fill="#ffffff" opacity="0.45"/><circle cx="479.7" cy="55.8" r="0.4" fill="#555" opacity="0.35"/><circle cx="475.1" cy="56.0" r="0.4" fill="#555" opacity="0.35"/><circle cx="468.4" cy="60.0" r="0.45" fill="#ffffff" opacity="0.45"/><circle cx="468.6" cy="62.3" r="0.45" fill="#ffffff" opacity="0.45"/><circle cx="484.1" cy="52.4" r="0.45" fill="#ffffff" opacity="0.45"/><circle cx="457.1" cy="51.8" r="0.4" fill="#555" opacity="0.35"/><circle cx="471.3" cy="47.4" r="0.4" fill="#555" opacity="0.35"/><circle cx="464.2" cy="58.9" r="0.4" fill="#555" opacity="0.35"/><circle cx="479.8" cy="48.3" r="0.4" fill="#555" opacity="0.35"/><circle cx="465.1" cy="63.0" r="0.4" fill="#555" opacity="0.35"/><circle cx="457.4" cy="54.6" r="0.45" fill="#ffffff" opacity="0.45"/><circle cx="460.3" cy="53.1" r="0.45" fill="#ffffff" opacity="0.45"/><circle cx="465.0" cy="59.7" r="0.4" fill="#555" opacity="0.35"/><circle cx="460.4" cy="55.7" r="0.45" fill="#ffffff" opacity="0.45"/><circle cx="470.4" cy="60.7" r="0.45" fill="#ffffff" opacity="0.45"/><circle cx="483.7" cy="55.4" r="0.45" fill="#ffffff" opacity="0.45"/><circle cx="458.7" cy="57.5" r="0.45" fill="#ffffff" opacity="0.45"/><circle cx="471.4" cy="57.2" r="0.45" fill="#ffffff" opacity="0.45"/><circle cx="464.8" cy="62.7" r="0.4" fill="#555" opacity="0.35"/><circle cx="477.7" cy="52.8" r="0.4" fill="#555" opacity="0.35"/><circle cx="465.8" cy="53.6" r="0.45" fill="#ffffff" opacity="0.45"/><circle cx="456.3" cy="50.3" r="0.45" fill="#ffffff" opacity="0.45"/><circle cx="471.0" cy="48.7" r="0.4" fill="#555" opacity="0.35"/><circle cx="479.1" cy="57.8" r="0.4" fill="#555" opacity="0.35"/><circle cx="468.3" cy="59.9" r="0.45" fill="#ffffff" opacity="0.45"/><circle cx="473.5" cy="59.3" r="0.4" fill="#555" opacity="0.35"/><circle cx="471.4" cy="61.0" r="0.45" fill="#ffffff" opacity="0.45"/><circle cx="458.2" cy="49.6" r="0.4" fill="#555" opacity="0.35"/><circle cx="473.8" cy="62.8" r="0.4" fill="#555" opacity="0.35"/><circle cx="466.1" cy="53.4" r="0.4" fill="#555" opacity="0.35"/><circle cx="475.8" cy="51.0" r="0.45" fill="#ffffff" opacity="0.45"/><circle cx="473.7" cy="61.6" r="0.4" fill="#555" opacity="0.35"/><circle cx="460.2" cy="47.8" r="0.45" fill="#ffffff" opacity="0.45"/><circle cx="463.4" cy="62.4" r="0.4" fill="#555" opacity="0.35"/><circle cx="459.1" cy="59.5" r="0.45" fill="#ffffff" opacity="0.45"/><circle cx="478.7" cy="57.2" r="0.45" fill="#ffffff" opacity="0.45"/><circle cx="463.3" cy="51.0" r="0.45" fill="#ffffff" opacity="0.45"/><circle cx="463.2" cy="52.2" r="0.45" fill="#ffffff" opacity="0.45"/><circle cx="484.1" cy="55.8" r="0.4" fill="#555" opacity="0.35"/><circle cx="473.1" cy="54.8" r="0.4" fill="#555" opacity="0.35"/><circle cx="468.1" cy="49.5" r="0.45" fill="#ffffff" opacity="0.45"/><circle cx="472.7" cy="58.0" r="0.4" fill="#555" opacity="0.35"/><circle cx="481.1" cy="59.7" r="0.45" fill="#ffffff" opacity="0.45"/><circle cx="458.2" cy="53.2" r="0.4" fill="#555" opacity="0.35"/><circle cx="463.0" cy="48.7" r="0.45" fill="#ffffff" opacity="0.45"/><circle cx="469.1" cy="50.1" r="0.4" fill="#555" opacity="0.35"/><circle cx="470.6" cy="46.5" r="0.45" fill="#ffffff" opacity="0.45"/><circle cx="471.6" cy="45.5" r="0.45" fill="#ffffff" opacity="0.45"/><circle cx="467.6" cy="61.9" r="0.4" fill="#555" opacity="0.35"/><circle cx="470.5" cy="55.7" r="0.45" fill="#ffffff" opacity="0.45"/><circle cx="462.0" cy="47.9" r="0.45" fill="#ffffff" opacity="0.45"/><circle cx="476.7" cy="54.7" r="0.4" fill="#555" opacity="0.35"/><circle cx="471.6" cy="55.9" r="0.45" fill="#ffffff" opacity="0.45"/><circle cx="479.5" cy="57.5" r="0.4" fill="#555" opacity="0.35"/><circle cx="475.6" cy="63.5" r="0.45" fill="#ffffff" opacity="0.45"/><circle cx="473.3" cy="58.3" r="0.4" fill="#555" opacity="0.35"/><circle cx="474.9" cy="53.2" r="0.45" fill="#ffffff" opacity="0.45"/><circle cx="470.8" cy="50.3" r="0.4" fill="#555" opacity="0.35"/><circle cx="457.4" cy="55.1" r="0.45" fill="#ffffff" opacity="0.45"/><circle cx="472.7" cy="48.8" r="0.45" fill="#ffffff" opacity="0.45"/><circle cx="473.6" cy="53.2" r="0.4" fill="#555" opacity="0.35"/><circle cx="480.7" cy="58.1" r="0.45" fill="#ffffff" opacity="0.45"/><circle cx="471.9" cy="53.2" r="0.4" fill="#555" opacity="0.35"/><circle cx="457.2" cy="60.0" r="0.4" fill="#555" opacity="0.35"/><circle cx="464.5" cy="51.7" r="0.45" fill="#ffffff" opacity="0.45"/><circle cx="468.7" cy="61.4" r="0.45" fill="#ffffff" opacity="0.45"/><circle cx="473.3" cy="63.1" r="0.4" fill="#555" opacity="0.35"/><circle cx="465.0" cy="64.2" r="0.45" fill="#ffffff" opacity="0.45"/><circle cx="464.0" cy="53.4" r="0.4" fill="#555" opacity="0.35"/><circle cx="474.9" cy="51.3" r="0.4" fill="#555" opacity="0.35"/><circle cx="473.1" cy="50.4" r="0.45" fill="#ffffff" opacity="0.45"/><circle cx="455.2" cy="55.8" r="0.45" fill="#ffffff" opacity="0.45"/><circle cx="464.7" cy="48.2" r="0.45" fill="#ffffff" opacity="0.45"/><circle cx="457.0" cy="50.7" r="0.45" fill="#ffffff" opacity="0.45"/><circle cx="476.3" cy="51.1" r="0.4" fill="#555" opacity="0.35"/><circle cx="473.7" cy="51.9" r="0.4" fill="#555" opacity="0.35"/><circle cx="477.8" cy="54.8" r="0.45" fill="#ffffff" opacity="0.45"/><circle cx="481.0" cy="61.2" r="0.45" fill="#ffffff" opacity="0.45"/><circle cx="474.5" cy="53.0" r="0.4" fill="#555" opacity="0.35"/><circle cx="474.6" cy="57.3" r="0.4" fill="#555" opacity="0.35"/><circle cx="477.0" cy="58.0" r="0.4" fill="#555" opacity="0.35"/><circle cx="466.5" cy="46.1" r="0.4" fill="#555" opacity="0.35"/><circle cx="476.7" cy="56.0" r="0.4" fill="#555" opacity="0.35"/></g>
<ellipse cx="467.5" cy="56.5" rx="4.0" ry="2.0" fill="#ffffff" opacity="0.7" filter="url(#bl)" transform="rotate(-38 467.5 56.5)"/>
</g>
<rect x="430.1" y="27.0" width="24.0" height="48.5" fill="none" stroke="#c8182a" stroke-width="1.5" />
<rect x="454.3" y="27.0" width="36.6" height="48.5" fill="none" stroke="#c8182a" stroke-width="1.5" />
<text x="430.8" y="87.6" font-size="8.4" textLength="22.2" lengthAdjust="spacingAndGlyphs" >Tconv</text>
<text x="464.5" y="86.4" font-size="8.4" textLength="16.7" lengthAdjust="spacingAndGlyphs" >Treg</text>
<text x="404.4" y="42.0" font-size="7.0" textLength="10.8" lengthAdjust="spacingAndGlyphs" >10<tspan font-size="4.2" dy="-2.6">4</tspan></text>
<text x="404.4" y="66.3" font-size="7.0" textLength="10.8" lengthAdjust="spacingAndGlyphs" >10<tspan font-size="4.2" dy="-2.6">3</tspan></text>
<text x="409.2" y="95.5" font-size="7.0" >0</text>
<text x="439.6" y="118.2" font-size="7.0" >0</text>
<text x="450.2" y="118.2" font-size="7.0" textLength="9.0" lengthAdjust="spacingAndGlyphs" >10<tspan font-size="4.2" dy="-2.6">3</tspan></text>
<text x="477.8" y="118.2" font-size="7.0" textLength="9.0" lengthAdjust="spacingAndGlyphs" >10<tspan font-size="4.2" dy="-2.6">4</tspan></text>
<line x1="399.9" y1="86.2" x2="399.9" y2="27.9" stroke="#111" stroke-width="1.7" />
<polygon points="399.9,21.4 395.9,28.4 403.9,28.4" fill="#111"/>
<text x="403.2" y="99.4" font-size="8.4" font-weight="bold" text-anchor="middle" transform="rotate(-90 403.2 99.4)" >CD4</text>
<text x="418.0" y="128.6" font-size="8.4" font-weight="bold" textLength="28.2" lengthAdjust="spacingAndGlyphs" >FOXP3</text>
<line x1="449.0" y1="125.5" x2="500.4" y2="125.5" stroke="#111" stroke-width="1.7" />
<polygon points="507.9,125.5 499.9,121.7 499.9,129.3" fill="#111"/>
<text x="1.8" y="153.8" font-size="12.4" font-weight="bold" >C</text>
<rect x="174.2" y="148.6" width="15.2" height="8.4" fill="#f8b4b9" stroke="#1a1a1a" stroke-width="1.0" />
<text x="195.6" y="156.6" font-size="8.2" textLength="18.8" lengthAdjust="spacingAndGlyphs" >CD8<tspan font-size="5" dy="-3">+</tspan></text>
<rect x="221.2" y="148.6" width="15.2" height="8.4" fill="#f2454f" stroke="#1a1a1a" stroke-width="1.0" />
<text x="243.7" y="156.6" font-size="8.2" textLength="22.0" lengthAdjust="spacingAndGlyphs" >Tconv</text>
<rect x="272.6" y="148.6" width="15.4" height="8.4" fill="#e2000f" stroke="#2a0000" stroke-width="1.0" />
<text x="292.9" y="156.6" font-size="8.2" textLength="16.8" lengthAdjust="spacingAndGlyphs" >Treg</text>
<path d="M7.40,223.00 L14.00,222.80 L15.00,222.67 L16.00,222.00 L17.00,219.60 L18.00,218.50 L19.00,215.76 L20.00,213.00 L20.75,210.12 L21.50,208.00 L22.25,205.40 L23.00,203.00 L23.60,199.95 L24.20,198.00 L24.70,195.08 L25.20,193.50 L25.70,193.14 L26.20,191.40 L26.70,191.69 L27.20,192.50 L27.70,192.28 L28.20,191.00 L28.85,190.27 L29.50,190.60 L30.00,191.53 L30.50,192.50 L31.00,191.49 L31.50,191.50 L32.00,192.40 L32.50,193.50 L33.00,195.30 L33.50,198.00 L34.00,200.01 L34.50,201.50 L35.00,202.76 L35.50,205.00 L36.15,207.33 L36.80,209.00 L37.50,210.25 L38.20,211.50 L39.10,212.61 L40.00,214.80 L41.00,215.95 L42.00,217.50 L43.40,218.54 L44.80,219.60 L46.40,220.54 L48.00,220.30 L50.00,220.34 L52.00,220.80 L54.00,220.65 L56.00,221.30 L58.00,222.20 L60.00,221.80 L62.00,222.59 L64.00,222.30 L66.00,222.87 L68.00,222.80 L95.00,223.00 Z" fill="#fcdadd" fill-opacity="1" stroke="none"/>
<path d="M7.40,223.00 L14.00,222.80 L15.00,222.67 L16.00,222.00 L17.00,219.60 L18.00,218.50 L19.00,215.76 L20.00,213.00 L20.75,210.12 L21.50,208.00 L22.25,205.40 L23.00,203.00 L23.60,199.95 L24.20,198.00 L24.70,195.08 L25.20,193.50 L25.70,193.14 L26.20,191.40 L26.70,191.69 L27.20,192.50 L27.70,192.28 L28.20,191.00 L28.85,190.27 L29.50,190.60 L30.00,191.53 L30.50,192.50 L31.00,191.49 L31.50,191.50 L32.00,192.40 L32.50,193.50 L33.00,195.30 L33.50,198.00 L34.00,200.01 L34.50,201.50 L35.00,202.76 L35.50,205.00 L36.15,207.33 L36.80,209.00 L37.50,210.25 L38.20,211.50 L39.10,212.61 L40.00,214.80 L41.00,215.95 L42.00,217.50 L43.40,218.54 L44.80,219.60 L46.40,220.54 L48.00,220.30 L50.00,220.34 L52.00,220.80 L54.00,220.65 L56.00,221.30 L58.00,222.20 L60.00,221.80 L62.00,222.59 L64.00,222.30 L66.00,222.87 L68.00,222.80 L95.00,223.00" fill="none" stroke="#f4aab0" stroke-width="1.0" stroke-linejoin="round"/>
<path d="M7.40,245.00 L10.00,244.80 L11.75,243.58 L13.50,243.00 L15.25,241.65 L17.00,241.20 L18.50,239.77 L20.00,239.00 L21.00,236.65 L22.00,235.50 L22.75,232.61 L23.50,231.00 L24.05,228.01 L24.60,225.00 L25.10,223.47 L25.60,222.20 L26.30,221.43 L27.00,220.50 L27.50,221.06 L28.00,222.00 L28.50,222.31 L29.00,224.00 L29.50,222.26 L30.00,220.00 L30.60,218.96 L31.20,217.50 L31.75,218.81 L32.30,220.00 L33.00,222.00 L33.50,221.32 L34.00,220.50 L34.50,221.02 L35.00,221.00 L35.50,222.68 L36.00,223.00 L36.50,224.12 L37.00,224.20 L37.75,225.40 L38.50,226.00 L39.10,226.36 L39.70,227.00 L40.25,228.75 L40.80,231.00 L41.25,231.89 L41.70,233.00 L42.20,234.46 L42.70,234.60 L43.60,234.24 L44.50,234.20 L45.50,233.44 L46.50,233.00 L47.50,232.62 L48.50,232.50 L49.25,231.75 L50.00,232.00 L50.75,231.95 L51.50,230.50 L52.50,229.16 L53.50,229.20 L54.25,228.85 L55.00,228.20 L55.50,228.30 L56.00,227.20 L56.75,227.26 L57.50,228.00 L58.25,228.41 L59.00,228.50 L59.60,228.03 L60.20,227.90 L60.85,227.69 L61.50,228.20 L62.20,227.20 L62.85,226.18 L63.50,226.00 L64.20,224.71 L64.90,224.50 L65.45,223.73 L66.00,222.00 L66.50,221.65 L67.00,220.50 L67.50,221.82 L68.00,222.00 L68.50,221.97 L69.00,223.20 L69.75,223.17 L70.50,222.60 L71.05,222.65 L71.60,223.20 L72.10,224.80 L72.60,226.00 L73.10,227.67 L73.60,229.20 L74.10,230.84 L74.60,233.00 L75.15,235.26 L75.70,236.20 L76.35,237.40 L77.00,240.00 L77.50,241.84 L78.00,243.00 L78.50,244.39 L79.00,244.80 L80.00,244.91 L81.00,245.00 L95.00,245.00 Z" fill="#f8adb2" fill-opacity="1" stroke="none"/>
<path d="M7.40,245.00 L10.00,244.80 L11.75,243.58 L13.50,243.00 L15.25,241.65 L17.00,241.20 L18.50,239.77 L20.00,239.00 L21.00,236.65 L22.00,235.50 L22.75,232.61 L23.50,231.00 L24.05,228.01 L24.60,225.00 L25.10,223.47 L25.60,222.20 L26.30,221.43 L27.00,220.50 L27.50,221.06 L28.00,222.00 L28.50,222.31 L29.00,224.00 L29.50,222.26 L30.00,220.00 L30.60,218.96 L31.20,217.50 L31.75,218.81 L32.30,220.00 L33.00,222.00 L33.50,221.32 L34.00,220.50 L34.50,221.02 L35.00,221.00 L35.50,222.68 L36.00,223.00 L36.50,224.12 L37.00,224.20 L37.75,225.40 L38.50,226.00 L39.10,226.36 L39.70,227.00 L40.25,228.75 L40.80,231.00 L41.25,231.89 L41.70,233.00 L42.20,234.46 L42.70,234.60 L43.60,234.24 L44.50,234.20 L45.50,233.44 L46.50,233.00 L47.50,232.62 L48.50,232.50 L49.25,231.75 L50.00,232.00 L50.75,231.95 L51.50,230.50 L52.50,229.16 L53.50,229.20 L54.25,228.85 L55.00,228.20 L55.50,228.30 L56.00,227.20 L56.75,227.26 L57.50,228.00 L58.25,228.41 L59.00,228.50 L59.60,228.03 L60.20,227.90 L60.85,227.69 L61.50,228.20 L62.20,227.20 L62.85,226.18 L63.50,226.00 L64.20,224.71 L64.90,224.50 L65.45,223.73 L66.00,222.00 L66.50,221.65 L67.00,220.50 L67.50,221.82 L68.00,222.00 L68.50,221.97 L69.00,223.20 L69.75,223.17 L70.50,222.60 L71.05,222.65 L71.60,223.20 L72.10,224.80 L72.60,226.00 L73.10,227.67 L73.60,229.20 L74.10,230.84 L74.60,233.00 L75.15,235.26 L75.70,236.20 L76.35,237.40 L77.00,240.00 L77.50,241.84 L78.00,243.00 L78.50,244.39 L79.00,244.80 L80.00,244.91 L81.00,245.00 L95.00,245.00" fill="none" stroke="#e02634" stroke-width="1.2" stroke-linejoin="round"/>
<path d="M7.40,266.90 L16.00,266.80 L18.00,266.68 L20.00,266.30 L21.50,266.44 L23.00,265.20 L24.50,264.33 L26.00,264.20 L28.00,264.18 L30.00,263.80 L32.00,264.24 L34.00,264.00 L36.00,264.18 L38.00,264.70 L40.00,265.65 L42.00,266.00 L43.50,265.95 L45.00,266.20 L46.50,265.94 L48.00,265.60 L49.50,265.06 L51.00,264.20 L52.25,263.15 L53.50,261.60 L54.75,260.65 L56.00,260.20 L56.75,259.93 L57.50,259.30 L58.25,258.21 L59.00,257.00 L59.60,255.11 L60.20,254.00 L60.70,252.91 L61.20,251.50 L61.70,250.37 L62.20,249.90 L63.10,249.77 L64.00,248.50 L64.80,247.46 L65.60,246.50 L66.10,245.56 L66.60,244.00 L67.10,242.93 L67.60,241.80 L68.20,239.97 L68.80,238.20 L69.35,236.21 L69.90,235.00 L70.55,234.80 L71.20,235.60 L71.75,236.95 L72.30,237.10 L72.80,238.59 L73.30,240.00 L73.80,241.93 L74.30,243.80 L75.00,247.50 L75.70,251.90 L76.40,256.00 L77.00,260.00 L77.50,261.54 L78.00,263.00 L78.50,264.29 L79.00,264.70 L79.75,265.08 L80.50,266.20 L81.25,266.09 L82.00,266.90 L95.00,266.90 Z" fill="#f08890" fill-opacity="1" stroke="none"/>
<path d="M7.40,266.90 L16.00,266.80 L18.00,266.68 L20.00,266.30 L21.50,266.44 L23.00,265.20 L24.50,264.33 L26.00,264.20 L28.00,264.18 L30.00,263.80 L32.00,264.24 L34.00,264.00 L36.00,264.18 L38.00,264.70 L40.00,265.65 L42.00,266.00 L43.50,265.95 L45.00,266.20 L46.50,265.94 L48.00,265.60 L49.50,265.06 L51.00,264.20 L52.25,263.15 L53.50,261.60 L54.75,260.65 L56.00,260.20 L56.75,259.93 L57.50,259.30 L58.25,258.21 L59.00,257.00 L59.60,255.11 L60.20,254.00 L60.70,252.91 L61.20,251.50 L61.70,250.37 L62.20,249.90 L63.10,249.77 L64.00,248.50 L64.80,247.46 L65.60,246.50 L66.10,245.56 L66.60,244.00 L67.10,242.93 L67.60,241.80 L68.20,239.97 L68.80,238.20 L69.35,236.21 L69.90,235.00 L70.55,234.80 L71.20,235.60 L71.75,236.95 L72.30,237.10 L72.80,238.59 L73.30,240.00 L73.80,241.93 L74.30,243.80 L75.00,247.50 L75.70,251.90 L76.40,256.00 L77.00,260.00 L77.50,261.54 L78.00,263.00 L78.50,264.29 L79.00,264.70 L79.75,265.08 L80.50,266.20 L81.25,266.09 L82.00,266.90 L95.00,266.90" fill="none" stroke="#b00a18" stroke-width="1.4" stroke-linejoin="round"/>
<rect x="7.4" y="179.2" width="87.6" height="87.80000000000001" fill="none" stroke="#c4c4c4" stroke-width="0.9" />
<line x1="43.0" y1="179.2" x2="43.0" y2="267.0" stroke="#151515" stroke-width="1.25" stroke-dasharray="2.2,1.5"/>
<line x1="24" y1="267" x2="24" y2="268.3" stroke="#999" stroke-width="0.4" />
<line x1="29" y1="267" x2="29" y2="268.3" stroke="#999" stroke-width="0.4" />
<line x1="31" y1="267" x2="31" y2="268.3" stroke="#999" stroke-width="0.4" />
<line x1="33" y1="267" x2="33" y2="268.3" stroke="#999" stroke-width="0.4" />
<line x1="38" y1="267" x2="38" y2="268.3" stroke="#999" stroke-width="0.4" />
<line x1="52" y1="267" x2="52" y2="268.3" stroke="#999" stroke-width="0.4" />
<line x1="58" y1="267" x2="58" y2="268.3" stroke="#999" stroke-width="0.4" />
<line x1="62.5" y1="267" x2="62.5" y2="268.3" stroke="#999" stroke-width="0.4" />
<line x1="70" y1="267" x2="70" y2="268.3" stroke="#999" stroke-width="0.4" />
<line x1="80" y1="267" x2="80" y2="268.3" stroke="#999" stroke-width="0.4" />
<line x1="83.5" y1="267" x2="83.5" y2="268.3" stroke="#999" stroke-width="0.4" />
<text x="31.1" y="276.2" font-size="7.0" text-anchor="middle" >0</text>
<text x="58.0" y="275.6" font-size="7.0" textLength="9.6" lengthAdjust="spacingAndGlyphs" >10<tspan font-size="4.2" dy="-2.6">4</tspan></text>
<text x="79.2" y="275.6" font-size="7.0" textLength="9.6" lengthAdjust="spacingAndGlyphs" >10<tspan font-size="4.2" dy="-2.6">5</tspan></text>
<text x="8.2" y="285.2" font-size="8.2" font-weight="bold" textLength="36.4" lengthAdjust="spacingAndGlyphs" >mCTLA-4</text>
<line x1="50.2" y1="283.2" x2="90.1" y2="283.2" stroke="#111" stroke-width="1.7" />
<polygon points="97.6,283.2 89.6,279.59999999999997 89.6,286.8" fill="#111"/>
<path d="M275.50,223.20 L290.00,223.20 L291.50,223.35 L293.00,222.60 L294.00,221.24 L295.00,220.00 L296.00,215.70 L297.00,211.00 L298.00,205.46 L299.00,199.00 L299.75,196.05 L300.50,192.00 L301.05,191.26 L301.60,189.50 L302.10,189.86 L302.60,191.50 L303.10,193.83 L303.60,196.50 L304.30,200.21 L305.00,203.00 L305.75,205.09 L306.50,206.30 L307.25,206.62 L308.00,208.00 L309.00,208.42 L310.00,209.80 L311.00,209.85 L312.00,210.60 L313.00,209.59 L314.00,209.70 L315.00,208.30 L316.00,207.30 L317.00,206.07 L318.00,204.00 L319.00,201.78 L320.00,199.50 L321.00,196.68 L322.00,194.00 L322.75,191.67 L323.50,190.50 L324.25,188.85 L325.00,187.50 L325.75,189.45 L326.50,190.00 L327.05,191.87 L327.60,193.20 L328.30,193.53 L329.00,194.00 L329.75,194.12 L330.50,194.30 L331.25,195.17 L332.00,195.20 L333.00,196.71 L334.00,197.50 L335.00,198.06 L336.00,199.60 L337.00,201.80 L338.00,203.50 L339.00,205.81 L340.00,208.50 L341.00,211.03 L342.00,213.50 L343.00,215.63 L344.00,218.50 L345.20,220.22 L346.40,222.30 L347.70,222.53 L349.00,223.20 L363.50,223.20 Z" fill="#fcdadd" fill-opacity="1" stroke="none"/>
<path d="M275.50,223.20 L290.00,223.20 L291.50,223.35 L293.00,222.60 L294.00,221.24 L295.00,220.00 L296.00,215.70 L297.00,211.00 L298.00,205.46 L299.00,199.00 L299.75,196.05 L300.50,192.00 L301.05,191.26 L301.60,189.50 L302.10,189.86 L302.60,191.50 L303.10,193.83 L303.60,196.50 L304.30,200.21 L305.00,203.00 L305.75,205.09 L306.50,206.30 L307.25,206.62 L308.00,208.00 L309.00,208.42 L310.00,209.80 L311.00,209.85 L312.00,210.60 L313.00,209.59 L314.00,209.70 L315.00,208.30 L316.00,207.30 L317.00,206.07 L318.00,204.00 L319.00,201.78 L320.00,199.50 L321.00,196.68 L322.00,194.00 L322.75,191.67 L323.50,190.50 L324.25,188.85 L325.00,187.50 L325.75,189.45 L326.50,190.00 L327.05,191.87 L327.60,193.20 L328.30,193.53 L329.00,194.00 L329.75,194.12 L330.50,194.30 L331.25,195.17 L332.00,195.20 L333.00,196.71 L334.00,197.50 L335.00,198.06 L336.00,199.60 L337.00,201.80 L338.00,203.50 L339.00,205.81 L340.00,208.50 L341.00,211.03 L342.00,213.50 L343.00,215.63 L344.00,218.50 L345.20,220.22 L346.40,222.30 L347.70,222.53 L349.00,223.20 L363.50,223.20" fill="none" stroke="#f4aab0" stroke-width="1.0" stroke-linejoin="round"/>
<path d="M275.50,245.20 L293.00,245.00 L294.15,243.83 L295.30,243.00 L295.90,239.82 L296.50,238.00 L297.15,233.08 L297.80,229.00 L298.50,224.60 L299.20,220.00 L299.75,217.38 L300.30,216.00 L301.20,214.60 L301.75,215.10 L302.30,216.50 L302.90,218.81 L303.50,220.50 L304.25,222.73 L305.00,225.60 L305.75,227.05 L306.50,229.00 L307.25,229.94 L308.00,231.60 L309.40,232.77 L310.80,233.00 L311.65,233.03 L312.50,234.20 L313.65,234.39 L314.80,234.20 L315.65,233.60 L316.50,232.00 L317.40,230.33 L318.30,229.50 L319.25,228.59 L320.20,227.90 L321.10,227.71 L322.00,226.70 L323.10,226.37 L324.20,225.70 L324.85,224.42 L325.50,223.50 L326.50,221.21 L327.50,220.20 L328.20,219.27 L328.90,218.50 L329.70,218.71 L330.50,219.30 L331.40,218.85 L332.30,217.80 L332.90,216.91 L333.50,216.60 L334.25,216.07 L335.00,215.80 L335.65,216.91 L336.30,217.60 L337.00,218.49 L337.70,218.50 L338.35,219.19 L339.00,220.30 L339.70,221.24 L340.40,222.50 L341.45,223.86 L342.50,225.00 L343.50,227.84 L344.50,229.50 L345.50,231.32 L346.50,234.00 L347.50,237.16 L348.50,239.00 L349.25,241.55 L350.00,243.50 L350.75,244.07 L351.50,245.00 L363.50,245.20 Z" fill="#f8adb2" fill-opacity="1" stroke="none"/>
<path d="M275.50,245.20 L293.00,245.00 L294.15,243.83 L295.30,243.00 L295.90,239.82 L296.50,238.00 L297.15,233.08 L297.80,229.00 L298.50,224.60 L299.20,220.00 L299.75,217.38 L300.30,216.00 L301.20,214.60 L301.75,215.10 L302.30,216.50 L302.90,218.81 L303.50,220.50 L304.25,222.73 L305.00,225.60 L305.75,227.05 L306.50,229.00 L307.25,229.94 L308.00,231.60 L309.40,232.77 L310.80,233.00 L311.65,233.03 L312.50,234.20 L313.65,234.39 L314.80,234.20 L315.65,233.60 L316.50,232.00 L317.40,230.33 L318.30,229.50 L319.25,228.59 L320.20,227.90 L321.10,227.71 L322.00,226.70 L323.10,226.37 L324.20,225.70 L324.85,224.42 L325.50,223.50 L326.50,221.21 L327.50,220.20 L328.20,219.27 L328.90,218.50 L329.70,218.71 L330.50,219.30 L331.40,218.85 L332.30,217.80 L332.90,216.91 L333.50,216.60 L334.25,216.07 L335.00,215.80 L335.65,216.91 L336.30,217.60 L337.00,218.49 L337.70,218.50 L338.35,219.19 L339.00,220.30 L339.70,221.24 L340.40,222.50 L341.45,223.86 L342.50,225.00 L343.50,227.84 L344.50,229.50 L345.50,231.32 L346.50,234.00 L347.50,237.16 L348.50,239.00 L349.25,241.55 L350.00,243.50 L350.75,244.07 L351.50,245.00 L363.50,245.20" fill="none" stroke="#e02634" stroke-width="1.2" stroke-linejoin="round"/>
<path d="M275.50,267.30 L295.00,267.20 L297.50,267.13 L300.00,266.60 L302.50,265.96 L305.00,265.80 L307.50,264.55 L310.00,264.50 L312.00,264.26 L314.00,263.30 L316.00,262.88 L318.00,262.80 L319.50,262.19 L321.00,261.50 L322.90,259.95 L324.80,258.40 L326.40,257.26 L328.00,255.00 L329.50,253.96 L331.00,252.20 L332.25,249.64 L333.50,248.40 L334.25,246.83 L335.00,245.00 L335.50,243.55 L336.00,242.20 L336.95,240.95 L337.90,239.80 L338.45,240.78 L339.00,240.80 L339.80,241.00 L340.30,239.38 L340.80,238.00 L341.60,236.00 L342.10,235.21 L342.60,234.50 L343.50,235.50 L344.00,235.30 L344.50,234.00 L345.00,234.42 L345.50,235.00 L346.05,237.99 L346.60,241.00 L347.50,245.00 L348.40,249.70 L348.90,251.87 L349.40,254.00 L349.85,256.65 L350.30,258.40 L350.90,260.44 L351.50,262.00 L352.15,263.64 L352.80,264.60 L353.75,265.41 L354.70,266.50 L355.85,266.21 L357.00,267.20 L363.50,267.30 Z" fill="#f08890" fill-opacity="1" stroke="none"/>
<path d="M275.50,267.30 L295.00,267.20 L297.50,267.13 L300.00,266.60 L302.50,265.96 L305.00,265.80 L307.50,264.55 L310.00,264.50 L312.00,264.26 L314.00,263.30 L316.00,262.88 L318.00,262.80 L319.50,262.19 L321.00,261.50 L322.90,259.95 L324.80,258.40 L326.40,257.26 L328.00,255.00 L329.50,253.96 L331.00,252.20 L332.25,249.64 L333.50,248.40 L334.25,246.83 L335.00,245.00 L335.50,243.55 L336.00,242.20 L336.95,240.95 L337.90,239.80 L338.45,240.78 L339.00,240.80 L339.80,241.00 L340.30,239.38 L340.80,238.00 L341.60,236.00 L342.10,235.21 L342.60,234.50 L343.50,235.50 L344.00,235.30 L344.50,234.00 L345.00,234.42 L345.50,235.00 L346.05,237.99 L346.60,241.00 L347.50,245.00 L348.40,249.70 L348.90,251.87 L349.40,254.00 L349.85,256.65 L350.30,258.40 L350.90,260.44 L351.50,262.00 L352.15,263.64 L352.80,264.60 L353.75,265.41 L354.70,266.50 L355.85,266.21 L357.00,267.20 L363.50,267.30" fill="none" stroke="#b00a18" stroke-width="1.4" stroke-linejoin="round"/>
<rect x="275.5" y="178.7" width="88.0" height="88.69999999999999" fill="none" stroke="#c4c4c4" stroke-width="0.9" />
<line x1="310.5" y1="178.7" x2="310.5" y2="267.4" stroke="#151515" stroke-width="1.25" stroke-dasharray="2.2,1.5"/>
<line x1="290" y1="267.4" x2="290" y2="268.7" stroke="#999" stroke-width="0.4" />
<line x1="296" y1="267.4" x2="296" y2="268.7" stroke="#999" stroke-width="0.4" />
<line x1="299.3" y1="267.4" x2="299.3" y2="268.7" stroke="#999" stroke-width="0.4" />
<line x1="302" y1="267.4" x2="302" y2="268.7" stroke="#999" stroke-width="0.4" />
<line x1="306" y1="267.4" x2="306" y2="268.7" stroke="#999" stroke-width="0.4" />
<line x1="318" y1="267.4" x2="318" y2="268.7" stroke="#999" stroke-width="0.4" />
<line x1="325" y1="267.4" x2="325" y2="268.7" stroke="#999" stroke-width="0.4" />
<line x1="330.5" y1="267.4" x2="330.5" y2="268.7" stroke="#999" stroke-width="0.4" />
<line x1="338" y1="267.4" x2="338" y2="268.7" stroke="#999" stroke-width="0.4" />
<line x1="346" y1="267.4" x2="346" y2="268.7" stroke="#999" stroke-width="0.4" />
<line x1="352" y1="267.4" x2="352" y2="268.7" stroke="#999" stroke-width="0.4" />
<text x="299.4" y="276.2" font-size="7.0" text-anchor="middle" >0</text>
<text x="326.4" y="275.6" font-size="7.0" textLength="9.6" lengthAdjust="spacingAndGlyphs" >10<tspan font-size="4.2" dy="-2.6">4</tspan></text>
<text x="347.6" y="275.6" font-size="7.0" textLength="9.6" lengthAdjust="spacingAndGlyphs" >10<tspan font-size="4.2" dy="-2.6">5</tspan></text>
<text x="277.0" y="285.6" font-size="8.2" font-weight="bold" textLength="34.0" lengthAdjust="spacingAndGlyphs" >hCTLA-4</text>
<line x1="319.5" y1="283.6" x2="359.7" y2="283.6" stroke="#111" stroke-width="1.7" />
<polygon points="367.2,283.6 359.2,280.0 359.2,287.20000000000005" fill="#111"/>
<line x1="143.0" y1="181.0" x2="143.0" y2="263.2" stroke="#7a7a7a" stroke-width="0.9" />
<line x1="143.0" y1="263.2" x2="250.5" y2="263.2" stroke="#7a7a7a" stroke-width="0.9" />
<line x1="141.2" y1="263.2" x2="143.0" y2="263.2" stroke="#7a7a7a" stroke-width="0.8" />
<text x="140.4" y="265.7" font-size="7.1" text-anchor="end" fill="#2a2a2a" >0</text>
<line x1="141.2" y1="235.79999999999998" x2="143.0" y2="235.79999999999998" stroke="#7a7a7a" stroke-width="0.8" />
<text x="140.4" y="238.29999999999998" font-size="7.1" text-anchor="end" fill="#2a2a2a" >5,000</text>
<line x1="141.2" y1="208.4" x2="143.0" y2="208.4" stroke="#7a7a7a" stroke-width="0.8" />
<text x="140.4" y="210.9" font-size="7.1" text-anchor="end" fill="#2a2a2a" >10,000</text>
<line x1="141.2" y1="181.0" x2="143.0" y2="181.0" stroke="#7a7a7a" stroke-width="0.8" />
<text x="140.4" y="183.5" font-size="7.1" text-anchor="end" fill="#2a2a2a" >15,000</text>
<text x="112.2" y="212.3" font-size="7.2" text-anchor="middle" fill="#222" textLength="46.2" lengthAdjust="spacingAndGlyphs" transform="rotate(-90 112.2 212.3)" >MFI mCTLA-4</text>
<rect x="147.4" y="261.693" width="11.2" height="1.2" fill="#f6c4c8" stroke="#b0b0b0" stroke-width="0.5" />
<line x1="153" y1="261.556" x2="153" y2="261.693" stroke="#aaa" stroke-width="0.5" />
<line x1="153" y1="261.967" x2="153" y2="262.104" stroke="#aaa" stroke-width="0.5" />
<line x1="150.5" y1="261.556" x2="155.5" y2="261.556" stroke="#aaa" stroke-width="0.5" />
<line x1="150.5" y1="262.104" x2="155.5" y2="262.104" stroke="#aaa" stroke-width="0.5" />
<circle cx="149.40" cy="261.83" r="1.5" fill="#fde8ea" stroke="#8e2232" stroke-width="0.6"/>
<circle cx="153.00" cy="261.56" r="1.5" fill="#fde8ea" stroke="#8e2232" stroke-width="0.6"/>
<circle cx="156.60" cy="262.10" r="1.5" fill="#fde8ea" stroke="#8e2232" stroke-width="0.6"/>
<circle cx="151.20" cy="261.67" r="1.5" fill="#fde8ea" stroke="#8e2232" stroke-width="0.6"/>
<circle cx="154.80" cy="261.78" r="1.5" fill="#fde8ea" stroke="#8e2232" stroke-width="0.6"/>
<text x="155.6" y="268.59999999999997" font-size="7.0" text-anchor="end" fill="#2a2a2a" transform="rotate(-45 155.6 268.59999999999997)" >CD8 (S)</text>
<rect x="164.9" y="260.46" width="11.2" height="1.2" fill="#f6c4c8" stroke="#b0b0b0" stroke-width="0.5" />
<line x1="170.5" y1="259.912" x2="170.5" y2="260.46" stroke="#aaa" stroke-width="0.5" />
<line x1="170.5" y1="261.556" x2="170.5" y2="262.104" stroke="#aaa" stroke-width="0.5" />
<line x1="168.0" y1="259.912" x2="173.0" y2="259.912" stroke="#aaa" stroke-width="0.5" />
<line x1="168.0" y1="262.104" x2="173.0" y2="262.104" stroke="#aaa" stroke-width="0.5" />
<circle cx="166.90" cy="261.28" r="1.5" fill="#fde8ea" stroke="#8e2232" stroke-width="0.6"/>
<circle cx="170.50" cy="259.91" r="1.5" fill="#fde8ea" stroke="#8e2232" stroke-width="0.6"/>
<circle cx="174.10" cy="262.10" r="1.5" fill="#fde8ea" stroke="#8e2232" stroke-width="0.6"/>
<circle cx="168.70" cy="260.73" r="1.5" fill="#fde8ea" stroke="#8e2232" stroke-width="0.6"/>
<circle cx="172.30" cy="260.46" r="1.5" fill="#fde8ea" stroke="#8e2232" stroke-width="0.6"/>
<text x="173.1" y="268.59999999999997" font-size="7.0" text-anchor="end" fill="#2a2a2a" transform="rotate(-45 173.1 268.59999999999997)" >CD8(T)</text>
<rect x="182.4" y="260.7477" width="11.2" height="1.2" fill="#f3a0a8" stroke="#b0b0b0" stroke-width="0.5" />
<line x1="188" y1="260.5696" x2="188" y2="260.7477" stroke="#aaa" stroke-width="0.5" />
<line x1="188" y1="261.10389999999995" x2="188" y2="261.282" stroke="#aaa" stroke-width="0.5" />
<line x1="185.5" y1="260.5696" x2="190.5" y2="260.5696" stroke="#aaa" stroke-width="0.5" />
<line x1="185.5" y1="261.282" x2="190.5" y2="261.282" stroke="#aaa" stroke-width="0.5" />
<circle cx="184.40" cy="261.01" r="1.5" fill="#e23040" stroke="#8a1420" stroke-width="0.6"/>
<circle cx="188.00" cy="260.57" r="1.5" fill="#e23040" stroke="#8a1420" stroke-width="0.6"/>
<circle cx="191.60" cy="261.28" r="1.5" fill="#e23040" stroke="#8a1420" stroke-width="0.6"/>
<circle cx="186.20" cy="260.90" r="1.5" fill="#e23040" stroke="#8a1420" stroke-width="0.6"/>
<circle cx="189.80" cy="260.73" r="1.5" fill="#e23040" stroke="#8a1420" stroke-width="0.6"/>
<circle cx="184.40" cy="261.12" r="1.5" fill="#e23040" stroke="#8a1420" stroke-width="0.6"/>
<text x="190.6" y="268.59999999999997" font-size="7.0" text-anchor="end" fill="#2a2a2a" transform="rotate(-45 190.6 268.59999999999997)" >Tconv (S)</text>
<rect x="200.4" y="251.281" width="11.2" height="2.4659999999999798" fill="#f3a0a8" stroke="#b0b0b0" stroke-width="0.5" />
<line x1="206" y1="250.048" x2="206" y2="251.281" stroke="#aaa" stroke-width="0.5" />
<line x1="206" y1="253.74699999999999" x2="206" y2="254.98" stroke="#aaa" stroke-width="0.5" />
<line x1="203.5" y1="250.048" x2="208.5" y2="250.048" stroke="#aaa" stroke-width="0.5" />
<line x1="203.5" y1="254.98" x2="208.5" y2="254.98" stroke="#aaa" stroke-width="0.5" />
<circle cx="202.40" cy="253.88" r="1.5" fill="#e23040" stroke="#8a1420" stroke-width="0.6"/>
<circle cx="206.00" cy="250.60" r="1.5" fill="#e23040" stroke="#8a1420" stroke-width="0.6"/>
<circle cx="209.60" cy="254.98" r="1.5" fill="#e23040" stroke="#8a1420" stroke-width="0.6"/>
<circle cx="204.20" cy="252.24" r="1.5" fill="#e23040" stroke="#8a1420" stroke-width="0.6"/>
<circle cx="207.80" cy="253.34" r="1.5" fill="#e23040" stroke="#8a1420" stroke-width="0.6"/>
<circle cx="202.40" cy="250.05" r="1.5" fill="#e23040" stroke="#8a1420" stroke-width="0.6"/>
<text x="208.6" y="268.59999999999997" font-size="7.0" text-anchor="end" fill="#2a2a2a" transform="rotate(-45 208.6 268.59999999999997)" >Tconv (T)</text>
<rect x="218.4" y="240.184" width="11.2" height="1.2" fill="#f08890" stroke="#b0b0b0" stroke-width="0.5" />
<line x1="224" y1="239.636" x2="224" y2="240.184" stroke="#aaa" stroke-width="0.5" />
<line x1="224" y1="241.28" x2="224" y2="241.828" stroke="#aaa" stroke-width="0.5" />
<line x1="221.5" y1="239.636" x2="226.5" y2="239.636" stroke="#aaa" stroke-width="0.5" />
<line x1="221.5" y1="241.828" x2="226.5" y2="241.828" stroke="#aaa" stroke-width="0.5" />
<circle cx="220.40" cy="241.83" r="1.5" fill="#b80818" stroke="#6a0008" stroke-width="0.6"/>
<circle cx="224.00" cy="239.64" r="1.5" fill="#b80818" stroke="#6a0008" stroke-width="0.6"/>
<circle cx="227.60" cy="241.28" r="1.5" fill="#b80818" stroke="#6a0008" stroke-width="0.6"/>
<circle cx="222.20" cy="240.73" r="1.5" fill="#b80818" stroke="#6a0008" stroke-width="0.6"/>
<circle cx="225.80" cy="241.55" r="1.5" fill="#b80818" stroke="#6a0008" stroke-width="0.6"/>
<text x="226.6" y="268.59999999999997" font-size="7.0" text-anchor="end" fill="#2a2a2a" transform="rotate(-45 226.6 268.59999999999997)" >Treg (S)</text>
<rect x="236.4" y="207.441" width="11.2" height="3.5619999999999834" fill="#f08890" stroke="#b0b0b0" stroke-width="0.5" />
<line x1="242" y1="205.66" x2="242" y2="207.441" stroke="#aaa" stroke-width="0.5" />
<line x1="242" y1="211.003" x2="242" y2="212.784" stroke="#aaa" stroke-width="0.5" />
<line x1="239.5" y1="205.66" x2="244.5" y2="205.66" stroke="#aaa" stroke-width="0.5" />
<line x1="239.5" y1="212.784" x2="244.5" y2="212.784" stroke="#aaa" stroke-width="0.5" />
<circle cx="238.40" cy="212.24" r="1.5" fill="#b80818" stroke="#6a0008" stroke-width="0.6"/>
<circle cx="242.00" cy="205.66" r="1.5" fill="#b80818" stroke="#6a0008" stroke-width="0.6"/>
<circle cx="245.60" cy="212.78" r="1.5" fill="#b80818" stroke="#6a0008" stroke-width="0.6"/>
<circle cx="240.20" cy="209.50" r="1.5" fill="#b80818" stroke="#6a0008" stroke-width="0.6"/>
<circle cx="243.80" cy="210.59" r="1.5" fill="#b80818" stroke="#6a0008" stroke-width="0.6"/>
<circle cx="238.40" cy="211.69" r="1.5" fill="#b80818" stroke="#6a0008" stroke-width="0.6"/>
<text x="244.6" y="268.59999999999997" font-size="7.0" text-anchor="end" fill="#2a2a2a" transform="rotate(-45 244.6 268.59999999999997)" >Treg (T)</text>
<text x="102.4" y="170.8" font-size="8.6" font-weight="bold" textLength="51.8" lengthAdjust="spacingAndGlyphs" >MC38 in WT</text>
<line x1="413.3" y1="181.0" x2="413.3" y2="263.4" stroke="#7a7a7a" stroke-width="0.9" />
<line x1="413.3" y1="263.4" x2="520" y2="263.4" stroke="#7a7a7a" stroke-width="0.9" />
<line x1="411.5" y1="263.4" x2="413.3" y2="263.4" stroke="#7a7a7a" stroke-width="0.8" />
<text x="410.7" y="265.9" font-size="7.1" text-anchor="end" fill="#2a2a2a" >0</text>
<line x1="411.5" y1="242.79999999999998" x2="413.3" y2="242.79999999999998" stroke="#7a7a7a" stroke-width="0.8" />
<text x="410.7" y="245.29999999999998" font-size="7.1" text-anchor="end" fill="#2a2a2a" >5,000</text>
<line x1="411.5" y1="222.2" x2="413.3" y2="222.2" stroke="#7a7a7a" stroke-width="0.8" />
<text x="410.7" y="224.7" font-size="7.1" text-anchor="end" fill="#2a2a2a" >10,000</text>
<line x1="411.5" y1="201.6" x2="413.3" y2="201.6" stroke="#7a7a7a" stroke-width="0.8" />
<text x="410.7" y="204.1" font-size="7.1" text-anchor="end" fill="#2a2a2a" >15,000</text>
<line x1="411.5" y1="181.0" x2="413.3" y2="181.0" stroke="#7a7a7a" stroke-width="0.8" />
<text x="410.7" y="183.5" font-size="7.1" text-anchor="end" fill="#2a2a2a" >20,000</text>
<text x="381.6" y="212.0" font-size="7.2" text-anchor="middle" fill="#222" textLength="44.0" lengthAdjust="spacingAndGlyphs" transform="rotate(-90 381.6 212.0)" >MFI hCTLA-4</text>
<rect x="416.4" y="259.383" width="11.2" height="1.2" fill="#f6c4c8" stroke="#b0b0b0" stroke-width="0.5" />
<line x1="422" y1="258.868" x2="422" y2="259.383" stroke="#aaa" stroke-width="0.5" />
<line x1="422" y1="260.413" x2="422" y2="260.928" stroke="#aaa" stroke-width="0.5" />
<line x1="419.5" y1="258.868" x2="424.5" y2="258.868" stroke="#aaa" stroke-width="0.5" />
<line x1="419.5" y1="260.928" x2="424.5" y2="260.928" stroke="#aaa" stroke-width="0.5" />
<circle cx="418.40" cy="260.52" r="1.5" fill="#fde8ea" stroke="#8e2232" stroke-width="0.6"/>
<circle cx="422.00" cy="258.87" r="1.5" fill="#fde8ea" stroke="#8e2232" stroke-width="0.6"/>
<circle cx="425.60" cy="260.10" r="1.5" fill="#fde8ea" stroke="#8e2232" stroke-width="0.6"/>
<circle cx="420.20" cy="259.69" r="1.5" fill="#fde8ea" stroke="#8e2232" stroke-width="0.6"/>
<circle cx="423.80" cy="260.93" r="1.5" fill="#fde8ea" stroke="#8e2232" stroke-width="0.6"/>
<text x="424.6" y="268.79999999999995" font-size="7.0" text-anchor="end" fill="#2a2a2a" transform="rotate(-45 424.6 268.79999999999995)" >CD8 (S)</text>
<rect x="434.4" y="244.65399999999997" width="11.2" height="5.356000000000023" fill="#f6c4c8" stroke="#b0b0b0" stroke-width="0.5" />
<line x1="440" y1="241.97599999999997" x2="440" y2="244.65399999999997" stroke="#aaa" stroke-width="0.5" />
<line x1="440" y1="250.01" x2="440" y2="252.688" stroke="#aaa" stroke-width="0.5" />
<line x1="437.5" y1="241.97599999999997" x2="442.5" y2="241.97599999999997" stroke="#aaa" stroke-width="0.5" />
<line x1="437.5" y1="252.688" x2="442.5" y2="252.688" stroke="#aaa" stroke-width="0.5" />
<circle cx="436.40" cy="251.04" r="1.5" fill="#fde8ea" stroke="#8e2232" stroke-width="0.6"/>
<circle cx="440.00" cy="241.98" r="1.5" fill="#fde8ea" stroke="#8e2232" stroke-width="0.6"/>
<circle cx="443.60" cy="246.92" r="1.5" fill="#fde8ea" stroke="#8e2232" stroke-width="0.6"/>
<circle cx="438.20" cy="243.62" r="1.5" fill="#fde8ea" stroke="#8e2232" stroke-width="0.6"/>
<circle cx="441.80" cy="248.98" r="1.5" fill="#fde8ea" stroke="#8e2232" stroke-width="0.6"/>
<circle cx="436.40" cy="252.69" r="1.5" fill="#fde8ea" stroke="#8e2232" stroke-width="0.6"/>
<circle cx="443.60" cy="245.68" r="1.5" fill="#fde8ea" stroke="#8e2232" stroke-width="0.6"/>
<text x="442.6" y="268.79999999999995" font-size="7.0" text-anchor="end" fill="#2a2a2a" transform="rotate(-45 442.6 268.79999999999995)" >CD8(T)</text>
<rect x="452.4" y="260.1039999999999" width="11.2" height="1.2" fill="#f3a0a8" stroke="#b0b0b0" stroke-width="0.5" />
<line x1="458" y1="259.69199999999995" x2="458" y2="260.1039999999999" stroke="#aaa" stroke-width="0.5" />
<line x1="458" y1="260.928" x2="458" y2="261.34" stroke="#aaa" stroke-width="0.5" />
<line x1="455.5" y1="259.69199999999995" x2="460.5" y2="259.69199999999995" stroke="#aaa" stroke-width="0.5" />
<line x1="455.5" y1="261.34" x2="460.5" y2="261.34" stroke="#aaa" stroke-width="0.5" />
<circle cx="454.40" cy="260.93" r="1.5" fill="#e23040" stroke="#8a1420" stroke-width="0.6"/>
<circle cx="458.00" cy="259.69" r="1.5" fill="#e23040" stroke="#8a1420" stroke-width="0.6"/>
<circle cx="461.60" cy="261.34" r="1.5" fill="#e23040" stroke="#8a1420" stroke-width="0.6"/>
<circle cx="456.20" cy="260.31" r="1.5" fill="#e23040" stroke="#8a1420" stroke-width="0.6"/>
<circle cx="459.80" cy="260.52" r="1.5" fill="#e23040" stroke="#8a1420" stroke-width="0.6"/>
<circle cx="454.40" cy="260.10" r="1.5" fill="#e23040" stroke="#8a1420" stroke-width="0.6"/>
<text x="460.6" y="268.79999999999995" font-size="7.0" text-anchor="end" fill="#2a2a2a" transform="rotate(-45 460.6 268.79999999999995)" >Tconv (S)</text>
<rect x="469.9" y="246.81699999999998" width="11.2" height="3.0900000000000034" fill="#f3a0a8" stroke="#b0b0b0" stroke-width="0.5" />
<line x1="475.5" y1="245.272" x2="475.5" y2="246.81699999999998" stroke="#aaa" stroke-width="0.5" />
<line x1="475.5" y1="249.90699999999998" x2="475.5" y2="251.45199999999997" stroke="#aaa" stroke-width="0.5" />
<line x1="473.0" y1="245.272" x2="478.0" y2="245.272" stroke="#aaa" stroke-width="0.5" />
<line x1="473.0" y1="251.45199999999997" x2="478.0" y2="251.45199999999997" stroke="#aaa" stroke-width="0.5" />
<circle cx="471.90" cy="251.04" r="1.5" fill="#e23040" stroke="#8a1420" stroke-width="0.6"/>
<circle cx="475.50" cy="245.27" r="1.5" fill="#e23040" stroke="#8a1420" stroke-width="0.6"/>
<circle cx="479.10" cy="248.57" r="1.5" fill="#e23040" stroke="#8a1420" stroke-width="0.6"/>
<circle cx="473.70" cy="247.74" r="1.5" fill="#e23040" stroke="#8a1420" stroke-width="0.6"/>
<circle cx="477.30" cy="251.45" r="1.5" fill="#e23040" stroke="#8a1420" stroke-width="0.6"/>
<circle cx="471.90" cy="246.92" r="1.5" fill="#e23040" stroke="#8a1420" stroke-width="0.6"/>
<circle cx="479.10" cy="249.80" r="1.5" fill="#e23040" stroke="#8a1420" stroke-width="0.6"/>
<text x="478.1" y="268.79999999999995" font-size="7.0" text-anchor="end" fill="#2a2a2a" transform="rotate(-45 478.1 268.79999999999995)" >Tconv (T)</text>
<rect x="488.0" y="229.204" width="11.2" height="5.767999999999972" fill="#f08890" stroke="#b0b0b0" stroke-width="0.5" />
<line x1="493.6" y1="226.32" x2="493.6" y2="229.204" stroke="#aaa" stroke-width="0.5" />
<line x1="493.6" y1="234.97199999999998" x2="493.6" y2="237.856" stroke="#aaa" stroke-width="0.5" />
<line x1="491.1" y1="226.32" x2="496.1" y2="226.32" stroke="#aaa" stroke-width="0.5" />
<line x1="491.1" y1="237.856" x2="496.1" y2="237.856" stroke="#aaa" stroke-width="0.5" />
<circle cx="490.00" cy="237.44" r="1.5" fill="#b80818" stroke="#6a0008" stroke-width="0.6"/>
<circle cx="493.60" cy="226.32" r="1.5" fill="#b80818" stroke="#6a0008" stroke-width="0.6"/>
<circle cx="497.20" cy="232.50" r="1.5" fill="#b80818" stroke="#6a0008" stroke-width="0.6"/>
<circle cx="491.80" cy="231.26" r="1.5" fill="#b80818" stroke="#6a0008" stroke-width="0.6"/>
<circle cx="495.40" cy="237.86" r="1.5" fill="#b80818" stroke="#6a0008" stroke-width="0.6"/>
<circle cx="490.00" cy="230.44" r="1.5" fill="#b80818" stroke="#6a0008" stroke-width="0.6"/>
<circle cx="497.20" cy="234.56" r="1.5" fill="#b80818" stroke="#6a0008" stroke-width="0.6"/>
<text x="496.20000000000005" y="268.79999999999995" font-size="7.0" text-anchor="end" fill="#2a2a2a" transform="rotate(-45 496.20000000000005 268.79999999999995)" >Treg (S)</text>
<rect x="505.59999999999997" y="194.184" width="11.2" height="4.943999999999988" fill="#f08890" stroke="#b0b0b0" stroke-width="0.5" />
<line x1="511.2" y1="191.712" x2="511.2" y2="194.184" stroke="#aaa" stroke-width="0.5" />
<line x1="511.2" y1="199.128" x2="511.2" y2="201.6" stroke="#aaa" stroke-width="0.5" />
<line x1="508.7" y1="191.712" x2="513.7" y2="191.712" stroke="#aaa" stroke-width="0.5" />
<line x1="508.7" y1="201.6" x2="513.7" y2="201.6" stroke="#aaa" stroke-width="0.5" />
<circle cx="507.60" cy="200.78" r="1.5" fill="#b80818" stroke="#6a0008" stroke-width="0.6"/>
<circle cx="511.20" cy="191.71" r="1.5" fill="#b80818" stroke="#6a0008" stroke-width="0.6"/>
<circle cx="514.80" cy="196.66" r="1.5" fill="#b80818" stroke="#6a0008" stroke-width="0.6"/>
<circle cx="509.40" cy="194.18" r="1.5" fill="#b80818" stroke="#6a0008" stroke-width="0.6"/>
<circle cx="513.00" cy="201.60" r="1.5" fill="#b80818" stroke="#6a0008" stroke-width="0.6"/>
<circle cx="507.60" cy="193.36" r="1.5" fill="#b80818" stroke="#6a0008" stroke-width="0.6"/>
<circle cx="514.80" cy="197.48" r="1.5" fill="#b80818" stroke="#6a0008" stroke-width="0.6"/>
<circle cx="511.20" cy="195.42" r="1.5" fill="#b80818" stroke="#6a0008" stroke-width="0.6"/>
<text x="513.8" y="268.79999999999995" font-size="7.0" text-anchor="end" fill="#2a2a2a" transform="rotate(-45 513.8 268.79999999999995)" >Treg (T)</text>
<text x="338.9" y="170.8" font-size="8.6" font-weight="bold" textLength="109.6" lengthAdjust="spacingAndGlyphs" >MC38 in hCTLA-4/hFcγR</text>
<text x="1.8" y="311.4" font-size="12.4" font-weight="bold" >D</text>
<rect x="155.6" y="305.2" width="15.8" height="8.4" fill="#d6dca4" stroke="#1a1a1a" stroke-width="1.0" />
<text x="177.3" y="312.6" font-size="8.2" textLength="25.4" lengthAdjust="spacingAndGlyphs" >Spleen</text>
<rect x="209.8" y="305.2" width="15.8" height="8.4" fill="#dcb496" stroke="#1a1a1a" stroke-width="1.0" />
<text x="231.0" y="312.6" font-size="8.2" textLength="23.6" lengthAdjust="spacingAndGlyphs" >Tumor</text>
<path d="M9.70,380.70 L26.00,380.60 L28.00,379.50 L29.50,376.00 L31.00,365.00 L32.50,348.00 L33.80,333.00 L35.30,324.60 L36.50,330.00 L37.50,342.00 L38.80,356.00 L40.20,366.00 L42.00,372.50 L44.00,375.80 L47.00,377.80 L52.00,379.30 L60.00,380.20 L70.00,380.60 L97.60,380.70 Z" fill="#eaedcc"/>
<path d="M9.70,409.20 L19.00,409.00 L22.00,408.30 L24.00,406.50 L25.50,403.00 L27.00,396.00 L28.30,388.00 L29.40,380.00 L30.50,371.00 L31.40,363.00 L32.30,358.20 L33.20,361.00 L34.20,369.00 L35.20,375.50 L36.50,379.50 L38.00,383.50 L40.00,387.20 L41.70,389.00 L43.50,388.20 L45.50,386.60 L47.50,384.60 L49.50,382.00 L51.00,379.50 L52.50,377.50 L53.50,374.60 L54.60,373.50 L55.60,370.50 L56.80,369.00 L57.80,366.50 L58.80,365.30 L59.80,366.50 L60.80,365.00 L62.00,366.20 L63.20,364.80 L64.30,366.20 L65.50,365.10 L66.70,366.00 L67.80,368.50 L69.00,370.50 L70.30,375.00 L71.60,380.00 L73.00,385.50 L75.00,391.00 L77.00,396.20 L79.00,400.80 L81.70,405.30 L84.00,407.20 L87.00,408.40 L90.00,409.00 L97.60,409.20 Z" fill="#e9d3c4" fill-opacity="0.82"/>
<path d="M9.70,380.70 L26.00,380.60 L28.00,379.50 L29.50,376.00 L31.00,365.00 L32.50,348.00 L33.80,333.00 L35.30,324.60 L36.50,330.00 L37.50,342.00 L38.80,356.00 L40.20,366.00 L42.00,372.50 L44.00,375.80 L47.00,377.80 L52.00,379.30 L60.00,380.20 L70.00,380.60 L97.60,380.70" fill="none" stroke="#8c9a1e" stroke-width="1.3" stroke-linejoin="round"/>
<path d="M9.70,409.20 L19.00,409.00 L22.00,408.30 L24.00,406.50 L25.50,403.00 L27.00,396.00 L28.30,388.00 L29.40,380.00 L30.50,371.00 L31.40,363.00 L32.30,358.20 L33.20,361.00 L34.20,369.00 L35.20,375.50 L36.50,379.50 L38.00,383.50 L40.00,387.20 L41.70,389.00 L43.50,388.20 L45.50,386.60 L47.50,384.60 L49.50,382.00 L51.00,379.50 L52.50,377.50 L53.50,374.60 L54.60,373.50 L55.60,370.50 L56.80,369.00 L57.80,366.50 L58.80,365.30 L59.80,366.50 L60.80,365.00 L62.00,366.20 L63.20,364.80 L64.30,366.20 L65.50,365.10 L66.70,366.00 L67.80,368.50 L69.00,370.50 L70.30,375.00 L71.60,380.00 L73.00,385.50 L75.00,391.00 L77.00,396.20 L79.00,400.80 L81.70,405.30 L84.00,407.20 L87.00,408.40 L90.00,409.00 L97.60,409.20" fill="none" stroke="#7a3c12" stroke-width="1.45" stroke-linejoin="round"/>
<rect x="9.7" y="320.7" width="87.89999999999999" height="88.5" fill="none" stroke="#c4c4c4" stroke-width="0.9" />
<line x1="46.5" y1="320.7" x2="46.5" y2="409.2" stroke="#151515" stroke-width="1.25" stroke-dasharray="2.2,1.5"/>
<line x1="29.299999999999997" y1="409.2" x2="29.299999999999997" y2="410.5" stroke="#999" stroke-width="0.4" />
<line x1="32.3" y1="409.2" x2="32.3" y2="410.5" stroke="#999" stroke-width="0.4" />
<line x1="35.3" y1="409.2" x2="35.3" y2="410.5" stroke="#999" stroke-width="0.4" />
<line x1="38.3" y1="409.2" x2="38.3" y2="410.5" stroke="#999" stroke-width="0.4" />
<line x1="64.0" y1="409.2" x2="64.0" y2="410.5" stroke="#999" stroke-width="0.4" />
<line x1="85.7" y1="409.2" x2="85.7" y2="410.5" stroke="#999" stroke-width="0.4" />
<text x="35.3" y="417.4" font-size="7.0" text-anchor="middle" >0</text>
<text x="59.4" y="416.8" font-size="7.0" textLength="9.6" lengthAdjust="spacingAndGlyphs" >10<tspan font-size="4.2" dy="-2.6">4</tspan></text>
<text x="81.10000000000001" y="416.8" font-size="7.0" textLength="9.6" lengthAdjust="spacingAndGlyphs" >10<tspan font-size="4.2" dy="-2.6">5</tspan></text>
<text x="11.3" y="427.4" font-size="8.2" font-weight="bold" textLength="22.0" lengthAdjust="spacingAndGlyphs" >FcγRI</text>
<line x1="38.8" y1="424.5" x2="90.1" y2="424.5" stroke="#111" stroke-width="1.7" />
<polygon points="97.6,424.5 89.6,420.9 89.6,428.1" fill="#111"/>
<path d="M107.50,380.70 L127.00,380.60 L129.00,378.50 L130.50,372.00 L131.80,355.00 L132.80,336.00 L133.80,323.80 L134.80,332.00 L136.00,350.00 L137.50,362.50 L139.50,370.00 L142.50,375.00 L146.00,378.00 L150.00,379.30 L155.00,379.40 L159.00,378.80 L162.50,378.20 L166.00,378.80 L170.00,379.80 L175.00,380.50 L195.50,380.70 Z" fill="#eaedcc"/>
<path d="M107.50,409.20 L124.00,409.00 L126.00,408.00 L127.50,404.00 L128.80,395.00 L130.00,382.00 L131.30,372.00 L132.50,367.50 L133.70,371.00 L134.80,378.00 L136.20,385.00 L138.00,390.50 L141.20,396.20 L144.00,399.00 L147.50,401.20 L150.00,401.80 L153.00,400.60 L155.50,398.80 L157.50,396.20 L160.00,392.50 L162.50,387.00 L165.00,380.00 L167.00,371.50 L168.70,363.80 L170.50,359.00 L172.20,357.00 L174.00,359.50 L176.20,367.50 L177.60,375.00 L178.80,382.50 L180.20,391.00 L181.30,398.70 L183.00,404.00 L185.00,407.50 L188.00,408.80 L191.00,409.10 L195.50,409.20 Z" fill="#e9d3c4" fill-opacity="0.82"/>
<path d="M107.50,380.70 L127.00,380.60 L129.00,378.50 L130.50,372.00 L131.80,355.00 L132.80,336.00 L133.80,323.80 L134.80,332.00 L136.00,350.00 L137.50,362.50 L139.50,370.00 L142.50,375.00 L146.00,378.00 L150.00,379.30 L155.00,379.40 L159.00,378.80 L162.50,378.20 L166.00,378.80 L170.00,379.80 L175.00,380.50 L195.50,380.70" fill="none" stroke="#8c9a1e" stroke-width="1.3" stroke-linejoin="round"/>
<path d="M107.50,409.20 L124.00,409.00 L126.00,408.00 L127.50,404.00 L128.80,395.00 L130.00,382.00 L131.30,372.00 L132.50,367.50 L133.70,371.00 L134.80,378.00 L136.20,385.00 L138.00,390.50 L141.20,396.20 L144.00,399.00 L147.50,401.20 L150.00,401.80 L153.00,400.60 L155.50,398.80 L157.50,396.20 L160.00,392.50 L162.50,387.00 L165.00,380.00 L167.00,371.50 L168.70,363.80 L170.50,359.00 L172.20,357.00 L174.00,359.50 L176.20,367.50 L177.60,375.00 L178.80,382.50 L180.20,391.00 L181.30,398.70 L183.00,404.00 L185.00,407.50 L188.00,408.80 L191.00,409.10 L195.50,409.20" fill="none" stroke="#7a3c12" stroke-width="1.45" stroke-linejoin="round"/>
<rect x="107.5" y="320.7" width="88.0" height="88.5" fill="none" stroke="#c4c4c4" stroke-width="0.9" />
<line x1="149.8" y1="320.7" x2="149.8" y2="409.2" stroke="#151515" stroke-width="1.25" stroke-dasharray="2.2,1.5"/>
<line x1="129.0" y1="409.2" x2="129.0" y2="410.5" stroke="#999" stroke-width="0.4" />
<line x1="132.0" y1="409.2" x2="132.0" y2="410.5" stroke="#999" stroke-width="0.4" />
<line x1="135.0" y1="409.2" x2="135.0" y2="410.5" stroke="#999" stroke-width="0.4" />
<line x1="138.0" y1="409.2" x2="138.0" y2="410.5" stroke="#999" stroke-width="0.4" />
<line x1="161.0" y1="409.2" x2="161.0" y2="410.5" stroke="#999" stroke-width="0.4" />
<line x1="182.5" y1="409.2" x2="182.5" y2="410.5" stroke="#999" stroke-width="0.4" />
<text x="135.0" y="417.4" font-size="7.0" text-anchor="middle" >0</text>
<text x="156.4" y="416.8" font-size="7.0" textLength="9.6" lengthAdjust="spacingAndGlyphs" >10<tspan font-size="4.2" dy="-2.6">4</tspan></text>
<text x="177.9" y="416.8" font-size="7.0" textLength="9.6" lengthAdjust="spacingAndGlyphs" >10<tspan font-size="4.2" dy="-2.6">5</tspan></text>
<text x="107.5" y="427.4" font-size="8.2" font-weight="bold" textLength="32.0" lengthAdjust="spacingAndGlyphs" >FcγRIIA</text>
<line x1="143.0" y1="424.5" x2="186.5" y2="424.5" stroke="#111" stroke-width="1.7" />
<polygon points="194.0,424.5 186.0,420.9 186.0,428.1" fill="#111"/>
<path d="M203.50,380.70 L218.00,380.60 L220.30,379.00 L222.00,372.00 L223.50,361.00 L225.00,347.00 L226.20,339.00 L227.30,336.30 L228.50,340.00 L230.00,348.50 L232.00,357.50 L234.00,363.00 L237.00,366.70 L240.50,368.20 L244.00,366.50 L247.00,362.00 L249.50,355.50 L252.00,346.00 L254.00,336.00 L255.50,329.50 L256.90,325.80 L258.30,328.00 L259.50,332.50 L261.50,338.00 L263.50,346.00 L265.60,354.00 L268.00,362.00 L271.00,369.00 L275.00,375.50 L279.00,379.40 L283.00,380.50 L291.10,380.70 Z" fill="#eaedcc"/>
<path d="M203.50,409.20 L216.00,409.00 L218.00,408.50 L219.60,405.00 L221.00,396.00 L222.50,386.00 L224.00,377.50 L225.20,373.60 L226.20,372.90 L227.30,376.00 L228.60,381.00 L230.00,386.00 L232.50,392.00 L235.50,397.00 L238.00,399.50 L240.40,400.80 L242.50,400.20 L244.50,399.30 L246.50,397.60 L248.50,396.20 L250.50,394.30 L252.50,391.80 L254.50,389.20 L256.50,385.50 L258.50,380.50 L260.20,376.50 L261.50,373.80 L263.20,369.50 L265.00,365.50 L266.50,362.20 L267.80,360.50 L269.00,358.80 L270.00,358.40 L271.10,357.40 L272.20,359.50 L273.30,364.00 L274.50,371.00 L275.60,380.00 L276.80,390.00 L278.20,398.00 L280.00,404.20 L281.70,407.80 L284.00,409.00 L291.10,409.20 Z" fill="#e9d3c4" fill-opacity="0.82"/>
<path d="M203.50,380.70 L218.00,380.60 L220.30,379.00 L222.00,372.00 L223.50,361.00 L225.00,347.00 L226.20,339.00 L227.30,336.30 L228.50,340.00 L230.00,348.50 L232.00,357.50 L234.00,363.00 L237.00,366.70 L240.50,368.20 L244.00,366.50 L247.00,362.00 L249.50,355.50 L252.00,346.00 L254.00,336.00 L255.50,329.50 L256.90,325.80 L258.30,328.00 L259.50,332.50 L261.50,338.00 L263.50,346.00 L265.60,354.00 L268.00,362.00 L271.00,369.00 L275.00,375.50 L279.00,379.40 L283.00,380.50 L291.10,380.70" fill="none" stroke="#8c9a1e" stroke-width="1.3" stroke-linejoin="round"/>
<path d="M203.50,409.20 L216.00,409.00 L218.00,408.50 L219.60,405.00 L221.00,396.00 L222.50,386.00 L224.00,377.50 L225.20,373.60 L226.20,372.90 L227.30,376.00 L228.60,381.00 L230.00,386.00 L232.50,392.00 L235.50,397.00 L238.00,399.50 L240.40,400.80 L242.50,400.20 L244.50,399.30 L246.50,397.60 L248.50,396.20 L250.50,394.30 L252.50,391.80 L254.50,389.20 L256.50,385.50 L258.50,380.50 L260.20,376.50 L261.50,373.80 L263.20,369.50 L265.00,365.50 L266.50,362.20 L267.80,360.50 L269.00,358.80 L270.00,358.40 L271.10,357.40 L272.20,359.50 L273.30,364.00 L274.50,371.00 L275.60,380.00 L276.80,390.00 L278.20,398.00 L280.00,404.20 L281.70,407.80 L284.00,409.00 L291.10,409.20" fill="none" stroke="#7a3c12" stroke-width="1.45" stroke-linejoin="round"/>
<rect x="203.5" y="320.7" width="87.60000000000002" height="88.5" fill="none" stroke="#c4c4c4" stroke-width="0.9" />
<line x1="240.9" y1="320.7" x2="240.9" y2="409.2" stroke="#151515" stroke-width="1.25" stroke-dasharray="2.2,1.5"/>
<line x1="223.8" y1="409.2" x2="223.8" y2="410.5" stroke="#999" stroke-width="0.4" />
<line x1="226.8" y1="409.2" x2="226.8" y2="410.5" stroke="#999" stroke-width="0.4" />
<line x1="229.8" y1="409.2" x2="229.8" y2="410.5" stroke="#999" stroke-width="0.4" />
<line x1="232.8" y1="409.2" x2="232.8" y2="410.5" stroke="#999" stroke-width="0.4" />
<line x1="251.4" y1="409.2" x2="251.4" y2="410.5" stroke="#999" stroke-width="0.4" />
<line x1="272.5" y1="409.2" x2="272.5" y2="410.5" stroke="#999" stroke-width="0.4" />
<text x="229.8" y="417.4" font-size="7.0" text-anchor="middle" >0</text>
<text x="246.8" y="416.8" font-size="7.0" textLength="9.6" lengthAdjust="spacingAndGlyphs" >10<tspan font-size="4.2" dy="-2.6">4</tspan></text>
<text x="267.9" y="416.8" font-size="7.0" textLength="9.6" lengthAdjust="spacingAndGlyphs" >10<tspan font-size="4.2" dy="-2.6">5</tspan></text>
<text x="204.2" y="427.4" font-size="8.2" font-weight="bold" textLength="31.0" lengthAdjust="spacingAndGlyphs" >FcγRIIB</text>
<line x1="239.4" y1="424.5" x2="283.1" y2="424.5" stroke="#111" stroke-width="1.7" />
<polygon points="290.6,424.5 282.6,420.9 282.6,428.1" fill="#111"/>
<path d="M300.50,380.70 L306.00,380.40 L309.00,379.50 L311.50,376.00 L313.50,366.00 L315.00,348.00 L316.40,332.00 L317.60,324.40 L318.80,330.00 L320.00,344.00 L321.50,360.00 L323.00,370.00 L325.00,375.50 L328.00,377.40 L334.00,378.20 L345.00,378.80 L355.00,379.30 L365.00,379.10 L368.50,378.20 L370.20,376.00 L371.50,374.30 L372.80,376.00 L374.00,379.00 L375.50,380.40 L388.30,380.70 Z" fill="#eaedcc"/>
<path d="M300.50,409.20 L310.00,409.00 L312.00,407.50 L313.40,401.00 L314.60,388.00 L315.80,374.00 L317.00,362.50 L318.60,355.40 L320.00,360.00 L321.20,369.00 L322.60,379.50 L324.20,386.50 L326.50,391.50 L329.50,395.50 L332.00,397.80 L334.70,399.20 L337.50,398.60 L340.00,397.30 L343.00,395.30 L346.00,393.60 L349.00,391.40 L352.00,389.60 L355.00,388.00 L357.50,386.60 L359.50,385.20 L360.50,386.00 L361.80,384.00 L363.50,383.50 L365.00,382.80 L366.60,383.80 L368.00,385.80 L369.40,388.80 L370.60,393.00 L371.80,398.50 L373.00,403.30 L374.50,406.80 L376.50,408.60 L379.00,409.10 L388.30,409.20 Z" fill="#e9d3c4" fill-opacity="0.82"/>
<path d="M300.50,380.70 L306.00,380.40 L309.00,379.50 L311.50,376.00 L313.50,366.00 L315.00,348.00 L316.40,332.00 L317.60,324.40 L318.80,330.00 L320.00,344.00 L321.50,360.00 L323.00,370.00 L325.00,375.50 L328.00,377.40 L334.00,378.20 L345.00,378.80 L355.00,379.30 L365.00,379.10 L368.50,378.20 L370.20,376.00 L371.50,374.30 L372.80,376.00 L374.00,379.00 L375.50,380.40 L388.30,380.70" fill="none" stroke="#8c9a1e" stroke-width="1.3" stroke-linejoin="round"/>
<path d="M300.50,409.20 L310.00,409.00 L312.00,407.50 L313.40,401.00 L314.60,388.00 L315.80,374.00 L317.00,362.50 L318.60,355.40 L320.00,360.00 L321.20,369.00 L322.60,379.50 L324.20,386.50 L326.50,391.50 L329.50,395.50 L332.00,397.80 L334.70,399.20 L337.50,398.60 L340.00,397.30 L343.00,395.30 L346.00,393.60 L349.00,391.40 L352.00,389.60 L355.00,388.00 L357.50,386.60 L359.50,385.20 L360.50,386.00 L361.80,384.00 L363.50,383.50 L365.00,382.80 L366.60,383.80 L368.00,385.80 L369.40,388.80 L370.60,393.00 L371.80,398.50 L373.00,403.30 L374.50,406.80 L376.50,408.60 L379.00,409.10 L388.30,409.20" fill="none" stroke="#7a3c12" stroke-width="1.45" stroke-linejoin="round"/>
<rect x="300.5" y="320.7" width="87.80000000000001" height="88.5" fill="none" stroke="#c4c4c4" stroke-width="0.9" />
<line x1="334.4" y1="320.7" x2="334.4" y2="409.2" stroke="#151515" stroke-width="1.25" stroke-dasharray="2.2,1.5"/>
<line x1="315.2" y1="409.2" x2="315.2" y2="410.5" stroke="#999" stroke-width="0.4" />
<line x1="318.2" y1="409.2" x2="318.2" y2="410.5" stroke="#999" stroke-width="0.4" />
<line x1="321.2" y1="409.2" x2="321.2" y2="410.5" stroke="#999" stroke-width="0.4" />
<line x1="324.2" y1="409.2" x2="324.2" y2="410.5" stroke="#999" stroke-width="0.4" />
<line x1="351.0" y1="409.2" x2="351.0" y2="410.5" stroke="#999" stroke-width="0.4" />
<line x1="370.0" y1="409.2" x2="370.0" y2="410.5" stroke="#999" stroke-width="0.4" />
<text x="321.2" y="417.4" font-size="7.0" text-anchor="middle" >0</text>
<text x="346.4" y="416.8" font-size="7.0" textLength="9.6" lengthAdjust="spacingAndGlyphs" >10<tspan font-size="4.2" dy="-2.6">4</tspan></text>
<text x="365.4" y="416.8" font-size="7.0" textLength="9.6" lengthAdjust="spacingAndGlyphs" >10<tspan font-size="4.2" dy="-2.6">5</tspan></text>
<text x="302.0" y="427.4" font-size="8.2" font-weight="bold" textLength="35.5" lengthAdjust="spacingAndGlyphs" >FcγRIIIA</text>
<line x1="338.8" y1="424.5" x2="381.3" y2="424.5" stroke="#111" stroke-width="1.7" />
<polygon points="388.8,424.5 380.8,420.9 380.8,428.1" fill="#111"/>
<text x="397.2" y="312.0" font-size="12.4" font-weight="bold" >E</text>
<text x="421.9" y="315.1" font-size="7.3" font-weight="bold" textLength="38.1" lengthAdjust="spacingAndGlyphs" >Ipilimumab</text>
<text x="417.4" y="380.8" font-size="7.3" font-weight="bold" textLength="51.4" lengthAdjust="spacingAndGlyphs" >Tremelimumab</text>
<line x1="440.3" y1="340.0" x2="437.6" y2="335.6" stroke="#333" stroke-width="0.8" />
<line x1="446.3" y1="340.0" x2="449.0" y2="335.6" stroke="#333" stroke-width="0.8" />
<rect x="441.6" y="336.4" width="3.4" height="3.2" fill="#f0c8c8" stroke="none" stroke-width="0" />
<g transform="translate(432.5 330.3) rotate(50.4)"><rect x="-8.55" y="-4.00" width="8.40" height="3.55" rx="0.6" fill="#717171" stroke="#4b4b4b" stroke-width="0.55"/><rect x="0.15" y="-4.00" width="8.40" height="3.55" rx="0.6" fill="#717171" stroke="#4b4b4b" stroke-width="0.55"/><rect x="-8.55" y="0.45" width="8.40" height="3.55" rx="0.6" fill="#717171" stroke="#4b4b4b" stroke-width="0.55"/><rect x="0.15" y="0.45" width="8.40" height="3.55" rx="0.6" fill="#717171" stroke="#4b4b4b" stroke-width="0.55"/><line x1="-8.2" y1="0" x2="8.2" y2="0" stroke="#f2f2f2" stroke-width="0.8"/><line x1="0" y1="-4.0" x2="0" y2="-0.5" stroke="#4b4b4b" stroke-width="0.7"/><line x1="0" y1="0.5" x2="0" y2="4.0" stroke="#4b4b4b" stroke-width="0.7"/></g>
<g transform="translate(454.1 330.3) rotate(-50.4)"><rect x="-8.55" y="-4.00" width="8.40" height="3.55" rx="0.6" fill="#717171" stroke="#4b4b4b" stroke-width="0.55"/><rect x="0.15" y="-4.00" width="8.40" height="3.55" rx="0.6" fill="#717171" stroke="#4b4b4b" stroke-width="0.55"/><rect x="-8.55" y="0.45" width="8.40" height="3.55" rx="0.6" fill="#717171" stroke="#4b4b4b" stroke-width="0.55"/><rect x="0.15" y="0.45" width="8.40" height="3.55" rx="0.6" fill="#717171" stroke="#4b4b4b" stroke-width="0.55"/><line x1="-8.2" y1="0" x2="8.2" y2="0" stroke="#f2f2f2" stroke-width="0.8"/><line x1="0" y1="-4.0" x2="0" y2="-0.5" stroke="#4b4b4b" stroke-width="0.7"/><line x1="0" y1="0.5" x2="0" y2="4.0" stroke="#4b4b4b" stroke-width="0.7"/></g>
<rect x="442.6" y="339.8" width="1.2" height="24.8" fill="#c8c8c8" stroke="none" stroke-width="0" />
<rect x="438.0" y="339.8" width="4.7" height="8.5" fill="#3b86e0" stroke="#1d5aa6" stroke-width="0.6" />
<rect x="438.0" y="348.3" width="4.7" height="8.099999999999966" fill="#3b86e0" stroke="#1d5aa6" stroke-width="0.6" />
<rect x="438.0" y="356.4" width="4.7" height="8.200000000000045" fill="#3b86e0" stroke="#1d5aa6" stroke-width="0.6" />
<rect x="443.7" y="339.8" width="4.7" height="8.5" fill="#3b86e0" stroke="#1d5aa6" stroke-width="0.6" />
<rect x="443.7" y="348.3" width="4.7" height="8.099999999999966" fill="#3b86e0" stroke="#1d5aa6" stroke-width="0.6" />
<rect x="443.7" y="356.4" width="4.7" height="8.200000000000045" fill="#3b86e0" stroke="#1d5aa6" stroke-width="0.6" />
<line x1="440.3" y1="403.8" x2="437.6" y2="399.40000000000003" stroke="#333" stroke-width="0.8" />
<line x1="446.3" y1="403.8" x2="449.0" y2="399.40000000000003" stroke="#333" stroke-width="0.8" />
<rect x="441.6" y="400.2" width="3.4" height="3.2" fill="#a8d8d8" stroke="none" stroke-width="0" />
<g transform="translate(432.5 394.1) rotate(50.4)"><rect x="-8.55" y="-4.00" width="8.40" height="3.55" rx="0.6" fill="#dadada" stroke="#8c8c8c" stroke-width="0.55"/><rect x="0.15" y="-4.00" width="8.40" height="3.55" rx="0.6" fill="#dadada" stroke="#8c8c8c" stroke-width="0.55"/><rect x="-8.55" y="0.45" width="8.40" height="3.55" rx="0.6" fill="#dadada" stroke="#8c8c8c" stroke-width="0.55"/><rect x="0.15" y="0.45" width="8.40" height="3.55" rx="0.6" fill="#dadada" stroke="#8c8c8c" stroke-width="0.55"/><line x1="-8.2" y1="0" x2="8.2" y2="0" stroke="#ffffff" stroke-width="0.8"/><line x1="0" y1="-4.0" x2="0" y2="-0.5" stroke="#8c8c8c" stroke-width="0.7"/><line x1="0" y1="0.5" x2="0" y2="4.0" stroke="#8c8c8c" stroke-width="0.7"/></g>
<g transform="translate(454.1 394.1) rotate(-50.4)"><rect x="-8.55" y="-4.00" width="8.40" height="3.55" rx="0.6" fill="#dadada" stroke="#8c8c8c" stroke-width="0.55"/><rect x="0.15" y="-4.00" width="8.40" height="3.55" rx="0.6" fill="#dadada" stroke="#8c8c8c" stroke-width="0.55"/><rect x="-8.55" y="0.45" width="8.40" height="3.55" rx="0.6" fill="#dadada" stroke="#8c8c8c" stroke-width="0.55"/><rect x="0.15" y="0.45" width="8.40" height="3.55" rx="0.6" fill="#dadada" stroke="#8c8c8c" stroke-width="0.55"/><line x1="-8.2" y1="0" x2="8.2" y2="0" stroke="#ffffff" stroke-width="0.8"/><line x1="0" y1="-4.0" x2="0" y2="-0.5" stroke="#8c8c8c" stroke-width="0.7"/><line x1="0" y1="0.5" x2="0" y2="4.0" stroke="#8c8c8c" stroke-width="0.7"/></g>
<rect x="442.6" y="403.6" width="1.2" height="24.8" fill="#c8c8c8" stroke="none" stroke-width="0" />
<rect x="438.0" y="403.6" width="4.7" height="8.5" fill="#9c1c24" stroke="#5c0a10" stroke-width="0.6" />
<rect x="438.0" y="412.1" width="4.7" height="8.099999999999966" fill="#9c1c24" stroke="#5c0a10" stroke-width="0.6" />
<rect x="438.0" y="420.2" width="4.7" height="8.200000000000045" fill="#9c1c24" stroke="#5c0a10" stroke-width="0.6" />
<rect x="443.7" y="403.6" width="4.7" height="8.5" fill="#9c1c24" stroke="#5c0a10" stroke-width="0.6" />
<rect x="443.7" y="412.1" width="4.7" height="8.099999999999966" fill="#9c1c24" stroke="#5c0a10" stroke-width="0.6" />
<rect x="443.7" y="420.2" width="4.7" height="8.200000000000045" fill="#9c1c24" stroke="#5c0a10" stroke-width="0.6" />
<rect x="470.1" y="325.3" width="1.6" height="11.4" fill="#3a3a3a" stroke="none" stroke-width="1" />
<rect x="470.1" y="341.9" width="1.6" height="20.4" fill="#3a3a3a" stroke="none" stroke-width="1" />
<text x="477.9" y="334.0" font-size="7.3" fill="#2a2a2a" textLength="31.1" lengthAdjust="spacingAndGlyphs" >Fab 10D1</text>
<text x="477.9" y="355.4" font-size="7.3" fill="#2a2a2a">Fc IgG<tspan font-size="4.6" dy="1.8">1</tspan></text>
<rect x="470.1" y="389.8" width="1.6" height="11.5" fill="#3a3a3a" stroke="none" stroke-width="1" />
<rect x="470.1" y="406.3" width="1.6" height="20.4" fill="#3a3a3a" stroke="none" stroke-width="1" />
<text x="477.9" y="398.5" font-size="7.3" fill="#2a2a2a" textLength="29.4" lengthAdjust="spacingAndGlyphs" >Fab 1121</text>
<text x="477.9" y="420.4" font-size="7.3" fill="#2a2a2a">Fc IgG<tspan font-size="4.6" dy="1.8">2</tspan></text>
<text x="0.8" y="457.2" font-size="12.4" font-weight="bold" >F</text>
<path d="M33.00,542.20 L33.56,535.53 L34.13,529.71 L34.69,524.54 L35.26,519.86 L35.82,515.57 L36.38,511.57 L36.95,507.80 L37.51,504.19 L38.08,500.72 L38.64,497.35 L39.20,494.05 L39.77,490.82 L40.33,487.63 L40.90,484.47 L41.46,481.34 L42.31,482.47 L44.00,484.59 L45.69,486.57 L47.38,488.40 L49.07,490.10 L50.77,491.68 L52.46,493.15 L54.15,494.51 L55.84,495.78 L57.53,496.95 L59.23,498.04 L60.92,499.05 L62.61,499.99 L64.30,500.86 L65.99,501.67 L67.69,502.42 L69.38,503.12 L71.07,503.76 L72.76,504.36 L74.45,504.92 L76.15,505.44 L77.84,505.92 L79.53,506.36 L81.22,506.78 L82.91,507.16 L84.61,507.52 L86.30,507.85 L87.99,508.16 L89.68,508.44 L91.37,508.71 L93.07,508.96 L94.76,509.18 L96.45,509.40 L98.14,509.59 L99.83,509.77 L101.53,509.94 L103.22,510.10 L104.91,510.25 L106.60,510.38 L108.29,510.51 L109.99,510.63 L111.68,510.73 L113.37,510.84 L115.06,510.93 L116.75,511.02 L118.45,511.10 L120.14,511.17 L121.83,511.24 L123.52,511.30 L125.21,511.36" fill="none" stroke="#e4202c" stroke-width="1.5" stroke-linejoin="round"/>
<path d="M40.76,483.34 L41.16,491.34 L41.76,483.84" fill="none" stroke="#e4202c" stroke-width="0.9"/>
<path d="M33.00,542.20 L33.56,538.26 L34.13,534.83 L34.69,531.78 L35.26,529.02 L35.82,526.49 L36.38,524.13 L36.95,521.90 L37.51,519.77 L38.08,517.73 L38.64,515.74 L39.20,513.79 L39.77,511.88 L40.33,510.00 L40.90,508.14 L41.46,506.29 L42.31,507.01 L44.00,508.38 L45.69,509.64 L47.38,510.82 L49.07,511.91 L50.77,512.92 L52.46,513.87 L54.15,514.74 L55.84,515.55 L57.53,516.30 L59.23,517.00 L60.92,517.65 L62.61,518.25 L64.30,518.81 L65.99,519.33 L67.69,519.81 L69.38,520.26 L71.07,520.67 L72.76,521.06 L74.45,521.42 L76.15,521.75 L77.84,522.06 L79.53,522.34 L81.22,522.61 L82.91,522.85 L84.61,523.08 L86.30,523.30 L87.99,523.49 L89.68,523.68 L91.37,523.85 L93.07,524.00 L94.76,524.15 L96.45,524.29 L98.14,524.41 L99.83,524.53 L101.53,524.64 L103.22,524.74 L104.91,524.83 L106.60,524.92 L108.29,525.00 L109.99,525.08 L111.68,525.15 L113.37,525.21 L115.06,525.27 L116.75,525.33 L118.45,525.38 L120.14,525.43 L121.83,525.47 L123.52,525.51 L125.21,525.55" fill="none" stroke="#f29636" stroke-width="1.5" stroke-linejoin="round"/>
<path d="M33.00,542.20 L33.56,540.13 L34.13,538.32 L34.69,536.71 L35.26,535.26 L35.82,533.93 L36.38,532.69 L36.95,531.52 L37.51,530.40 L38.08,529.32 L38.64,528.27 L39.20,527.25 L39.77,526.24 L40.33,525.25 L40.90,524.27 L41.46,523.30 L42.31,523.73 L44.00,524.55 L45.69,525.31 L47.38,526.01 L49.07,526.66 L50.77,527.27 L52.46,527.83 L54.15,528.35 L55.84,528.84 L57.53,529.29 L59.23,529.71 L60.92,530.09 L62.61,530.45 L64.30,530.79 L65.99,531.10 L67.69,531.39 L69.38,531.65 L71.07,531.90 L72.76,532.13 L74.45,532.35 L76.15,532.54 L77.84,532.73 L79.53,532.90 L81.22,533.06 L82.91,533.21 L84.61,533.34 L86.30,533.47 L87.99,533.59 L89.68,533.70 L91.37,533.80 L93.07,533.89 L94.76,533.98 L96.45,534.06 L98.14,534.14 L99.83,534.21 L101.53,534.27 L103.22,534.33 L104.91,534.39 L106.60,534.44 L108.29,534.49 L109.99,534.53 L111.68,534.58 L113.37,534.62 L115.06,534.65 L116.75,534.68 L118.45,534.72 L120.14,534.74 L121.83,534.77 L123.52,534.80 L125.21,534.82" fill="none" stroke="#d22ad2" stroke-width="1.5" stroke-linejoin="round"/>
<path d="M33.00,542.20 L33.56,541.16 L34.13,540.26 L34.69,539.46 L35.26,538.73 L35.82,538.07 L36.38,537.44 L36.95,536.86 L37.51,536.30 L38.08,535.76 L38.64,535.24 L39.20,534.72 L39.77,534.22 L40.33,533.73 L40.90,533.24 L41.46,532.75 L42.31,533.03 L44.00,533.55 L45.69,534.03 L47.38,534.48 L49.07,534.90 L50.77,535.29 L52.46,535.65 L54.15,535.98 L55.84,536.29 L57.53,536.58 L59.23,536.85 L60.92,537.09 L62.61,537.32 L64.30,537.54 L65.99,537.74 L67.69,537.92 L69.38,538.09 L71.07,538.25 L72.76,538.40 L74.45,538.53 L76.15,538.66 L77.84,538.78 L79.53,538.89 L81.22,538.99 L82.91,539.08 L84.61,539.17 L86.30,539.25 L87.99,539.33 L89.68,539.40 L91.37,539.46 L93.07,539.52 L94.76,539.58 L96.45,539.63 L98.14,539.68 L99.83,539.72 L101.53,539.77 L103.22,539.80 L104.91,539.84 L106.60,539.87 L108.29,539.90 L109.99,539.93 L111.68,539.96 L113.37,539.98 L115.06,540.01 L116.75,540.03 L118.45,540.05 L120.14,540.07 L121.83,540.08 L123.52,540.10 L125.21,540.11" fill="none" stroke="#3cd23c" stroke-width="1.5" stroke-linejoin="round"/>
<path d="M33.00,542.20 L33.56,541.66 L34.13,541.19 L34.69,540.77 L35.26,540.40 L35.82,540.05 L36.38,539.73 L36.95,539.42 L37.51,539.13 L38.08,538.85 L38.64,538.58 L39.20,538.31 L39.77,538.05 L40.33,537.79 L40.90,537.54 L41.46,537.29 L42.31,537.45 L44.00,537.76 L45.69,538.04 L47.38,538.31 L49.07,538.55 L50.77,538.78 L52.46,538.99 L54.15,539.19 L55.84,539.37 L57.53,539.54 L59.23,539.70 L60.92,539.85 L62.61,539.98 L64.30,540.11 L65.99,540.23 L67.69,540.33 L69.38,540.44 L71.07,540.53 L72.76,540.62 L74.45,540.70 L76.15,540.77 L77.84,540.84 L79.53,540.91 L81.22,540.97 L82.91,541.02 L84.61,541.07 L86.30,541.12 L87.99,541.17 L89.68,541.21 L91.37,541.24 L93.07,541.28 L94.76,541.31 L96.45,541.34 L98.14,541.37 L99.83,541.40 L101.53,541.42 L103.22,541.45 L104.91,541.47 L106.60,541.49 L108.29,541.51 L109.99,541.52 L111.68,541.54 L113.37,541.55 L115.06,541.57 L116.75,541.58 L118.45,541.59 L120.14,541.60 L121.83,541.61 L123.52,541.62 L125.21,541.63" fill="none" stroke="#4cdcf0" stroke-width="1.5" stroke-linejoin="round"/>
<path d="M33.00,542.20 L33.56,542.01 L34.13,541.85 L34.69,541.71 L35.26,541.58 L35.82,541.46 L36.38,541.34 L36.95,541.24 L37.51,541.14 L38.08,541.04 L38.64,540.95 L39.20,540.85 L39.77,540.76 L40.33,540.67 L40.90,540.59 L41.46,540.50 L42.31,540.56 L44.00,540.67 L45.69,540.78 L47.38,540.88 L49.07,540.97 L50.77,541.05 L52.46,541.13 L54.15,541.20 L55.84,541.27 L57.53,541.33 L59.23,541.39 L60.92,541.45 L62.61,541.50 L64.30,541.54 L65.99,541.59 L67.69,541.63 L69.38,541.66 L71.07,541.70 L72.76,541.73 L74.45,541.76 L76.15,541.79 L77.84,541.81 L79.53,541.84 L81.22,541.86 L82.91,541.88 L84.61,541.90 L86.30,541.92 L87.99,541.93 L89.68,541.95 L91.37,541.96 L93.07,541.98 L94.76,541.99 L96.45,542.00 L98.14,542.01 L99.83,542.02 L101.53,542.03 L103.22,542.04 L104.91,542.04 L106.60,542.05 L108.29,542.06 L109.99,542.06 L111.68,542.07 L113.37,542.08 L115.06,542.08 L116.75,542.09 L118.45,542.09 L120.14,542.09 L121.83,542.10 L123.52,542.10 L125.21,542.10" fill="none" stroke="#a37c58" stroke-width="1.5" stroke-linejoin="round"/>
<line x1="33.0" y1="466.6" x2="33.0" y2="542.2" stroke="#707070" stroke-width="1.0" />
<line x1="33.0" y1="542.2" x2="145.79999999999998" y2="542.2" stroke="#707070" stroke-width="1.0" />
<line x1="31.2" y1="542.2" x2="33.0" y2="542.2" stroke="#707070" stroke-width="0.8" />
<text x="30.0" y="544.7" font-size="7.0" text-anchor="end" fill="#2a2a2a" >0</text>
<line x1="31.2" y1="523.3000000000001" x2="33.0" y2="523.3000000000001" stroke="#707070" stroke-width="0.8" />
<text x="30.0" y="525.8000000000001" font-size="7.0" text-anchor="end" fill="#2a2a2a" >100</text>
<line x1="31.2" y1="504.40000000000003" x2="33.0" y2="504.40000000000003" stroke="#707070" stroke-width="0.8" />
<text x="30.0" y="506.90000000000003" font-size="7.0" text-anchor="end" fill="#2a2a2a" >200</text>
<line x1="31.2" y1="485.50000000000006" x2="33.0" y2="485.50000000000006" stroke="#707070" stroke-width="0.8" />
<text x="30.0" y="488.00000000000006" font-size="7.0" text-anchor="end" fill="#2a2a2a" >300</text>
<line x1="31.2" y1="466.6" x2="33.0" y2="466.6" stroke="#707070" stroke-width="0.8" />
<text x="30.0" y="469.1" font-size="7.0" text-anchor="end" fill="#2a2a2a" >400</text>
<line x1="33.0" y1="542.2" x2="33.0" y2="544.0" stroke="#707070" stroke-width="0.8" />
<text x="33.0" y="551.4000000000001" font-size="7.0" text-anchor="middle" fill="#2a2a2a" >0</text>
<line x1="61.199999999999996" y1="542.2" x2="61.199999999999996" y2="544.0" stroke="#707070" stroke-width="0.8" />
<text x="61.199999999999996" y="551.4000000000001" font-size="7.0" text-anchor="middle" fill="#2a2a2a" >200</text>
<line x1="89.39999999999999" y1="542.2" x2="89.39999999999999" y2="544.0" stroke="#707070" stroke-width="0.8" />
<text x="89.39999999999999" y="551.4000000000001" font-size="7.0" text-anchor="middle" fill="#2a2a2a" >400</text>
<line x1="117.6" y1="542.2" x2="117.6" y2="544.0" stroke="#707070" stroke-width="0.8" />
<text x="117.6" y="551.4000000000001" font-size="7.0" text-anchor="middle" fill="#2a2a2a" >600</text>
<line x1="145.79999999999998" y1="542.2" x2="145.79999999999998" y2="544.0" stroke="#707070" stroke-width="0.8" />
<text x="145.79999999999998" y="551.4000000000001" font-size="7.0" text-anchor="middle" fill="#2a2a2a" >800</text>
<text x="14.600000000000001" y="498.20000000000005" font-size="6.4" font-weight="bold" text-anchor="middle" transform="rotate(-90 14.600000000000001 498.20000000000005)" >RU</text>
<text x="79.2" y="561.0" font-size="6.0" font-weight="bold" textLength="22.2" lengthAdjust="spacingAndGlyphs" >Time (s)</text>
<text x="50.2" y="457.0" font-size="8.0" font-weight="bold" textLength="71.3" lengthAdjust="spacingAndGlyphs" >Ipilimumab (10D1)</text>
<text x="58.9" y="467.6" font-size="8.4" fill="#1a1a1a"><tspan font-style="italic">K</tspan><tspan font-size="5.2" dy="1.8">D</tspan><tspan dy="-1.8">= 1.5 x 10</tspan><tspan font-size="5" dy="-3.2">−7</tspan></text>
<path d="M184.40,542.00 L184.97,535.04 L185.53,528.96 L186.10,523.57 L186.67,518.69 L187.24,514.21 L187.80,510.04 L188.37,506.10 L188.94,502.34 L189.50,498.72 L190.07,495.20 L190.64,491.76 L191.21,488.38 L191.77,485.06 L192.34,481.76 L192.91,478.50 L193.76,478.55 L195.46,478.62 L197.16,478.69 L198.86,478.74 L200.57,478.80 L202.27,478.85 L203.97,478.90 L205.67,478.95 L207.37,479.00 L209.07,479.05 L210.77,479.09 L212.48,479.14 L214.18,479.18 L215.88,479.23 L217.58,479.27 L219.28,479.31 L220.98,479.35 L222.69,479.39 L224.39,479.43 L226.09,479.47 L227.79,479.51 L229.49,479.55 L231.19,479.59 L232.90,479.63 L234.60,479.67 L236.30,479.71 L238.00,479.75 L239.70,479.78 L241.40,479.82 L243.11,479.86 L244.81,479.90 L246.51,479.93 L248.21,479.97 L249.91,480.01 L251.61,480.04 L253.31,480.08 L255.02,480.11 L256.72,480.15 L258.42,480.18 L260.12,480.22 L261.82,480.25 L263.52,480.29 L265.23,480.32 L266.93,480.36 L268.63,480.39 L270.33,480.42 L272.03,480.46 L273.73,480.49 L275.44,480.52 L277.14,480.56" fill="none" stroke="#e4202c" stroke-width="1.5" stroke-linejoin="round"/>
<path d="M192.21,480.50 L192.61,488.50 L193.21,481.00" fill="none" stroke="#e4202c" stroke-width="0.9"/>
<path d="M184.40,542.00 L184.97,537.50 L185.53,533.58 L186.10,530.10 L186.67,526.95 L187.24,524.06 L187.80,521.36 L188.37,518.82 L188.94,516.39 L189.50,514.05 L190.07,511.77 L190.64,509.55 L191.21,507.37 L191.77,505.22 L192.34,503.10 L192.91,500.99 L193.76,501.07 L195.46,501.19 L197.16,501.30 L198.86,501.39 L200.57,501.48 L202.27,501.57 L203.97,501.65 L205.67,501.73 L207.37,501.81 L209.07,501.89 L210.77,501.96 L212.48,502.04 L214.18,502.11 L215.88,502.18 L217.58,502.25 L219.28,502.32 L220.98,502.39 L222.69,502.46 L224.39,502.52 L226.09,502.59 L227.79,502.65 L229.49,502.72 L231.19,502.78 L232.90,502.85 L234.60,502.91 L236.30,502.97 L238.00,503.03 L239.70,503.10 L241.40,503.16 L243.11,503.22 L244.81,503.28 L246.51,503.34 L248.21,503.40 L249.91,503.46 L251.61,503.52 L253.31,503.57 L255.02,503.63 L256.72,503.69 L258.42,503.75 L260.12,503.80 L261.82,503.86 L263.52,503.92 L265.23,503.97 L266.93,504.03 L268.63,504.09 L270.33,504.14 L272.03,504.20 L273.73,504.25 L275.44,504.31 L277.14,504.36" fill="none" stroke="#f29636" stroke-width="1.5" stroke-linejoin="round"/>
<path d="M184.40,542.00 L184.97,539.41 L185.53,537.15 L186.10,535.14 L186.67,533.33 L187.24,531.66 L187.80,530.11 L188.37,528.65 L188.94,527.25 L189.50,525.90 L190.07,524.59 L190.64,523.31 L191.21,522.05 L191.77,520.82 L192.34,519.59 L192.91,518.38 L193.76,518.44 L195.46,518.52 L197.16,518.60 L198.86,518.67 L200.57,518.73 L202.27,518.80 L203.97,518.86 L205.67,518.91 L207.37,518.97 L209.07,519.03 L210.77,519.08 L212.48,519.13 L214.18,519.19 L215.88,519.24 L217.58,519.29 L219.28,519.34 L220.98,519.39 L222.69,519.44 L224.39,519.48 L226.09,519.53 L227.79,519.58 L229.49,519.63 L231.19,519.67 L232.90,519.72 L234.60,519.76 L236.30,519.81 L238.00,519.85 L239.70,519.90 L241.40,519.94 L243.11,519.99 L244.81,520.03 L246.51,520.07 L248.21,520.12 L249.91,520.16 L251.61,520.20 L253.31,520.24 L255.02,520.29 L256.72,520.33 L258.42,520.37 L260.12,520.41 L261.82,520.45 L263.52,520.49 L265.23,520.53 L266.93,520.57 L268.63,520.61 L270.33,520.65 L272.03,520.69 L273.73,520.73 L275.44,520.77 L277.14,520.81" fill="none" stroke="#7a2a8e" stroke-width="1.5" stroke-linejoin="round"/>
<path d="M184.40,542.00 L184.97,540.72 L185.53,539.59 L186.10,538.60 L186.67,537.70 L187.24,536.87 L187.80,536.10 L188.37,535.38 L188.94,534.68 L189.50,534.01 L190.07,533.36 L190.64,532.73 L191.21,532.11 L191.77,531.49 L192.34,530.88 L192.91,530.28 L193.76,530.31 L195.46,530.34 L197.16,530.37 L198.86,530.39 L200.57,530.42 L202.27,530.44 L203.97,530.47 L205.67,530.49 L207.37,530.51 L209.07,530.53 L210.77,530.55 L212.48,530.57 L214.18,530.59 L215.88,530.61 L217.58,530.63 L219.28,530.65 L220.98,530.67 L222.69,530.69 L224.39,530.71 L226.09,530.73 L227.79,530.75 L229.49,530.76 L231.19,530.78 L232.90,530.80 L234.60,530.82 L236.30,530.83 L238.00,530.85 L239.70,530.87 L241.40,530.88 L243.11,530.90 L244.81,530.92 L246.51,530.93 L248.21,530.95 L249.91,530.97 L251.61,530.98 L253.31,531.00 L255.02,531.02 L256.72,531.03 L258.42,531.05 L260.12,531.06 L261.82,531.08 L263.52,531.10 L265.23,531.11 L266.93,531.13 L268.63,531.14 L270.33,531.16 L272.03,531.17 L273.73,531.19 L275.44,531.20 L277.14,531.22" fill="none" stroke="#3cd23c" stroke-width="1.5" stroke-linejoin="round"/>
<path d="M184.40,542.00 L184.97,541.32 L185.53,540.72 L186.10,540.19 L186.67,539.71 L187.24,539.27 L187.80,538.86 L188.37,538.47 L188.94,538.10 L189.50,537.75 L190.07,537.40 L190.64,537.07 L191.21,536.73 L191.77,536.41 L192.34,536.08 L192.91,535.76 L193.76,535.79 L195.46,535.82 L197.16,535.85 L198.86,535.88 L200.57,535.90 L202.27,535.92 L203.97,535.95 L205.67,535.97 L207.37,535.99 L209.07,536.01 L210.77,536.03 L212.48,536.05 L214.18,536.07 L215.88,536.09 L217.58,536.11 L219.28,536.13 L220.98,536.15 L222.69,536.17 L224.39,536.19 L226.09,536.21 L227.79,536.23 L229.49,536.24 L231.19,536.26 L232.90,536.28 L234.60,536.30 L236.30,536.31 L238.00,536.33 L239.70,536.35 L241.40,536.37 L243.11,536.38 L244.81,536.40 L246.51,536.42 L248.21,536.43 L249.91,536.45 L251.61,536.47 L253.31,536.48 L255.02,536.50 L256.72,536.51 L258.42,536.53 L260.12,536.55 L261.82,536.56 L263.52,536.58 L265.23,536.59 L266.93,536.61 L268.63,536.62 L270.33,536.64 L272.03,536.65 L273.73,536.67 L275.44,536.69 L277.14,536.70" fill="none" stroke="#4cdcf0" stroke-width="1.5" stroke-linejoin="round"/>
<path d="M184.40,542.00 L184.97,541.69 L185.53,541.42 L186.10,541.18 L186.67,540.96 L187.24,540.76 L187.80,540.57 L188.37,540.40 L188.94,540.23 L189.50,540.07 L190.07,539.91 L190.64,539.76 L191.21,539.61 L191.77,539.46 L192.34,539.31 L192.91,539.16 L193.76,539.17 L195.46,539.19 L197.16,539.20 L198.86,539.21 L200.57,539.22 L202.27,539.23 L203.97,539.24 L205.67,539.25 L207.37,539.26 L209.07,539.27 L210.77,539.27 L212.48,539.28 L214.18,539.29 L215.88,539.30 L217.58,539.31 L219.28,539.31 L220.98,539.32 L222.69,539.33 L224.39,539.34 L226.09,539.34 L227.79,539.35 L229.49,539.36 L231.19,539.36 L232.90,539.37 L234.60,539.38 L236.30,539.39 L238.00,539.39 L239.70,539.40 L241.40,539.41 L243.11,539.41 L244.81,539.42 L246.51,539.43 L248.21,539.43 L249.91,539.44 L251.61,539.45 L253.31,539.45 L255.02,539.46 L256.72,539.47 L258.42,539.47 L260.12,539.48 L261.82,539.48 L263.52,539.49 L265.23,539.50 L266.93,539.50 L268.63,539.51 L270.33,539.52 L272.03,539.52 L273.73,539.53 L275.44,539.53 L277.14,539.54" fill="none" stroke="#a37c58" stroke-width="1.5" stroke-linejoin="round"/>
<line x1="184.4" y1="466.4" x2="184.4" y2="542.0" stroke="#707070" stroke-width="1.0" />
<line x1="184.4" y1="542.0" x2="297.84000000000003" y2="542.0" stroke="#707070" stroke-width="1.0" />
<line x1="182.6" y1="542.0" x2="184.4" y2="542.0" stroke="#707070" stroke-width="0.8" />
<text x="181.4" y="544.5" font-size="7.0" text-anchor="end" fill="#2a2a2a" >0</text>
<line x1="182.6" y1="523.1" x2="184.4" y2="523.1" stroke="#707070" stroke-width="0.8" />
<text x="181.4" y="525.6" font-size="7.0" text-anchor="end" fill="#2a2a2a" >100</text>
<line x1="182.6" y1="504.2" x2="184.4" y2="504.2" stroke="#707070" stroke-width="0.8" />
<text x="181.4" y="506.7" font-size="7.0" text-anchor="end" fill="#2a2a2a" >200</text>
<line x1="182.6" y1="485.3" x2="184.4" y2="485.3" stroke="#707070" stroke-width="0.8" />
<text x="181.4" y="487.8" font-size="7.0" text-anchor="end" fill="#2a2a2a" >300</text>
<line x1="182.6" y1="466.4" x2="184.4" y2="466.4" stroke="#707070" stroke-width="0.8" />
<text x="181.4" y="468.9" font-size="7.0" text-anchor="end" fill="#2a2a2a" >400</text>
<line x1="184.4" y1="542.0" x2="184.4" y2="543.8" stroke="#707070" stroke-width="0.8" />
<text x="184.4" y="551.2" font-size="7.0" text-anchor="middle" fill="#2a2a2a" >0</text>
<line x1="212.76000000000002" y1="542.0" x2="212.76000000000002" y2="543.8" stroke="#707070" stroke-width="0.8" />
<text x="212.76000000000002" y="551.2" font-size="7.0" text-anchor="middle" fill="#2a2a2a" >200</text>
<line x1="241.12" y1="542.0" x2="241.12" y2="543.8" stroke="#707070" stroke-width="0.8" />
<text x="241.12" y="551.2" font-size="7.0" text-anchor="middle" fill="#2a2a2a" >400</text>
<line x1="269.48" y1="542.0" x2="269.48" y2="543.8" stroke="#707070" stroke-width="0.8" />
<text x="269.48" y="551.2" font-size="7.0" text-anchor="middle" fill="#2a2a2a" >600</text>
<line x1="297.84000000000003" y1="542.0" x2="297.84000000000003" y2="543.8" stroke="#707070" stroke-width="0.8" />
<text x="297.84000000000003" y="551.2" font-size="7.0" text-anchor="middle" fill="#2a2a2a" >800</text>
<text x="166.0" y="498.0" font-size="6.4" font-weight="bold" text-anchor="middle" transform="rotate(-90 166.0 498.0)" >RU</text>
<text x="230.60000000000002" y="560.8" font-size="6.0" font-weight="bold" textLength="22.2" lengthAdjust="spacingAndGlyphs" >Time (s)</text>
<text x="196.9" y="454.8" font-size="8.0" font-weight="bold" textLength="85.7" lengthAdjust="spacingAndGlyphs" >Tremelimumab (1121)</text>
<text x="218.0" y="467.6" font-size="8.4" fill="#1a1a1a"><tspan font-style="italic">K</tspan><tspan font-size="5.2" dy="1.8">D</tspan><tspan dy="-1.8"> = 4 x 10</tspan><tspan font-size="5" dy="-3.2">−9</tspan></text>
<line x1="305.6" y1="471.8" x2="314.6" y2="471.8" stroke="#c8404e" stroke-width="1.4" />
<text x="319.4" y="474.2" font-size="6.6" fill="#222" textLength="35.1" lengthAdjust="spacingAndGlyphs">1,000 nmol/L</text>
<line x1="305.6" y1="480.78000000000003" x2="314.6" y2="480.78000000000003" stroke="#f2a05a" stroke-width="1.4" />
<text x="319.4" y="483.18" font-size="6.6" fill="#222" textLength="30.0" lengthAdjust="spacingAndGlyphs">500 nmol/L</text>
<line x1="305.6" y1="489.76" x2="314.6" y2="489.76" stroke="#7a2e90" stroke-width="1.4" />
<text x="319.4" y="492.15999999999997" font-size="6.6" fill="#222" textLength="30.0" lengthAdjust="spacingAndGlyphs">250 nmol/L</text>
<line x1="305.6" y1="498.74" x2="314.6" y2="498.74" stroke="#4cd64c" stroke-width="1.4" />
<text x="319.4" y="501.14" font-size="6.6" fill="#222" textLength="30.0" lengthAdjust="spacingAndGlyphs">125 nmol/L</text>
<line x1="305.6" y1="507.72" x2="314.6" y2="507.72" stroke="#5cdcf0" stroke-width="1.4" />
<text x="319.4" y="510.12" font-size="6.6" fill="#222" textLength="31.7" lengthAdjust="spacingAndGlyphs">62.5 nmol/L</text>
<line x1="305.6" y1="516.7" x2="314.6" y2="516.7" stroke="#a48866" stroke-width="1.4" />
<text x="319.4" y="519.1" font-size="6.6" fill="#222" textLength="35.1" lengthAdjust="spacingAndGlyphs">31.25 nmol/L</text>
<text x="365.6" y="457.2" font-size="12.4" font-weight="bold" >G</text>
<line x1="396.0" y1="465.9" x2="396.0" y2="540.3" stroke="#444" stroke-width="0.9" />
<line x1="396.0" y1="540.3" x2="507.4" y2="540.3" stroke="#444" stroke-width="0.9" />
<line x1="394.2" y1="540.3" x2="396.0" y2="540.3" stroke="#444" stroke-width="0.8" />
<text x="393.0" y="542.8" font-size="7.0" text-anchor="end" fill="#2a2a2a" >0.00</text>
<line x1="394.2" y1="521.6999999999999" x2="396.0" y2="521.6999999999999" stroke="#444" stroke-width="0.8" />
<text x="393.0" y="524.1999999999999" font-size="7.0" text-anchor="end" fill="#2a2a2a" >0.05</text>
<line x1="394.2" y1="503.09999999999997" x2="396.0" y2="503.09999999999997" stroke="#444" stroke-width="0.8" />
<text x="393.0" y="505.59999999999997" font-size="7.0" text-anchor="end" fill="#2a2a2a" >0.10</text>
<line x1="394.2" y1="484.49999999999994" x2="396.0" y2="484.49999999999994" stroke="#444" stroke-width="0.8" />
<text x="393.0" y="486.99999999999994" font-size="7.0" text-anchor="end" fill="#2a2a2a" >0.15</text>
<line x1="394.2" y1="465.9" x2="396.0" y2="465.9" stroke="#444" stroke-width="0.8" />
<text x="393.0" y="468.4" font-size="7.0" text-anchor="end" fill="#2a2a2a" >0.20</text>
<line x1="394.98" y1="540.3" x2="394.98" y2="542.0999999999999" stroke="#444" stroke-width="0.8" />
<text x="393.78000000000003" y="549.8" font-size="7.0" text-anchor="middle" fill="#2a2a2a" >−4</text>
<line x1="409.01000000000005" y1="540.3" x2="409.01000000000005" y2="542.0999999999999" stroke="#444" stroke-width="0.8" />
<text x="407.81000000000006" y="549.8" font-size="7.0" text-anchor="middle" fill="#2a2a2a" >−3</text>
<line x1="423.04" y1="540.3" x2="423.04" y2="542.0999999999999" stroke="#444" stroke-width="0.8" />
<text x="421.84000000000003" y="549.8" font-size="7.0" text-anchor="middle" fill="#2a2a2a" >−2</text>
<line x1="437.07000000000005" y1="540.3" x2="437.07000000000005" y2="542.0999999999999" stroke="#444" stroke-width="0.8" />
<text x="435.87000000000006" y="549.8" font-size="7.0" text-anchor="middle" fill="#2a2a2a" >−1</text>
<line x1="451.1" y1="540.3" x2="451.1" y2="542.0999999999999" stroke="#444" stroke-width="0.8" />
<text x="451.1" y="549.8" font-size="7.0" text-anchor="middle" fill="#2a2a2a" >0</text>
<line x1="465.13" y1="540.3" x2="465.13" y2="542.0999999999999" stroke="#444" stroke-width="0.8" />
<text x="465.13" y="549.8" font-size="7.0" text-anchor="middle" fill="#2a2a2a" >1</text>
<line x1="479.16" y1="540.3" x2="479.16" y2="542.0999999999999" stroke="#444" stroke-width="0.8" />
<text x="479.16" y="549.8" font-size="7.0" text-anchor="middle" fill="#2a2a2a" >2</text>
<line x1="493.19" y1="540.3" x2="493.19" y2="542.0999999999999" stroke="#444" stroke-width="0.8" />
<text x="493.19" y="549.8" font-size="7.0" text-anchor="middle" fill="#2a2a2a" >3</text>
<line x1="507.22" y1="540.3" x2="507.22" y2="542.0999999999999" stroke="#444" stroke-width="0.8" />
<text x="507.22" y="549.8" font-size="7.0" text-anchor="middle" fill="#2a2a2a" >4</text>
<text x="376.6" y="500.6" font-size="6.3" text-anchor="middle" textLength="60.1" lengthAdjust="spacingAndGlyphs" transform="rotate(-90 376.6 500.6)" >Absorbance (450 nm)</text>
<text x="431.0" y="559.6" font-size="6.0" font-weight="bold" textLength="44.0" lengthAdjust="spacingAndGlyphs" >IgG (log μg/mL)</text>
<polyline points="409.99,490.45 418.41,487.10 426.83,489.71 435.25,492.68 460.50,494.17 468.92,499.01 477.34,521.70 485.75,535.84 494.31,538.07" fill="none" stroke="#8c1c1c" stroke-width="1.2"/>
<circle cx="409.99" cy="490.45" r="1.35" fill="#8c1c1c"/>
<circle cx="418.41" cy="487.10" r="1.35" fill="#8c1c1c"/>
<circle cx="426.83" cy="489.71" r="1.35" fill="#8c1c1c"/>
<circle cx="435.25" cy="492.68" r="1.35" fill="#8c1c1c"/>
<circle cx="460.50" cy="494.17" r="1.35" fill="#8c1c1c"/>
<circle cx="468.92" cy="499.01" r="1.35" fill="#8c1c1c"/>
<circle cx="477.34" cy="521.70" r="1.35" fill="#8c1c1c"/>
<circle cx="485.75" cy="535.84" r="1.35" fill="#8c1c1c"/>
<circle cx="494.31" cy="538.07" r="1.35" fill="#8c1c1c"/>
<polyline points="409.99,497.89 418.41,495.66 426.83,493.06 435.25,496.40 460.50,497.89 468.92,505.70 477.34,516.49 485.75,530.26 494.31,536.95" fill="none" stroke="#3a7ae2" stroke-width="1.2"/>
<circle cx="409.99" cy="497.89" r="1.35" fill="#3a7ae2"/>
<circle cx="418.41" cy="495.66" r="1.35" fill="#3a7ae2"/>
<circle cx="426.83" cy="493.06" r="1.35" fill="#3a7ae2"/>
<circle cx="435.25" cy="496.40" r="1.35" fill="#3a7ae2"/>
<circle cx="460.50" cy="497.89" r="1.35" fill="#3a7ae2"/>
<circle cx="468.92" cy="505.70" r="1.35" fill="#3a7ae2"/>
<circle cx="477.34" cy="516.49" r="1.35" fill="#3a7ae2"/>
<circle cx="485.75" cy="530.26" r="1.35" fill="#3a7ae2"/>
<circle cx="494.31" cy="536.95" r="1.35" fill="#3a7ae2"/>
<line x1="405.0" y1="461.6" x2="414.4" y2="461.6" stroke="#3a7ae2" stroke-width="1.2" />
<circle cx="409.7" cy="461.6" r="1.3" fill="#3a7ae2"/>
<text x="418.5" y="464.1" font-size="6.6" fill="#333">10D1-IgG<tspan font-size="4.4" dy="1.6">2</tspan></text>
<line x1="452.6" y1="461.6" x2="461.8" y2="461.6" stroke="#8c1c1c" stroke-width="1.2" />
<circle cx="457.2" cy="461.6" r="1.3" fill="#8c1c1c"/>
<text x="465.8" y="464.1" font-size="6.6" fill="#333">1121-IgG<tspan font-size="4.4" dy="1.6">2</tspan></text>
</svg></body></html>
